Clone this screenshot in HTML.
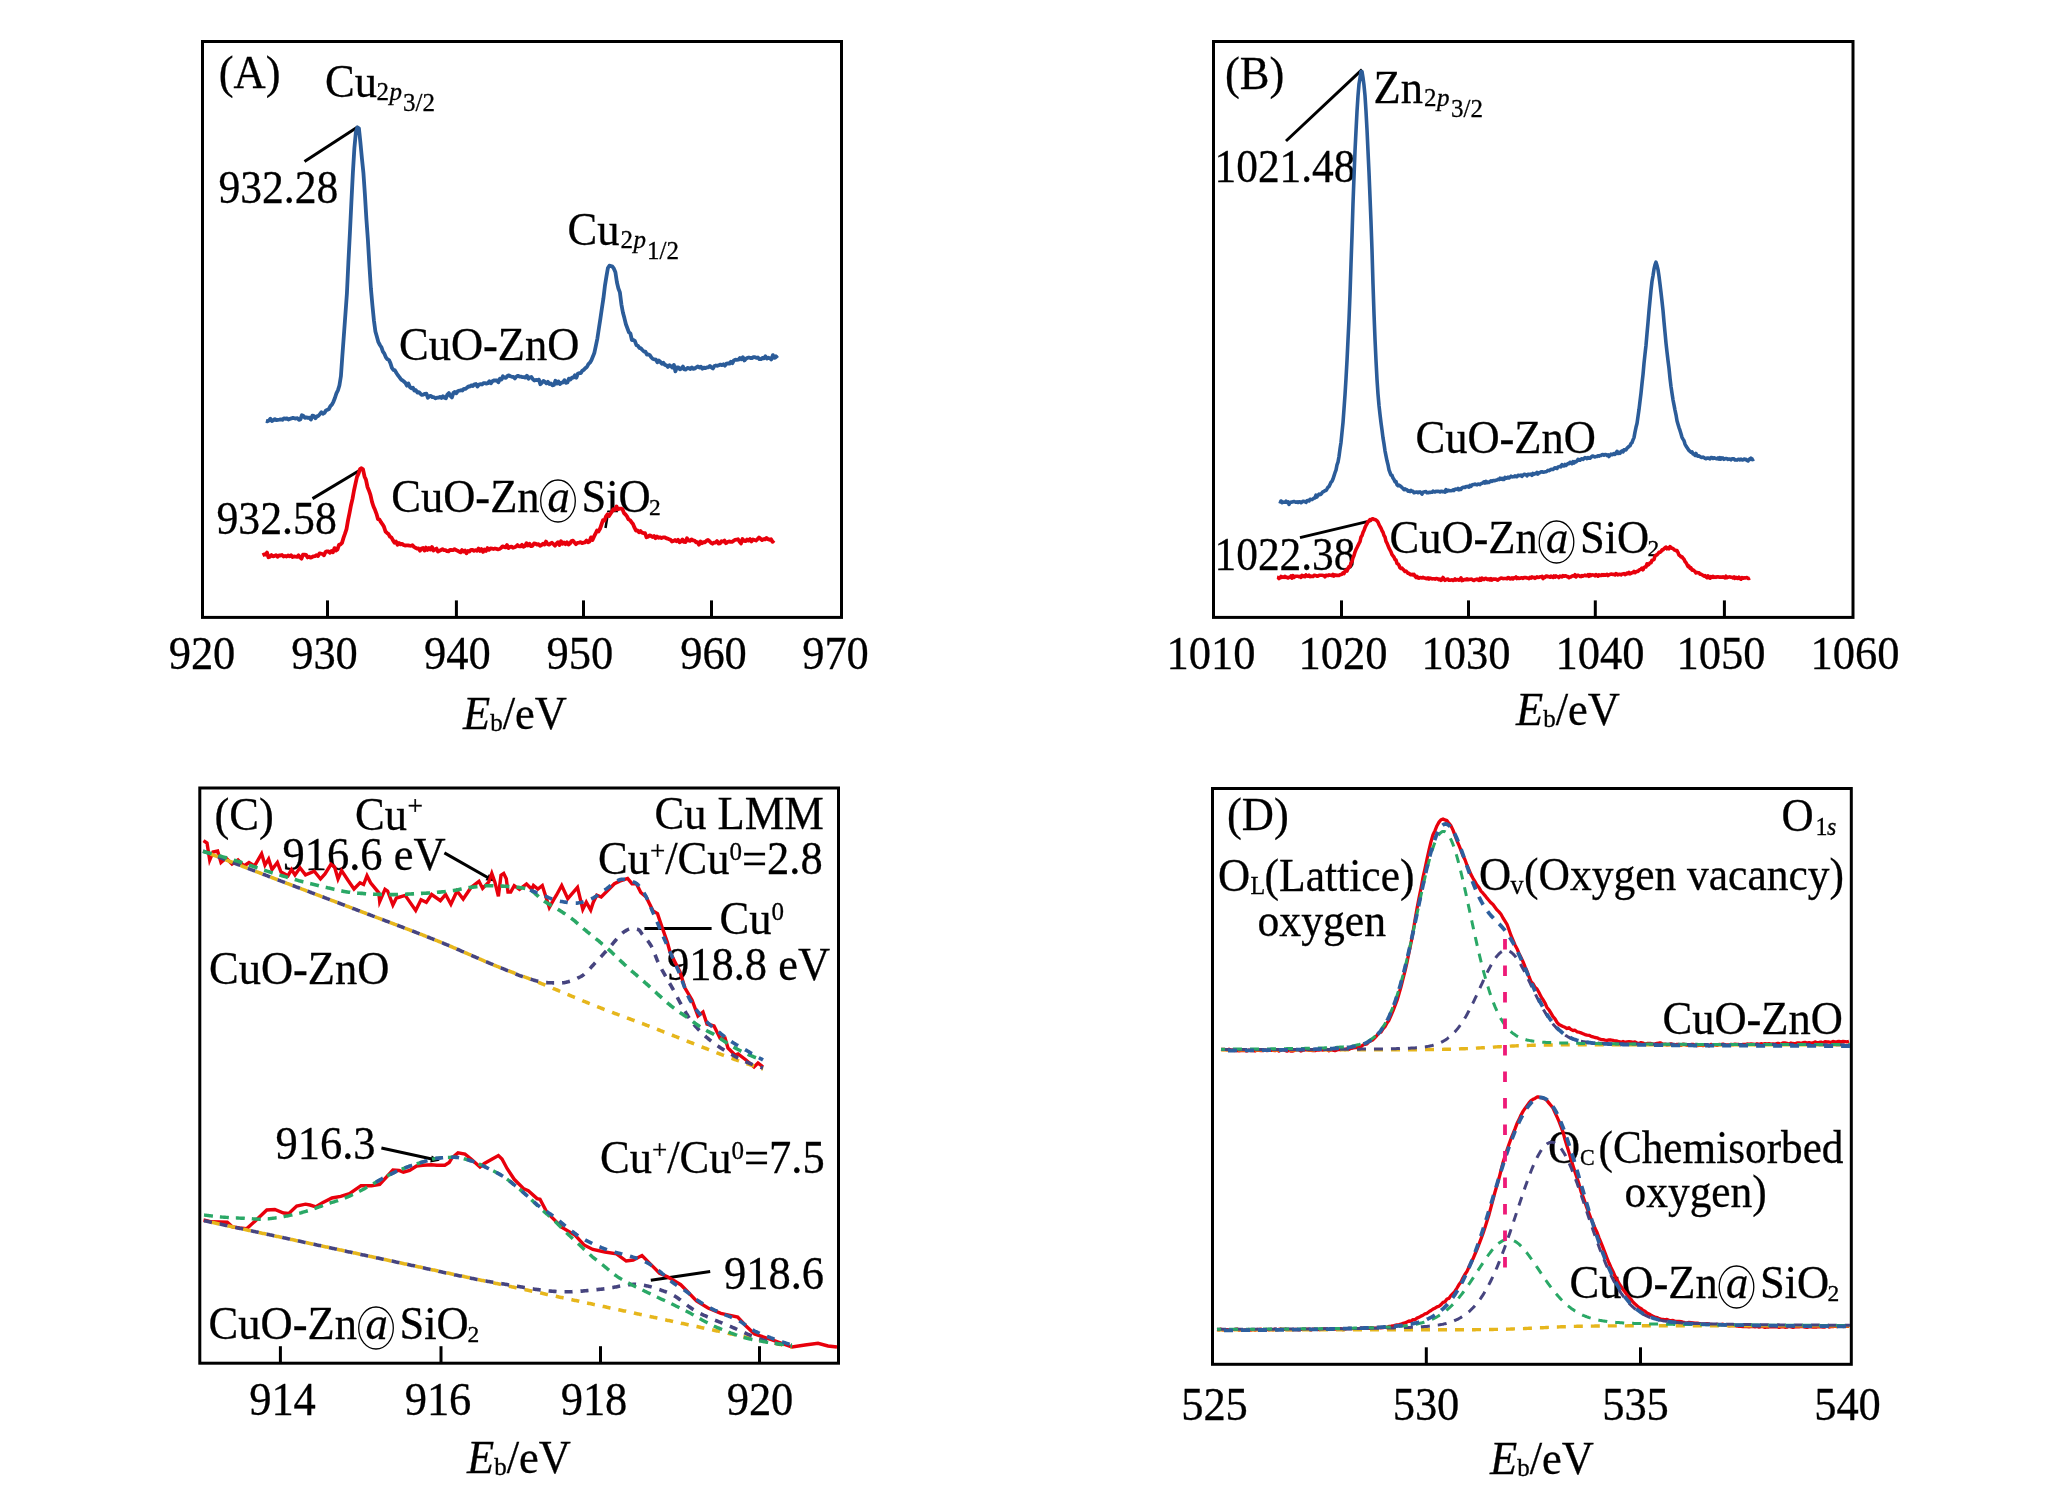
<!DOCTYPE html>
<html><head><meta charset="utf-8"><style>
html,body{margin:0;padding:0;background:#fff;}
svg{display:block;font-family:"Liberation Serif",serif;will-change:transform;}
text{stroke:#000;stroke-width:0.3px;}
</style></head><body>
<svg width="2047" height="1496" viewBox="0 0 2047 1496">
<rect width="2047" height="1496" fill="#fff"/>
<rect x="202.5" y="41.5" width="639.0" height="575.9" fill="none" stroke="#000" stroke-width="3"/>
<line x1="327.5" y1="617.4" x2="327.5" y2="600.4" stroke="#000" stroke-width="3"/>
<line x1="456.4" y1="617.4" x2="456.4" y2="600.4" stroke="#000" stroke-width="3"/>
<line x1="583.5" y1="617.4" x2="583.5" y2="600.4" stroke="#000" stroke-width="3"/>
<line x1="711.5" y1="617.4" x2="711.5" y2="600.4" stroke="#000" stroke-width="3"/>
<text transform="translate(202 668.5) scale(1 1.02)" font-size="44.5" text-anchor="middle">920</text>
<text transform="translate(324.5 668.5) scale(1 1.02)" font-size="44.5" text-anchor="middle">930</text>
<text transform="translate(457.4 668.5) scale(1 1.02)" font-size="44.5" text-anchor="middle">940</text>
<text transform="translate(579.9 668.5) scale(1 1.02)" font-size="44.5" text-anchor="middle">950</text>
<text transform="translate(713.5 668.5) scale(1 1.02)" font-size="44.5" text-anchor="middle">960</text>
<text transform="translate(835.5 668.5) scale(1 1.02)" font-size="44.5" text-anchor="middle">970</text>
<text transform="translate(515 729) scale(1 1.02)" font-size="44.5" text-anchor="middle"><tspan font-style="italic">E</tspan><tspan font-size="25" dy="2">b</tspan><tspan dy="-2">/eV</tspan></text>
<text transform="translate(218.7 88) scale(1 1.02)" font-size="44.5" text-anchor="start">(A)</text>
<text transform="translate(325 97) scale(1 1.02)" font-size="44.5" text-anchor="start">Cu</text>
<text transform="translate(376.5 100) scale(1 1.02)" font-size="25" text-anchor="start">2</text>
<text transform="translate(389.5 100) scale(1 1.02)" font-size="25" text-anchor="start" font-style="italic">p</text>
<text transform="translate(403 111) scale(1 1.02)" font-size="25" text-anchor="start">3/2</text>
<text transform="translate(218.5 202.8) scale(1 1.02)" font-size="44.5" text-anchor="start" textLength="119.8" lengthAdjust="spacingAndGlyphs">932.28</text>
<line x1="304.5" y1="161.4" x2="358" y2="126.8" stroke="#000" stroke-width="3"/>
<text transform="translate(567.5 245) scale(1 1.02)" font-size="44.5" text-anchor="start">Cu</text>
<text transform="translate(620.5 248) scale(1 1.02)" font-size="25" text-anchor="start">2</text>
<text transform="translate(633.5 248) scale(1 1.02)" font-size="25" text-anchor="start" font-style="italic">p</text>
<text transform="translate(647 259) scale(1 1.02)" font-size="25" text-anchor="start">1/2</text>
<text transform="translate(399 360.3) scale(1 1.02)" font-size="44.5" text-anchor="start">CuO-ZnO</text>
<text transform="translate(216.5 534) scale(1 1.02)" font-size="44.5" text-anchor="start" textLength="120.3" lengthAdjust="spacingAndGlyphs">932.58</text>
<line x1="312.5" y1="498.6" x2="359.4" y2="470.5" stroke="#000" stroke-width="3"/>
<text transform="translate(391.3 511.5) scale(1 1.02)" font-size="44.5" text-anchor="start">CuO-Zn</text>
<ellipse cx="558" cy="501" rx="17.3" ry="21" fill="none" stroke="#000" stroke-width="1.3"/>
<text transform="translate(547.5 511.5) scale(1 1.02)" font-size="44.5" text-anchor="start" font-style="italic">a</text>
<text transform="translate(581.5 511.5) scale(1 1.02)" font-size="44.5" text-anchor="start">SiO</text>
<text transform="translate(649 514.6) scale(1 1.02)" font-size="23.5" text-anchor="start">2</text>
<line x1="605.5" y1="528" x2="607.5" y2="516" stroke="#000" stroke-width="2.5"/>
<polyline points="265.9,420.9 267.4,421.3 268.9,420.6 270.4,418.7 271.9,421.0 273.4,420.3 274.9,419.1 276.4,420.2 277.9,419.9 279.4,419.7 280.9,419.3 282.4,419.8 283.9,418.3 285.4,418.8 286.9,418.4 288.4,419.5 289.9,418.8 291.4,418.4 292.9,417.8 294.4,418.3 295.9,418.5 297.4,418.2 298.9,419.8 300.4,419.4 301.9,415.2 303.4,416.0 304.9,417.8 306.4,417.4 307.9,417.9 309.4,417.7 310.9,419.5 312.4,415.6 313.9,416.1 315.4,418.3 316.9,416.4 318.4,415.9 319.9,414.1 321.4,412.3 322.9,413.7 324.4,412.9 325.9,410.4 327.4,409.8 328.9,409.0 330.4,406.2 331.9,404.7 333.4,401.8 334.9,398.0 336.4,393.3 337.9,390.4 339.4,385.5 340.9,376.3 342.4,355.2 343.9,334.8 345.4,314.3 346.9,293.6 348.4,262.0 349.9,233.0 351.4,201.8 352.9,172.3 354.4,147.9 355.9,132.0 357.4,127.4 358.9,128.3 360.4,142.5 361.9,158.3 363.4,172.7 364.9,194.4 366.4,219.1 367.9,239.8 369.4,265.4 370.9,288.5 372.4,305.1 373.9,320.3 375.4,331.4 376.9,336.7 378.4,342.2 379.9,345.0 381.4,347.2 382.9,351.6 384.4,353.7 385.9,357.4 387.4,359.3 388.9,359.9 390.4,363.1 391.9,367.9 393.4,369.9 394.9,370.4 396.4,373.0 397.9,375.3 399.4,377.1 400.9,379.3 402.4,380.3 403.9,381.5 405.4,382.9 406.9,385.7 408.4,383.4 409.9,387.0 411.4,388.3 412.9,387.7 414.4,390.6 415.9,390.2 417.4,392.6 418.9,392.2 420.4,393.7 421.9,394.9 423.4,394.6 424.9,393.8 426.4,393.7 427.9,397.8 429.4,396.2 430.9,395.9 432.4,397.2 433.9,397.1 435.4,398.4 436.9,397.7 438.4,397.7 439.9,396.9 441.4,398.0 442.9,396.2 444.4,397.7 445.9,398.3 447.4,394.5 448.9,393.0 450.4,395.9 451.9,397.4 453.4,392.9 454.9,391.9 456.4,393.3 457.9,391.0 459.4,390.7 460.9,390.2 462.4,390.5 463.9,388.8 465.4,388.9 466.9,387.8 468.4,386.5 469.9,386.5 471.4,385.3 472.9,386.0 474.4,384.3 475.9,384.0 477.4,386.5 478.9,384.5 480.4,384.2 481.9,384.5 483.4,383.2 484.9,383.2 486.4,383.6 487.9,383.2 489.4,381.3 490.9,383.2 492.4,381.3 493.9,380.5 495.4,380.3 496.9,380.5 498.4,382.3 499.9,378.7 501.4,379.6 502.9,376.3 504.4,377.7 505.9,377.9 507.4,376.0 508.9,375.3 510.4,376.3 511.9,376.8 513.4,376.9 514.9,378.4 516.4,376.6 517.9,375.8 519.4,376.5 520.9,376.7 522.4,377.1 523.9,377.1 525.4,377.6 526.9,375.7 528.4,378.7 529.9,377.4 531.4,377.0 532.9,379.3 534.4,380.5 535.9,380.0 537.4,380.2 538.9,379.6 540.4,384.3 541.9,382.7 543.4,381.0 544.9,381.9 546.4,383.3 547.9,381.8 549.4,384.0 550.9,383.5 552.4,385.3 553.9,385.0 555.4,380.8 556.9,383.6 558.4,381.4 559.9,384.0 561.4,382.6 562.9,382.5 564.4,380.2 565.9,382.9 567.4,382.5 568.9,378.6 570.4,379.5 571.9,377.7 573.4,377.6 574.9,375.3 576.4,377.7 577.9,373.5 579.4,373.2 580.9,373.0 582.4,370.6 583.9,369.8 585.4,368.1 586.9,367.0 588.4,364.1 589.9,362.7 591.4,360.2 592.9,356.6 594.4,352.7 595.9,345.7 597.4,338.3 598.9,328.2 600.4,318.6 601.9,308.3 603.4,298.4 604.9,285.9 606.4,276.6 607.9,268.0 609.4,265.7 610.9,266.0 612.4,266.6 613.9,268.7 615.4,272.3 616.9,282.3 618.4,288.5 619.9,292.4 621.4,304.3 622.9,312.5 624.4,318.1 625.9,324.3 627.4,328.2 628.9,332.3 630.4,333.5 631.9,340.0 633.4,339.9 634.9,341.1 636.4,345.2 637.9,345.7 639.4,347.9 640.9,348.4 642.4,350.0 643.9,351.5 645.4,351.7 646.9,354.5 648.4,354.5 649.9,355.2 651.4,357.5 652.9,359.0 654.4,359.3 655.9,359.6 657.4,362.3 658.9,360.6 660.4,362.0 661.9,363.8 663.4,362.8 664.9,364.9 666.4,365.3 667.9,366.9 669.4,365.3 670.9,366.1 672.4,367.6 673.9,364.9 675.4,371.3 676.9,367.4 678.4,367.5 679.9,369.4 681.4,368.5 682.9,366.6 684.4,369.3 685.9,369.5 687.4,368.0 688.9,368.2 690.4,369.0 691.9,367.4 693.4,368.8 694.9,368.4 696.4,367.3 697.9,366.4 699.4,367.6 700.9,366.8 702.4,368.7 703.9,367.6 705.4,368.2 706.9,367.3 708.4,367.3 709.9,366.0 711.4,367.4 712.9,368.4 714.4,366.0 715.9,365.5 717.4,365.8 718.9,365.2 720.4,364.6 721.9,365.2 723.4,364.3 724.9,365.7 726.4,363.7 727.9,363.5 729.4,363.7 730.9,361.8 732.4,363.2 733.9,360.4 735.4,359.7 736.9,359.8 738.4,359.7 739.9,357.9 741.4,359.2 742.9,357.2 744.4,360.4 745.9,358.7 747.4,357.9 748.9,357.5 750.4,358.0 751.9,358.1 753.4,357.1 754.9,357.2 756.4,357.9 757.9,357.5 759.4,359.1 760.9,359.2 762.4,357.9 763.9,358.4 765.4,356.3 766.9,358.5 768.4,357.7 769.9,358.2 771.4,359.4 772.9,355.1 774.4,357.8 775.9,356.3 777.4,358.2" fill="none" stroke="#2b5c99" stroke-width="3.8" stroke-linejoin="round" opacity="1"/>
<polyline points="262.5,555.2 264.0,554.5 265.5,554.7 267.0,552.6 268.5,557.3 270.0,556.7 271.5,555.1 273.0,556.4 274.5,555.9 276.0,555.1 277.5,556.8 279.0,555.5 280.5,555.5 282.0,555.0 283.5,556.5 285.0,555.9 286.5,556.6 288.0,555.4 289.5,556.3 291.0,555.2 292.5,557.1 294.0,556.5 295.5,556.7 297.0,556.8 298.5,555.3 300.0,557.3 301.5,558.7 303.0,554.7 304.5,554.6 306.0,554.8 307.5,557.4 309.0,556.6 310.5,557.6 312.0,557.1 313.5,556.3 315.0,556.1 316.5,555.2 318.0,556.0 319.5,553.3 321.0,553.7 322.5,554.0 324.0,555.3 325.5,552.0 327.0,551.3 328.5,551.5 330.0,552.8 331.5,551.0 333.0,552.2 334.5,548.1 336.0,550.6 337.5,549.4 339.0,544.9 340.5,544.4 342.0,542.9 343.5,537.9 345.0,533.7 346.5,529.1 348.0,520.4 349.5,513.2 351.0,505.2 352.5,498.9 354.0,490.5 355.5,483.6 357.0,476.9 358.5,473.7 360.0,469.2 361.5,468.2 363.0,469.3 364.5,476.4 366.0,479.8 367.5,487.0 369.0,490.7 370.5,495.1 372.0,501.9 373.5,506.5 375.0,509.8 376.5,513.8 378.0,519.2 379.5,519.6 381.0,522.2 382.5,524.3 384.0,526.8 385.5,531.5 387.0,532.9 388.5,534.1 390.0,536.7 391.5,537.6 393.0,540.4 394.5,542.7 396.0,541.6 397.5,544.8 399.0,543.0 400.5,544.4 402.0,543.8 403.5,544.9 405.0,545.5 406.5,545.4 408.0,545.4 409.5,545.7 411.0,545.8 412.5,545.2 414.0,546.9 415.5,547.8 417.0,548.6 418.5,548.5 420.0,550.7 421.5,548.5 423.0,547.9 424.5,550.6 426.0,547.6 427.5,549.9 429.0,548.0 430.5,549.6 432.0,547.1 433.5,550.4 435.0,549.4 436.5,548.6 438.0,551.6 439.5,550.7 441.0,550.0 442.5,549.2 444.0,550.1 445.5,550.1 447.0,551.1 448.5,551.3 450.0,549.8 451.5,550.0 453.0,550.1 454.5,549.2 456.0,550.1 457.5,550.7 459.0,551.6 460.5,552.4 462.0,550.1 463.5,551.6 465.0,550.5 466.5,553.3 468.0,550.9 469.5,551.5 471.0,549.8 472.5,549.9 474.0,550.9 475.5,550.1 477.0,550.8 478.5,548.6 480.0,550.9 481.5,549.1 483.0,551.9 484.5,549.5 486.0,550.9 487.5,548.1 489.0,549.9 490.5,548.3 492.0,548.6 493.5,549.0 495.0,548.5 496.5,548.9 498.0,549.3 499.5,549.0 501.0,548.0 502.5,546.4 504.0,546.9 505.5,547.4 507.0,545.1 508.5,548.1 510.0,546.8 511.5,546.6 513.0,547.8 514.5,547.3 516.0,546.6 517.5,545.1 519.0,546.4 520.5,546.3 522.0,544.8 523.5,546.8 525.0,546.1 526.5,543.2 528.0,545.4 529.5,543.7 531.0,546.2 532.5,545.8 534.0,543.5 535.5,543.6 537.0,544.6 538.5,544.1 540.0,545.9 541.5,545.0 543.0,543.8 544.5,544.6 546.0,541.6 547.5,544.1 549.0,544.7 550.5,543.5 552.0,542.8 553.5,544.2 555.0,545.7 556.5,543.7 558.0,542.2 559.5,545.0 561.0,541.3 562.5,543.8 564.0,542.6 565.5,544.2 567.0,542.2 568.5,544.6 570.0,543.4 571.5,541.1 573.0,540.7 574.5,542.5 576.0,544.2 577.5,542.8 579.0,542.6 580.5,542.2 582.0,543.1 583.5,542.6 585.0,542.3 586.5,540.6 588.0,542.3 589.5,541.5 591.0,537.4 592.5,540.0 594.0,536.7 595.5,533.7 597.0,530.5 598.5,531.4 600.0,528.8 601.5,524.5 603.0,520.2 604.5,520.6 606.0,516.3 607.5,514.3 609.0,516.0 610.5,513.7 612.0,511.5 613.5,509.1 615.0,509.8 616.5,506.5 618.0,509.3 619.5,508.7 621.0,508.6 622.5,509.2 624.0,513.1 625.5,514.5 627.0,516.4 628.5,519.4 630.0,520.1 631.5,522.2 633.0,524.0 634.5,527.7 636.0,530.5 637.5,530.5 639.0,532.3 640.5,531.1 642.0,532.7 643.5,533.1 645.0,533.2 646.5,537.3 648.0,536.7 649.5,535.4 651.0,535.9 652.5,537.1 654.0,535.9 655.5,538.2 657.0,536.6 658.5,537.8 660.0,537.3 661.5,538.1 663.0,537.4 664.5,537.3 666.0,538.1 667.5,538.6 669.0,539.2 670.5,539.8 672.0,541.6 673.5,541.0 675.0,540.0 676.5,541.2 678.0,539.8 679.5,542.3 681.0,541.4 682.5,539.4 684.0,541.9 685.5,542.0 687.0,538.3 688.5,540.5 690.0,540.9 691.5,539.4 693.0,540.4 694.5,540.6 696.0,542.3 697.5,542.1 699.0,544.7 700.5,541.5 702.0,543.2 703.5,542.1 705.0,542.3 706.5,540.7 708.0,539.9 709.5,541.2 711.0,542.8 712.5,543.7 714.0,542.6 715.5,542.5 717.0,541.0 718.5,543.5 720.0,543.3 721.5,541.2 723.0,541.7 724.5,540.6 726.0,543.2 727.5,542.0 729.0,541.4 730.5,541.9 732.0,541.8 733.5,540.8 735.0,539.9 736.5,539.7 738.0,539.2 739.5,541.5 741.0,543.4 742.5,539.0 744.0,540.9 745.5,541.1 747.0,539.5 748.5,540.6 750.0,539.1 751.5,541.5 753.0,539.4 754.5,540.0 756.0,540.5 757.5,539.1 759.0,537.5 760.5,538.8 762.0,540.1 763.5,539.1 765.0,539.4 766.5,537.9 768.0,539.2 769.5,539.8 771.0,539.2 772.5,541.8 774.0,540.3" fill="none" stroke="#e8000c" stroke-width="3.8" stroke-linejoin="round" opacity="1"/>
<rect x="1213.5" y="41.5" width="639.5" height="575.9" fill="none" stroke="#000" stroke-width="3"/>
<line x1="1341.5" y1="617.4" x2="1341.5" y2="600.4" stroke="#000" stroke-width="3"/>
<line x1="1468.5" y1="617.4" x2="1468.5" y2="600.4" stroke="#000" stroke-width="3"/>
<line x1="1595.3" y1="617.4" x2="1595.3" y2="600.4" stroke="#000" stroke-width="3"/>
<line x1="1724.4" y1="617.4" x2="1724.4" y2="600.4" stroke="#000" stroke-width="3"/>
<text transform="translate(1211 668.5) scale(1 1.02)" font-size="44.5" text-anchor="middle">1010</text>
<text transform="translate(1343 668.5) scale(1 1.02)" font-size="44.5" text-anchor="middle">1020</text>
<text transform="translate(1466 668.5) scale(1 1.02)" font-size="44.5" text-anchor="middle">1030</text>
<text transform="translate(1600 668.5) scale(1 1.02)" font-size="44.5" text-anchor="middle">1040</text>
<text transform="translate(1721 668.5) scale(1 1.02)" font-size="44.5" text-anchor="middle">1050</text>
<text transform="translate(1855 668.5) scale(1 1.02)" font-size="44.5" text-anchor="middle">1060</text>
<text transform="translate(1568 725) scale(1 1.02)" font-size="44.5" text-anchor="middle"><tspan font-style="italic">E</tspan><tspan font-size="25" dy="2">b</tspan><tspan dy="-2">/eV</tspan></text>
<text transform="translate(1225 88.5) scale(1 1.02)" font-size="44.5" text-anchor="start">(B)</text>
<text transform="translate(1373.5 103) scale(1 1.02)" font-size="44.5" text-anchor="start">Zn</text>
<text transform="translate(1424 106) scale(1 1.02)" font-size="25" text-anchor="start">2</text>
<text transform="translate(1437 106) scale(1 1.02)" font-size="25" text-anchor="start" font-style="italic">p</text>
<text transform="translate(1451 117) scale(1 1.02)" font-size="25" text-anchor="start">3/2</text>
<text transform="translate(1214.5 181.5) scale(1 1.02)" font-size="44.5" text-anchor="start" textLength="141" lengthAdjust="spacingAndGlyphs">1021.48</text>
<line x1="1286" y1="141" x2="1362" y2="69.7" stroke="#000" stroke-width="3"/>
<text transform="translate(1415.5 453.4) scale(1 1.02)" font-size="44.5" text-anchor="start">CuO-ZnO</text>
<text transform="translate(1214.5 569.5) scale(1 1.02)" font-size="44.5" text-anchor="start" textLength="141" lengthAdjust="spacingAndGlyphs">1022.38</text>
<line x1="1300" y1="537.6" x2="1371.3" y2="520.6" stroke="#000" stroke-width="3"/>
<text transform="translate(1389.5 552.7) scale(1 1.02)" font-size="44.5" text-anchor="start">CuO-Zn</text>
<ellipse cx="1556.5" cy="542" rx="17.3" ry="21" fill="none" stroke="#000" stroke-width="1.3"/>
<text transform="translate(1546.0 552.7) scale(1 1.02)" font-size="44.5" text-anchor="start" font-style="italic">a</text>
<text transform="translate(1580 552.7) scale(1 1.02)" font-size="44.5" text-anchor="start">SiO</text>
<text transform="translate(1647.5 556) scale(1 1.02)" font-size="23.5" text-anchor="start">2</text>
<polyline points="1280.0,503.7 1281.0,501.0 1282.0,502.7 1283.0,502.1 1284.0,502.2 1285.0,502.3 1286.0,501.2 1287.0,502.3 1288.0,501.9 1289.0,504.3 1290.0,502.5 1291.0,502.1 1292.0,502.1 1293.0,501.8 1294.0,501.5 1295.0,501.9 1296.0,502.3 1297.0,501.8 1298.0,502.5 1299.0,501.7 1300.0,501.8 1301.0,502.7 1302.0,502.0 1303.0,501.3 1304.0,501.4 1305.0,501.7 1306.0,502.4 1307.0,500.8 1308.0,500.5 1309.0,501.0 1310.0,499.4 1311.0,499.4 1312.0,499.6 1313.0,498.9 1314.0,498.1 1315.0,497.9 1316.0,495.2 1317.0,497.0 1318.0,495.2 1319.0,494.1 1320.0,494.7 1321.0,494.3 1322.0,492.9 1323.0,491.7 1324.0,491.5 1325.0,490.5 1326.0,490.4 1327.0,488.9 1328.0,487.3 1329.0,486.6 1330.0,484.4 1331.0,482.3 1332.0,481.3 1333.0,479.0 1334.0,475.9 1335.0,472.7 1336.0,470.1 1337.0,464.8 1338.0,462.1 1339.0,456.5 1340.0,449.0 1341.0,442.4 1342.0,432.4 1343.0,422.6 1344.0,408.8 1345.0,394.9 1346.0,378.7 1347.0,360.7 1348.0,339.9 1349.0,319.7 1350.0,294.2 1351.0,264.3 1352.0,235.9 1353.0,203.5 1354.0,176.9 1355.0,151.0 1356.0,130.8 1357.0,111.5 1358.0,95.8 1359.0,84.0 1360.0,78.1 1361.0,71.5 1362.0,71.5 1363.0,77.8 1364.0,85.3 1365.0,95.7 1366.0,111.3 1367.0,129.5 1368.0,151.2 1369.0,172.4 1370.0,196.9 1371.0,222.1 1372.0,250.1 1373.0,284.1 1374.0,313.8 1375.0,339.0 1376.0,360.5 1377.0,379.4 1378.0,394.2 1379.0,405.5 1380.0,414.5 1381.0,422.8 1382.0,429.9 1383.0,437.9 1384.0,443.9 1385.0,450.8 1386.0,455.9 1387.0,460.8 1388.0,464.7 1389.0,469.8 1390.0,472.5 1391.0,475.2 1392.0,475.3 1393.0,478.1 1394.0,479.6 1395.0,481.8 1396.0,481.5 1397.0,484.7 1398.0,485.7 1399.0,485.1 1400.0,485.9 1401.0,486.5 1402.0,487.6 1403.0,488.4 1404.0,489.7 1405.0,488.8 1406.0,489.8 1407.0,489.9 1408.0,491.2 1409.0,490.9 1410.0,491.6 1411.0,490.5 1412.0,491.3 1413.0,491.2 1414.0,492.8 1415.0,492.5 1416.0,492.0 1417.0,492.1 1418.0,492.7 1419.0,492.1 1420.0,491.9 1421.0,492.8 1422.0,494.0 1423.0,492.3 1424.0,492.1 1425.0,491.7 1426.0,491.6 1427.0,492.7 1428.0,492.8 1429.0,492.3 1430.0,492.4 1431.0,492.2 1432.0,492.2 1433.0,491.1 1434.0,491.7 1435.0,492.0 1436.0,491.4 1437.0,491.5 1438.0,491.2 1439.0,491.4 1440.0,492.0 1441.0,491.2 1442.0,491.3 1443.0,491.8 1444.0,491.6 1445.0,492.1 1446.0,489.7 1447.0,491.3 1448.0,490.3 1449.0,490.5 1450.0,490.8 1451.0,490.8 1452.0,490.6 1453.0,489.8 1454.0,490.5 1455.0,489.2 1456.0,489.1 1457.0,489.4 1458.0,488.4 1459.0,489.8 1460.0,488.9 1461.0,489.3 1462.0,487.8 1463.0,487.3 1464.0,487.4 1465.0,487.5 1466.0,486.5 1467.0,486.8 1468.0,486.3 1469.0,487.1 1470.0,485.5 1471.0,486.3 1472.0,485.0 1473.0,484.6 1474.0,484.5 1475.0,484.0 1476.0,484.6 1477.0,484.9 1478.0,484.1 1479.0,484.2 1480.0,484.6 1481.0,483.6 1482.0,483.3 1483.0,482.9 1484.0,481.8 1485.0,483.1 1486.0,481.3 1487.0,482.6 1488.0,482.0 1489.0,482.5 1490.0,481.5 1491.0,480.9 1492.0,481.4 1493.0,480.6 1494.0,480.6 1495.0,480.6 1496.0,480.2 1497.0,480.0 1498.0,479.4 1499.0,479.6 1500.0,478.2 1501.0,479.2 1502.0,478.3 1503.0,479.5 1504.0,479.4 1505.0,477.3 1506.0,478.3 1507.0,478.0 1508.0,477.2 1509.0,478.0 1510.0,477.2 1511.0,476.2 1512.0,476.9 1513.0,476.8 1514.0,476.8 1515.0,475.8 1516.0,476.7 1517.0,476.6 1518.0,475.3 1519.0,475.4 1520.0,475.6 1521.0,475.1 1522.0,476.3 1523.0,475.3 1524.0,474.4 1525.0,474.4 1526.0,474.7 1527.0,475.9 1528.0,474.3 1529.0,474.4 1530.0,474.5 1531.0,474.0 1532.0,475.3 1533.0,473.5 1534.0,474.1 1535.0,473.6 1536.0,473.7 1537.0,472.4 1538.0,474.0 1539.0,472.7 1540.0,472.6 1541.0,471.8 1542.0,471.7 1543.0,472.2 1544.0,472.2 1545.0,471.8 1546.0,471.8 1547.0,471.2 1548.0,470.4 1549.0,470.6 1550.0,470.1 1551.0,469.3 1552.0,469.5 1553.0,469.5 1554.0,468.5 1555.0,467.8 1556.0,468.1 1557.0,468.5 1558.0,466.9 1559.0,466.7 1560.0,466.3 1561.0,466.8 1562.0,464.7 1563.0,465.7 1564.0,465.9 1565.0,464.4 1566.0,465.4 1567.0,464.5 1568.0,463.5 1569.0,463.7 1570.0,462.3 1571.0,462.6 1572.0,463.7 1573.0,461.7 1574.0,463.0 1575.0,461.6 1576.0,461.9 1577.0,461.0 1578.0,459.3 1579.0,460.0 1580.0,460.2 1581.0,459.1 1582.0,458.7 1583.0,459.4 1584.0,458.5 1585.0,457.6 1586.0,458.0 1587.0,458.6 1588.0,457.6 1589.0,458.2 1590.0,458.3 1591.0,457.2 1592.0,456.3 1593.0,456.0 1594.0,456.6 1595.0,457.0 1596.0,456.5 1597.0,456.5 1598.0,455.8 1599.0,456.1 1600.0,455.5 1601.0,455.5 1602.0,454.8 1603.0,454.5 1604.0,455.1 1605.0,454.6 1606.0,454.5 1607.0,455.4 1608.0,454.8 1609.0,456.5 1610.0,455.2 1611.0,454.1 1612.0,454.8 1613.0,454.3 1614.0,453.5 1615.0,454.4 1616.0,453.0 1617.0,451.4 1618.0,453.5 1619.0,452.3 1620.0,453.3 1621.0,451.6 1622.0,450.8 1623.0,451.9 1624.0,449.8 1625.0,449.9 1626.0,449.9 1627.0,448.3 1628.0,447.3 1629.0,446.4 1630.0,445.7 1631.0,443.5 1632.0,442.6 1633.0,439.9 1634.0,437.6 1635.0,432.1 1636.0,427.3 1637.0,423.5 1638.0,416.6 1639.0,409.6 1640.0,401.2 1641.0,393.2 1642.0,383.5 1643.0,374.6 1644.0,363.3 1645.0,354.1 1646.0,345.2 1647.0,333.6 1648.0,322.7 1649.0,310.8 1650.0,300.5 1651.0,290.1 1652.0,281.3 1653.0,275.7 1654.0,269.2 1655.0,264.9 1656.0,262.2 1657.0,265.5 1658.0,269.6 1659.0,276.3 1660.0,284.2 1661.0,292.5 1662.0,301.3 1663.0,310.4 1664.0,321.8 1665.0,332.4 1666.0,343.1 1667.0,352.0 1668.0,360.5 1669.0,368.3 1670.0,378.2 1671.0,386.5 1672.0,393.3 1673.0,399.8 1674.0,404.8 1675.0,410.1 1676.0,414.8 1677.0,420.7 1678.0,424.2 1679.0,427.6 1680.0,430.4 1681.0,433.8 1682.0,437.3 1683.0,439.1 1684.0,440.7 1685.0,444.1 1686.0,446.0 1687.0,447.5 1688.0,449.0 1689.0,450.5 1690.0,451.2 1691.0,452.2 1692.0,451.9 1693.0,453.9 1694.0,453.7 1695.0,455.4 1696.0,453.5 1697.0,455.6 1698.0,456.2 1699.0,455.9 1700.0,456.7 1701.0,457.2 1702.0,457.5 1703.0,457.0 1704.0,457.5 1705.0,458.4 1706.0,458.7 1707.0,458.1 1708.0,458.1 1709.0,458.3 1710.0,458.8 1711.0,457.6 1712.0,457.5 1713.0,458.5 1714.0,457.8 1715.0,458.1 1716.0,458.6 1717.0,458.9 1718.0,458.0 1719.0,459.2 1720.0,457.7 1721.0,459.1 1722.0,457.9 1723.0,458.1 1724.0,459.3 1725.0,458.7 1726.0,458.5 1727.0,458.8 1728.0,459.4 1729.0,459.1 1730.0,459.1 1731.0,459.8 1732.0,458.8 1733.0,458.9 1734.0,458.9 1735.0,460.0 1736.0,459.9 1737.0,460.1 1738.0,459.3 1739.0,459.3 1740.0,459.9 1741.0,459.2 1742.0,459.9 1743.0,459.9 1744.0,459.0 1745.0,459.4 1746.0,459.4 1747.0,460.5 1748.0,461.0 1749.0,459.4 1750.0,459.5 1751.0,458.1 1752.0,459.6 1753.0,459.5 1754.0,458.9" fill="none" stroke="#2b5c99" stroke-width="3.6" stroke-linejoin="round" opacity="1"/>
<polyline points="1277.0,577.3 1278.0,577.5 1279.0,578.6 1280.0,577.9 1281.0,576.5 1282.0,577.4 1283.0,577.0 1284.0,577.4 1285.0,576.3 1286.0,577.4 1287.0,577.3 1288.0,578.0 1289.0,577.2 1290.0,577.3 1291.0,576.0 1292.0,578.2 1293.0,575.7 1294.0,577.4 1295.0,576.5 1296.0,576.2 1297.0,576.2 1298.0,576.2 1299.0,576.8 1300.0,576.4 1301.0,577.3 1302.0,575.3 1303.0,576.3 1304.0,575.8 1305.0,576.7 1306.0,574.9 1307.0,575.9 1308.0,576.2 1309.0,575.2 1310.0,576.6 1311.0,576.1 1312.0,576.5 1313.0,576.5 1314.0,575.3 1315.0,575.3 1316.0,575.7 1317.0,576.2 1318.0,576.2 1319.0,575.3 1320.0,575.3 1321.0,575.2 1322.0,575.3 1323.0,575.5 1324.0,575.5 1325.0,576.8 1326.0,575.2 1327.0,575.3 1328.0,575.7 1329.0,574.8 1330.0,575.2 1331.0,575.3 1332.0,575.7 1333.0,574.4 1334.0,576.0 1335.0,574.9 1336.0,575.1 1337.0,575.5 1338.0,575.3 1339.0,575.4 1340.0,574.8 1341.0,574.5 1342.0,574.3 1343.0,572.9 1344.0,573.5 1345.0,571.4 1346.0,570.1 1347.0,571.0 1348.0,568.6 1349.0,566.6 1350.0,566.6 1351.0,563.1 1352.0,561.5 1353.0,557.8 1354.0,555.5 1355.0,552.1 1356.0,549.5 1357.0,547.6 1358.0,545.5 1359.0,543.4 1360.0,541.7 1361.0,537.0 1362.0,535.7 1363.0,532.4 1364.0,530.5 1365.0,527.6 1366.0,525.4 1367.0,523.8 1368.0,521.7 1369.0,520.9 1370.0,519.6 1371.0,520.1 1372.0,519.0 1373.0,518.7 1374.0,519.4 1375.0,519.6 1376.0,520.0 1377.0,520.9 1378.0,522.2 1379.0,524.7 1380.0,526.5 1381.0,528.2 1382.0,530.7 1383.0,532.3 1384.0,535.5 1385.0,537.0 1386.0,541.3 1387.0,543.1 1388.0,545.7 1389.0,548.2 1390.0,550.0 1391.0,551.8 1392.0,554.6 1393.0,555.8 1394.0,557.1 1395.0,559.6 1396.0,560.0 1397.0,563.6 1398.0,563.9 1399.0,565.3 1400.0,567.7 1401.0,568.5 1402.0,568.1 1403.0,569.3 1404.0,570.3 1405.0,571.5 1406.0,571.1 1407.0,572.0 1408.0,573.3 1409.0,573.4 1410.0,574.3 1411.0,574.8 1412.0,574.3 1413.0,575.0 1414.0,574.4 1415.0,576.2 1416.0,577.5 1417.0,576.4 1418.0,578.0 1419.0,578.1 1420.0,577.6 1421.0,577.8 1422.0,577.9 1423.0,577.4 1424.0,577.9 1425.0,578.1 1426.0,578.6 1427.0,578.8 1428.0,577.9 1429.0,579.0 1430.0,578.1 1431.0,578.5 1432.0,578.9 1433.0,578.8 1434.0,578.8 1435.0,579.1 1436.0,578.6 1437.0,578.6 1438.0,579.0 1439.0,579.7 1440.0,579.1 1441.0,580.4 1442.0,579.4 1443.0,577.5 1444.0,579.1 1445.0,580.4 1446.0,579.4 1447.0,579.2 1448.0,579.0 1449.0,580.3 1450.0,580.2 1451.0,580.0 1452.0,579.9 1453.0,580.5 1454.0,580.1 1455.0,578.9 1456.0,580.1 1457.0,579.8 1458.0,579.6 1459.0,580.2 1460.0,579.7 1461.0,577.9 1462.0,580.6 1463.0,580.3 1464.0,579.6 1465.0,579.5 1466.0,579.8 1467.0,578.9 1468.0,579.8 1469.0,579.5 1470.0,579.4 1471.0,579.1 1472.0,579.2 1473.0,580.2 1474.0,580.4 1475.0,579.8 1476.0,579.5 1477.0,579.0 1478.0,579.9 1479.0,580.4 1480.0,578.5 1481.0,580.1 1482.0,578.1 1483.0,579.1 1484.0,579.5 1485.0,578.5 1486.0,578.3 1487.0,579.3 1488.0,579.7 1489.0,578.9 1490.0,579.9 1491.0,578.6 1492.0,580.1 1493.0,579.1 1494.0,579.1 1495.0,579.3 1496.0,579.1 1497.0,580.0 1498.0,580.1 1499.0,579.1 1500.0,578.6 1501.0,578.0 1502.0,578.2 1503.0,578.6 1504.0,578.5 1505.0,578.5 1506.0,578.5 1507.0,578.7 1508.0,577.6 1509.0,577.7 1510.0,579.0 1511.0,578.8 1512.0,577.9 1513.0,578.9 1514.0,577.7 1515.0,577.9 1516.0,576.9 1517.0,578.5 1518.0,577.9 1519.0,578.5 1520.0,578.3 1521.0,577.9 1522.0,577.9 1523.0,578.4 1524.0,577.6 1525.0,577.5 1526.0,577.6 1527.0,578.0 1528.0,578.1 1529.0,578.6 1530.0,577.4 1531.0,578.1 1532.0,576.9 1533.0,577.7 1534.0,577.3 1535.0,578.3 1536.0,577.5 1537.0,576.9 1538.0,577.4 1539.0,577.3 1540.0,576.8 1541.0,576.8 1542.0,576.4 1543.0,578.6 1544.0,577.0 1545.0,577.4 1546.0,576.1 1547.0,576.1 1548.0,576.7 1549.0,576.6 1550.0,577.2 1551.0,576.1 1552.0,577.0 1553.0,577.5 1554.0,576.0 1555.0,577.1 1556.0,575.9 1557.0,576.7 1558.0,576.7 1559.0,577.5 1560.0,576.0 1561.0,576.5 1562.0,577.0 1563.0,575.6 1564.0,576.3 1565.0,575.8 1566.0,575.8 1567.0,576.6 1568.0,576.6 1569.0,577.7 1570.0,577.0 1571.0,576.9 1572.0,576.0 1573.0,575.9 1574.0,576.1 1575.0,574.7 1576.0,577.0 1577.0,575.6 1578.0,575.3 1579.0,575.6 1580.0,576.4 1581.0,576.6 1582.0,575.6 1583.0,576.1 1584.0,575.7 1585.0,575.1 1586.0,575.8 1587.0,575.7 1588.0,574.7 1589.0,576.3 1590.0,574.6 1591.0,575.7 1592.0,574.9 1593.0,575.0 1594.0,575.0 1595.0,575.8 1596.0,574.6 1597.0,575.2 1598.0,576.2 1599.0,574.8 1600.0,575.2 1601.0,575.5 1602.0,574.7 1603.0,575.3 1604.0,574.6 1605.0,575.3 1606.0,574.9 1607.0,574.3 1608.0,575.6 1609.0,574.7 1610.0,574.5 1611.0,574.0 1612.0,574.3 1613.0,574.4 1614.0,574.5 1615.0,575.0 1616.0,573.5 1617.0,574.0 1618.0,574.9 1619.0,574.2 1620.0,574.2 1621.0,574.9 1622.0,574.0 1623.0,574.0 1624.0,573.6 1625.0,574.6 1626.0,574.1 1627.0,573.0 1628.0,573.7 1629.0,572.5 1630.0,573.8 1631.0,573.4 1632.0,572.8 1633.0,572.5 1634.0,571.4 1635.0,572.7 1636.0,571.8 1637.0,571.3 1638.0,571.5 1639.0,570.2 1640.0,569.7 1641.0,569.1 1642.0,568.1 1643.0,569.8 1644.0,567.6 1645.0,566.8 1646.0,566.9 1647.0,563.8 1648.0,565.0 1649.0,564.3 1650.0,562.9 1651.0,562.8 1652.0,560.2 1653.0,560.2 1654.0,559.4 1655.0,556.1 1656.0,555.2 1657.0,554.7 1658.0,553.7 1659.0,552.3 1660.0,552.2 1661.0,551.5 1662.0,549.9 1663.0,550.0 1664.0,548.7 1665.0,547.7 1666.0,547.1 1667.0,548.8 1668.0,547.8 1669.0,548.8 1670.0,546.7 1671.0,547.5 1672.0,548.3 1673.0,548.5 1674.0,549.6 1675.0,550.2 1676.0,550.7 1677.0,550.6 1678.0,552.5 1679.0,555.1 1680.0,555.6 1681.0,556.9 1682.0,556.8 1683.0,558.3 1684.0,559.3 1685.0,561.5 1686.0,562.7 1687.0,564.4 1688.0,566.6 1689.0,566.2 1690.0,568.3 1691.0,567.9 1692.0,570.1 1693.0,569.8 1694.0,570.7 1695.0,571.4 1696.0,572.9 1697.0,572.5 1698.0,572.8 1699.0,572.9 1700.0,574.3 1701.0,574.1 1702.0,574.8 1703.0,575.4 1704.0,576.2 1705.0,575.7 1706.0,576.8 1707.0,577.7 1708.0,575.9 1709.0,577.7 1710.0,578.2 1711.0,576.7 1712.0,577.4 1713.0,576.3 1714.0,577.4 1715.0,577.0 1716.0,577.4 1717.0,576.7 1718.0,576.8 1719.0,577.1 1720.0,577.0 1721.0,577.1 1722.0,577.3 1723.0,576.8 1724.0,577.4 1725.0,577.8 1726.0,576.2 1727.0,577.7 1728.0,577.2 1729.0,577.0 1730.0,576.9 1731.0,577.2 1732.0,577.3 1733.0,577.9 1734.0,577.0 1735.0,578.4 1736.0,577.3 1737.0,578.2 1738.0,578.5 1739.0,577.1 1740.0,578.5 1741.0,579.2 1742.0,577.6 1743.0,578.3 1744.0,577.8 1745.0,578.0 1746.0,577.8 1747.0,577.6 1748.0,578.4 1749.0,578.5 1750.0,578.0" fill="none" stroke="#e8000c" stroke-width="3.6" stroke-linejoin="round" opacity="1"/>
<rect x="199.8" y="788" width="638.7" height="575.2" fill="none" stroke="#000" stroke-width="3"/>
<line x1="280.4" y1="1363.2" x2="280.4" y2="1346.2" stroke="#000" stroke-width="3"/>
<line x1="441" y1="1363.2" x2="441" y2="1346.2" stroke="#000" stroke-width="3"/>
<line x1="600.5" y1="1363.2" x2="600.5" y2="1346.2" stroke="#000" stroke-width="3"/>
<line x1="759.5" y1="1363.2" x2="759.5" y2="1346.2" stroke="#000" stroke-width="3"/>
<text transform="translate(282.5 1414.5) scale(1 1.02)" font-size="44.5" text-anchor="middle">914</text>
<text transform="translate(438 1414.5) scale(1 1.02)" font-size="44.5" text-anchor="middle">916</text>
<text transform="translate(594 1414.5) scale(1 1.02)" font-size="44.5" text-anchor="middle">918</text>
<text transform="translate(760 1414.5) scale(1 1.02)" font-size="44.5" text-anchor="middle">920</text>
<text transform="translate(519 1472.8) scale(1 1.02)" font-size="44.5" text-anchor="middle"><tspan font-style="italic">E</tspan><tspan font-size="25" dy="2">b</tspan><tspan dy="-2">/eV</tspan></text>
<text transform="translate(214.5 830) scale(1 1.02)" font-size="44.5" text-anchor="start">(C)</text>
<text transform="translate(355 829.8) scale(1 1.02)" font-size="44.5" text-anchor="start">Cu</text>
<text transform="translate(407.5 814.5) scale(1 1.02)" font-size="27.5" text-anchor="start">+</text>
<text transform="translate(282.5 869.7) scale(1 1.02)" font-size="44.5" text-anchor="start">916.6 eV</text>
<line x1="444.4" y1="852.9" x2="489.0" y2="878.2" stroke="#000" stroke-width="3"/>
<polygon points="495.1,881.6 485.5,880.3 489.0,874.0" fill="#000"/>
<text transform="translate(654.5 829) scale(1 1.02)" font-size="44.5" text-anchor="start">Cu LMM</text>
<text transform="translate(598 874) scale(1 1.02)" font-size="44.5" text-anchor="start">Cu<tspan font-size="27" dy="-14">+</tspan><tspan dy="14">/Cu</tspan><tspan font-size="25" dy="-14">0</tspan><tspan dy="14">=2.8</tspan></text>
<text transform="translate(719.5 934.4) scale(1 1.02)" font-size="44.5" text-anchor="start">Cu<tspan font-size="25" dy="-14">0</tspan></text>
<line x1="644.4" y1="928.4" x2="711.6" y2="928.4" stroke="#000" stroke-width="3"/>
<text transform="translate(667 979.6) scale(1 1.02)" font-size="44.5" text-anchor="start">918.8 eV</text>
<text transform="translate(209 983.5) scale(1 1.02)" font-size="44.5" text-anchor="start">CuO-ZnO</text>
<text transform="translate(275.5 1159) scale(1 1.02)" font-size="44.5" text-anchor="start">916.3</text>
<line x1="381.4" y1="1148" x2="433.0" y2="1159.3" stroke="#000" stroke-width="3"/>
<polygon points="439.8,1160.8 430.2,1162.4 431.8,1155.4" fill="#000"/>
<text transform="translate(600 1173) scale(1 1.02)" font-size="44.5" text-anchor="start">Cu<tspan font-size="27" dy="-14">+</tspan><tspan dy="14">/Cu</tspan><tspan font-size="25" dy="-14">0</tspan><tspan dy="14">=7.5</tspan></text>
<text transform="translate(724 1289) scale(1 1.02)" font-size="44.5" text-anchor="start">918.6</text>
<line x1="650.8" y1="1280.3" x2="710.2" y2="1271.5" stroke="#000" stroke-width="3"/>
<text transform="translate(208.6 1338.6) scale(1 1.02)" font-size="44.5" text-anchor="start">CuO-Zn</text>
<ellipse cx="376" cy="1328" rx="17.3" ry="21" fill="none" stroke="#000" stroke-width="1.3"/>
<text transform="translate(365.5 1338.6) scale(1 1.02)" font-size="44.5" text-anchor="start" font-style="italic">a</text>
<text transform="translate(399.5 1338.6) scale(1 1.02)" font-size="44.5" text-anchor="start">SiO</text>
<text transform="translate(467.5 1341.8) scale(1 1.02)" font-size="23.5" text-anchor="start">2</text>
<polyline points="203.5,840.6 207.0,843.0 209.7,860.0 213.0,852.0 217.6,851.0 221.0,862.5 226.0,858.0 232.0,864.0 238.0,860.0 244.0,866.0 249.0,862.5 254.5,866.0 261.6,853.7 265.0,865.0 268.6,859.0 272.0,869.6 277.4,862.5 281.0,872.0 288.0,875.7 291.5,869.6 295.0,875.0 300.0,867.8 305.5,874.9 314.3,871.3 320.5,879.0 325.0,874.0 331.0,864.3 334.6,867.0 338.0,879.0 341.6,870.5 347.8,880.0 354.0,889.0 360.0,882.8 363.6,884.5 367.0,875.7 370.6,882.8 378.8,892.8 379.7,901.6 385.0,889.3 387.6,891.0 392.9,905.0 396.4,898.0 405.2,895.4 415.7,910.4 421.0,899.8 426.3,902.4 431.6,894.5 440.4,900.7 445.6,894.5 450.9,904.2 457.0,891.0 463.2,899.0 471.0,887.5 479.0,881.3 482.6,888.4 488.7,882.2 491.8,873.4 494.9,882.2 498.4,896.3 501.0,875.2 503.7,873.4 506.3,878.7 508.0,892.0 510.7,892.0 514.2,885.7 519.5,889.3 526.5,884.0 531.8,889.3 533.5,885.5 537.9,889.0 542.3,885.5 549.3,907.5 553.7,899.6 556.4,895.2 561.7,885.5 567.8,898.7 577.5,887.3 582.8,909.3 586.3,902.2 590.7,910.1 593.3,902.2 596.8,895.2 601.2,897.0 609.2,889.0 614.4,883.7 619.7,881.1 627.6,878.5 632.0,883.7 636.4,883.7 640.8,892.5 646.1,896.9 653.1,911.0 657.5,913.6 661.9,926.8 667.2,941.8 670.0,952.0 675.0,962.0 680.0,972.0 685.0,988.0 692.0,1000.0 698.0,1016.0 703.0,1012.0 707.0,1024.0 714.0,1026.0 720.0,1038.0 725.0,1038.0 728.0,1048.0 735.0,1055.0 738.0,1054.0 746.0,1060.0 754.0,1067.0 758.0,1063.0 763.0,1067.0" fill="none" stroke="#e8000c" stroke-width="3.4" stroke-linejoin="miter"/>
<polyline points="203.0,851.0 204.0,851.4 205.0,851.8 206.0,852.2 207.0,852.6 208.0,852.9 209.0,853.3 210.0,853.7 211.0,854.1 212.0,854.5 213.0,854.9 214.0,855.3 215.0,855.7 216.0,856.0 217.0,856.4 218.0,856.8 219.0,857.2 220.0,857.6 221.0,858.0 222.0,858.4 223.0,858.7 224.0,859.1 225.0,859.5 226.0,859.9 227.0,860.3 228.0,860.7 229.0,861.1 230.0,861.5 231.0,861.8 232.0,862.2 233.0,862.6 234.0,863.0 235.0,863.4 236.0,863.8 237.0,864.2 238.0,864.5 239.0,864.9 240.0,865.3 241.0,865.7 242.0,866.1 243.0,866.5 244.0,866.9 245.0,867.2 246.0,867.6 247.0,868.0 248.0,868.4 249.0,868.8 250.0,869.2 251.0,869.6 252.0,869.9 253.0,870.3 254.0,870.7 255.0,871.1 256.0,871.5 257.0,871.9 258.0,872.2 259.0,872.6 260.0,873.0 261.0,873.4 262.0,873.8 263.0,874.2 264.0,874.5 265.0,874.9 266.0,875.3 267.0,875.7 268.0,876.1 269.0,876.5 270.0,876.8 271.0,877.2 272.0,877.6 273.0,878.0 274.0,878.4 275.0,878.8 276.0,879.1 277.0,879.5 278.0,879.9 279.0,880.3 280.0,880.7 281.0,881.1 282.0,881.4 283.0,881.8 284.0,882.2 285.0,882.6 286.0,883.0 287.0,883.4 288.0,883.7 289.0,884.1 290.0,884.5 291.0,884.9 292.0,885.3 293.0,885.6 294.0,886.0 295.0,886.4 296.0,886.8 297.0,887.2 298.0,887.5 299.0,887.9 300.0,888.3 301.0,888.7 302.0,889.1 303.0,889.4 304.0,889.8 305.0,890.2 306.0,890.6 307.0,891.0 308.0,891.3 309.0,891.7 310.0,892.1 311.0,892.5 312.0,892.9 313.0,893.2 314.0,893.6 315.0,894.0 316.0,894.4 317.0,894.8 318.0,895.1 319.0,895.5 320.0,895.9 321.0,896.3 322.0,896.7 323.0,897.0 324.0,897.4 325.0,897.8 326.0,898.2 327.0,898.6 328.0,898.9 329.0,899.3 330.0,899.7 331.0,900.1 332.0,900.5 333.0,900.8 334.0,901.2 335.0,901.6 336.0,902.0 337.0,902.4 338.0,902.7 339.0,903.1 340.0,903.5 341.0,903.9 342.0,904.3 343.0,904.6 344.0,905.0 345.0,905.4 346.0,905.8 347.0,906.2 348.0,906.5 349.0,906.9 350.0,907.3 351.0,907.7 352.0,908.1 353.0,908.5 354.0,908.8 355.0,909.2 356.0,909.6 357.0,910.0 358.0,910.4 359.0,910.7 360.0,911.1 361.0,911.5 362.0,911.9 363.0,912.3 364.0,912.6 365.0,913.0 366.0,913.4 367.0,913.8 368.0,914.2 369.0,914.5 370.0,914.9 371.0,915.3 372.0,915.7 373.0,916.1 374.0,916.4 375.0,916.8 376.0,917.2 377.0,917.6 378.0,917.9 379.0,918.3 380.0,918.7 381.0,919.1 382.0,919.5 383.0,919.8 384.0,920.2 385.0,920.6 386.0,921.0 387.0,921.3 388.0,921.7 389.0,922.1 390.0,922.5 391.0,922.9 392.0,923.2 393.0,923.6 394.0,924.0 395.0,924.4 396.0,924.7 397.0,925.1 398.0,925.5 399.0,925.9 400.0,926.3 401.0,926.6 402.0,927.0 403.0,927.4 404.0,927.8 405.0,928.2 406.0,928.6 407.0,928.9 408.0,929.3 409.0,929.7 410.0,930.1 411.0,930.5 412.0,930.9 413.0,931.2 414.0,931.6 415.0,932.0 416.0,932.4 417.0,932.8 418.0,933.2 419.0,933.6 420.0,934.0 421.0,934.3 422.0,934.7 423.0,935.1 424.0,935.5 425.0,935.9 426.0,936.3 427.0,936.7 428.0,937.1 429.0,937.5 430.0,937.9 431.0,938.3 432.0,938.7 433.0,939.1 434.0,939.5 435.0,939.9 436.0,940.3 437.0,940.7 438.0,941.1 439.0,941.5 440.0,941.9 441.0,942.3 442.0,942.7 443.0,943.1 444.0,943.6 445.0,944.0 446.0,944.4 447.0,944.8 448.0,945.2 449.0,945.7 450.0,946.1 451.0,946.5 452.0,946.9 453.0,947.4 454.0,947.8 455.0,948.2 456.0,948.6 457.0,949.1 458.0,949.5 459.0,949.9 460.0,950.4 461.0,950.8 462.0,951.3 463.0,951.7 464.0,952.1 465.0,952.6 466.0,953.0 467.0,953.4 468.0,953.9 469.0,954.3 470.0,954.7 471.0,955.2 472.0,955.6 473.0,956.1 474.0,956.5 475.0,956.9 476.0,957.4 477.0,957.8 478.0,958.2 479.0,958.7 480.0,959.1 481.0,959.5 482.0,960.0 483.0,960.4 484.0,960.8 485.0,961.3 486.0,961.7 487.0,962.1 488.0,962.5 489.0,963.0 490.0,963.4 491.0,963.8 492.0,964.2 493.0,964.6 494.0,965.1 495.0,965.5 496.0,965.9 497.0,966.3 498.0,966.7 499.0,967.1 500.0,967.5 501.0,967.9 502.0,968.3 503.0,968.7 504.0,969.1 505.0,969.5 506.0,969.9 507.0,970.2 508.0,970.6 509.0,971.0 510.0,971.4 511.0,971.8 512.0,972.1 513.0,972.5 514.0,972.9 515.0,973.3 516.0,973.7 517.0,974.0 518.0,974.4 519.0,974.8 520.0,975.2 521.0,975.5 522.0,975.9 523.0,976.3 524.0,976.7 525.0,977.1 526.0,977.4 527.0,977.8 528.0,978.2 529.0,978.6 530.0,979.0 531.0,979.4 532.0,979.8 533.0,980.2 534.0,980.6 535.0,981.0 536.0,981.4 537.0,981.8 538.0,982.2 539.0,982.6 540.0,983.0 541.0,983.4 542.0,983.8 543.0,984.2 544.0,984.6 545.0,985.0 546.0,985.5 547.0,985.9 548.0,986.3 549.0,986.7 550.0,987.1 551.0,987.5 552.0,987.9 553.0,988.4 554.0,988.8 555.0,989.2 556.0,989.6 557.0,990.0 558.0,990.4 559.0,990.9 560.0,991.3 561.0,991.7 562.0,992.1 563.0,992.5 564.0,992.9 565.0,993.4 566.0,993.8 567.0,994.2 568.0,994.6 569.0,995.0 570.0,995.5 571.0,995.9 572.0,996.3 573.0,996.7 574.0,997.1 575.0,997.5 576.0,998.0 577.0,998.4 578.0,998.8 579.0,999.2 580.0,999.6 581.0,1000.0 582.0,1000.4 583.0,1000.9 584.0,1001.3 585.0,1001.7 586.0,1002.1 587.0,1002.5 588.0,1002.9 589.0,1003.3 590.0,1003.7 591.0,1004.1 592.0,1004.5 593.0,1004.9 594.0,1005.3 595.0,1005.7 596.0,1006.1 597.0,1006.5 598.0,1006.9 599.0,1007.3 600.0,1007.7 601.0,1008.1 602.0,1008.5 603.0,1008.9 604.0,1009.3 605.0,1009.7 606.0,1010.0 607.0,1010.4 608.0,1010.8 609.0,1011.2 610.0,1011.6 611.0,1012.0 612.0,1012.3 613.0,1012.7 614.0,1013.1 615.0,1013.5 616.0,1013.8 617.0,1014.2 618.0,1014.6 619.0,1014.9 620.0,1015.3 621.0,1015.7 622.0,1016.1 623.0,1016.4 624.0,1016.8 625.0,1017.2 626.0,1017.5 627.0,1017.9 628.0,1018.3 629.0,1018.6 630.0,1019.0 631.0,1019.4 632.0,1019.8 633.0,1020.1 634.0,1020.5 635.0,1020.9 636.0,1021.2 637.0,1021.6 638.0,1022.0 639.0,1022.3 640.0,1022.7 641.0,1023.1 642.0,1023.5 643.0,1023.8 644.0,1024.2 645.0,1024.6 646.0,1025.0 647.0,1025.4 648.0,1025.7 649.0,1026.1 650.0,1026.5 651.0,1026.9 652.0,1027.3 653.0,1027.7 654.0,1028.0 655.0,1028.4 656.0,1028.8 657.0,1029.2 658.0,1029.6 659.0,1030.0 660.0,1030.4 661.0,1030.8 662.0,1031.2 663.0,1031.6 664.0,1032.0 665.0,1032.3 666.0,1032.7 667.0,1033.1 668.0,1033.5 669.0,1033.9 670.0,1034.3 671.0,1034.7 672.0,1035.1 673.0,1035.5 674.0,1035.9 675.0,1036.3 676.0,1036.7 677.0,1037.1 678.0,1037.5 679.0,1037.9 680.0,1038.3 681.0,1038.7 682.0,1039.1 683.0,1039.5 684.0,1039.9 685.0,1040.3 686.0,1040.7 687.0,1041.1 688.0,1041.5 689.0,1041.9 690.0,1042.3 691.0,1042.6 692.0,1043.0 693.0,1043.4 694.0,1043.8 695.0,1044.2 696.0,1044.6 697.0,1045.0 698.0,1045.4 699.0,1045.8 700.0,1046.2 701.0,1046.6 702.0,1047.0 703.0,1047.4 704.0,1047.8 705.0,1048.1 706.0,1048.5 707.0,1048.9 708.0,1049.3 709.0,1049.7 710.0,1050.1 711.0,1050.5 712.0,1050.9 713.0,1051.3 714.0,1051.7 715.0,1052.1 716.0,1052.5 717.0,1052.9 718.0,1053.2 719.0,1053.6 720.0,1054.0 721.0,1054.4 722.0,1054.8 723.0,1055.1 724.0,1055.5 725.0,1055.9 726.0,1056.3 727.0,1056.6 728.0,1057.0 729.0,1057.4 730.0,1057.7 731.0,1058.1 732.0,1058.4 733.0,1058.8 734.0,1059.2 735.0,1059.5 736.0,1059.9 737.0,1060.2 738.0,1060.6 739.0,1060.9 740.0,1061.3 741.0,1061.6 742.0,1062.0 743.0,1062.3 744.0,1062.7 745.0,1063.0 746.0,1063.4 747.0,1063.7 748.0,1064.1 749.0,1064.4 750.0,1064.7 751.0,1065.1 752.0,1065.4 753.0,1065.7 754.0,1066.1 755.0,1066.4 756.0,1066.7 757.0,1067.1 758.0,1067.4 759.0,1067.7 760.0,1068.0 761.0,1068.4 762.0,1068.7 763.0,1069.0" fill="none" stroke="#e6b61c" stroke-width="3.6" stroke-linejoin="round" stroke-dasharray="8 8" stroke-dashoffset="8" opacity="1"/>
<polyline points="203.0,851.0 204.0,851.4 205.0,851.8 206.0,852.2 207.0,852.6 208.0,852.9 209.0,853.3 210.0,853.7 211.0,854.1 212.0,854.5 213.0,854.9 214.0,855.3 215.0,855.7 216.0,856.0 217.0,856.4 218.0,856.8 219.0,857.2 220.0,857.6 221.0,858.0 222.0,858.4 223.0,858.7 224.0,859.1 225.0,859.5 226.0,859.9 227.0,860.3 228.0,860.7 229.0,861.1 230.0,861.5 231.0,861.8 232.0,862.2 233.0,862.6 234.0,863.0 235.0,863.4 236.0,863.8 237.0,864.2 238.0,864.5 239.0,864.9 240.0,865.3 241.0,865.7 242.0,866.1 243.0,866.5 244.0,866.9 245.0,867.2 246.0,867.6 247.0,868.0 248.0,868.4 249.0,868.8 250.0,869.2 251.0,869.6 252.0,869.9 253.0,870.3 254.0,870.7 255.0,871.1 256.0,871.5 257.0,871.9 258.0,872.2 259.0,872.6 260.0,873.0 261.0,873.4 262.0,873.8 263.0,874.2 264.0,874.5 265.0,874.9 266.0,875.3 267.0,875.7 268.0,876.1 269.0,876.5 270.0,876.8 271.0,877.2 272.0,877.6 273.0,878.0 274.0,878.4 275.0,878.8 276.0,879.1 277.0,879.5 278.0,879.9 279.0,880.3 280.0,880.7 281.0,881.1 282.0,881.4 283.0,881.8 284.0,882.2 285.0,882.6 286.0,883.0 287.0,883.4 288.0,883.7 289.0,884.1 290.0,884.5 291.0,884.9 292.0,885.3 293.0,885.6 294.0,886.0 295.0,886.4 296.0,886.8 297.0,887.2 298.0,887.5 299.0,887.9 300.0,888.3 301.0,888.7 302.0,889.1 303.0,889.4 304.0,889.8 305.0,890.2 306.0,890.6 307.0,891.0 308.0,891.3 309.0,891.7 310.0,892.1 311.0,892.5 312.0,892.9 313.0,893.2 314.0,893.6 315.0,894.0 316.0,894.4 317.0,894.8 318.0,895.1 319.0,895.5 320.0,895.9 321.0,896.3 322.0,896.7 323.0,897.0 324.0,897.4 325.0,897.8 326.0,898.2 327.0,898.6 328.0,898.9 329.0,899.3 330.0,899.7 331.0,900.1 332.0,900.5 333.0,900.8 334.0,901.2 335.0,901.6 336.0,902.0 337.0,902.4 338.0,902.7 339.0,903.1 340.0,903.5 341.0,903.9 342.0,904.3 343.0,904.6 344.0,905.0 345.0,905.4 346.0,905.8 347.0,906.2 348.0,906.5 349.0,906.9 350.0,907.3 351.0,907.7 352.0,908.1 353.0,908.5 354.0,908.8 355.0,909.2 356.0,909.6 357.0,910.0 358.0,910.4 359.0,910.7 360.0,911.1 361.0,911.5 362.0,911.9 363.0,912.3 364.0,912.6 365.0,913.0 366.0,913.4 367.0,913.8 368.0,914.2 369.0,914.5 370.0,914.9 371.0,915.3 372.0,915.7 373.0,916.1 374.0,916.4 375.0,916.8 376.0,917.2 377.0,917.6 378.0,917.9 379.0,918.3 380.0,918.7 381.0,919.1 382.0,919.5 383.0,919.8 384.0,920.2 385.0,920.6 386.0,921.0 387.0,921.3 388.0,921.7 389.0,922.1 390.0,922.5 391.0,922.9 392.0,923.2 393.0,923.6 394.0,924.0 395.0,924.4 396.0,924.7 397.0,925.1 398.0,925.5 399.0,925.9 400.0,926.3 401.0,926.6 402.0,927.0 403.0,927.4 404.0,927.8 405.0,928.2 406.0,928.6 407.0,928.9 408.0,929.3 409.0,929.7 410.0,930.1 411.0,930.5 412.0,930.9 413.0,931.2 414.0,931.6 415.0,932.0 416.0,932.4 417.0,932.8 418.0,933.2 419.0,933.6 420.0,934.0 421.0,934.3 422.0,934.7 423.0,935.1 424.0,935.5 425.0,935.9 426.0,936.3 427.0,936.7 428.0,937.1 429.0,937.5 430.0,937.9 431.0,938.3 432.0,938.7 433.0,939.1 434.0,939.5 435.0,939.9 436.0,940.3 437.0,940.7 438.0,941.1 439.0,941.5 440.0,941.9 441.0,942.3 442.0,942.7 443.0,943.1 444.0,943.6 445.0,944.0 446.0,944.4 447.0,944.8 448.0,945.2 449.0,945.7 450.0,946.1 451.0,946.5 452.0,946.9 453.0,947.4 454.0,947.8 455.0,948.2 456.0,948.6 457.0,949.1 458.0,949.5 459.0,949.9 460.0,950.4 461.0,950.8 462.0,951.3 463.0,951.7 464.0,952.1 465.0,952.6 466.0,953.0 467.0,953.4 468.0,953.9 469.0,954.3 470.0,954.7 471.0,955.2 472.0,955.6 473.0,956.1 474.0,956.5 475.0,956.9 476.0,957.4 477.0,957.8 478.0,958.2 479.0,958.7 480.0,959.1 481.0,959.5 482.0,960.0 483.0,960.4 484.0,960.8 485.0,961.3 486.0,961.7 487.0,962.1 488.0,962.5 489.0,963.0 490.0,963.4 491.0,963.8 492.0,964.2 493.0,964.6 494.0,965.1 495.0,965.5 496.0,965.9 497.0,966.3 498.0,966.7 499.0,967.1 500.0,967.5 501.0,967.9 502.0,968.3 503.0,968.7 504.0,969.1 505.0,969.5 506.0,970.0 507.0,970.4 508.0,970.8 509.0,971.2 510.0,971.6 511.0,972.1 512.0,972.5 513.0,972.9 514.0,973.3 515.0,973.7 516.0,974.1 517.0,974.5 518.0,974.9 519.0,975.3 520.0,975.7 521.0,976.0 522.0,976.4 523.0,976.8 524.0,977.1 525.0,977.4 526.0,977.8 527.0,978.1 528.0,978.4 529.0,978.7 530.0,979.0 531.0,979.3 532.0,979.6 533.0,979.9 534.0,980.2 535.0,980.5 536.0,980.8 537.0,981.0 538.0,981.3 539.0,981.5 540.0,981.8 541.0,982.0 542.0,982.2 543.0,982.3 544.0,982.4 545.0,982.5 546.0,982.6 547.0,982.6 548.0,982.7 549.0,982.7 550.0,982.8 551.0,982.8 552.0,982.8 553.0,982.9 554.0,982.9 555.0,982.9 556.0,983.0 557.0,983.0 558.0,983.0 559.0,983.0 560.0,983.0 561.0,983.0 562.0,982.9 563.0,982.8 564.0,982.7 565.0,982.5 566.0,982.3 567.0,982.0 568.0,981.8 569.0,981.5 570.0,981.2 571.0,980.8 572.0,980.4 573.0,980.1 574.0,979.7 575.0,979.2 576.0,978.8 577.0,978.4 578.0,977.9 579.0,977.5 580.0,977.0 581.0,976.5 582.0,975.9 583.0,975.2 584.0,974.4 585.0,973.5 586.0,972.6 587.0,971.6 588.0,970.6 589.0,969.5 590.0,968.4 591.0,967.4 592.0,966.3 593.0,965.2 594.0,964.1 595.0,963.0 596.0,962.0 597.0,961.0 598.0,959.9 599.0,958.9 600.0,957.8 601.0,956.7 602.0,955.6 603.0,954.5 604.0,953.4 605.0,952.3 606.0,951.2 607.0,950.2 608.0,949.1 609.0,948.0 610.0,946.9 611.0,945.8 612.0,944.6 613.0,943.4 614.0,942.2 615.0,941.0 616.0,939.8 617.0,938.6 618.0,937.5 619.0,936.4 620.0,935.3 621.0,934.3 622.0,933.4 623.0,932.6 624.0,931.8 625.0,931.2 626.0,930.6 627.0,930.0 628.0,929.5 629.0,929.0 630.0,928.7 631.0,928.6 632.0,928.6 633.0,928.7 634.0,928.8 635.0,928.9 636.0,929.0 637.0,929.2 638.0,929.5 639.0,929.9 640.0,931.0 641.0,932.5 642.0,934.0 643.0,935.3 644.0,936.5 645.0,937.6 646.0,938.8 647.0,940.0 648.0,941.2 649.0,942.5 650.0,944.0 651.0,945.5 652.0,947.3 653.0,949.5 654.0,951.9 655.0,954.6 656.0,957.2 657.0,959.7 658.0,962.0 659.0,964.1 660.0,966.0 661.0,967.9 662.0,969.8 663.0,971.6 664.0,973.4 665.0,975.2 666.0,977.0 667.0,978.8 668.0,980.5 669.0,982.3 670.0,984.0 671.0,985.7 672.0,987.5 673.0,989.2 674.0,991.0 675.0,992.8 676.0,994.7 677.0,996.6 678.0,998.6 679.0,1000.5 680.0,1002.4 681.0,1004.2 682.0,1006.0 683.0,1007.7 684.0,1009.5 685.0,1011.2 686.0,1012.9 687.0,1014.5 688.0,1016.2 689.0,1017.7 690.0,1019.2 691.0,1020.7 692.0,1022.0 693.0,1023.3 694.0,1024.5 695.0,1025.7 696.0,1026.8 697.0,1027.9 698.0,1029.0 699.0,1030.1 700.0,1031.1 701.0,1032.1 702.0,1033.0 703.0,1034.0 704.0,1034.9 705.0,1035.9 706.0,1036.8 707.0,1037.6 708.0,1038.5 709.0,1039.3 710.0,1040.1 711.0,1041.0 712.0,1041.7 713.0,1042.5 714.0,1043.3 715.0,1044.0 716.0,1044.7 717.0,1045.4 718.0,1046.1 719.0,1046.8 720.0,1047.5 721.0,1048.1 722.0,1048.8 723.0,1049.4 724.0,1050.0 725.0,1050.6 726.0,1051.2 727.0,1051.8 728.0,1052.4 729.0,1053.0 730.0,1053.6 731.0,1054.2 732.0,1054.7 733.0,1055.3 734.0,1055.9 735.0,1056.4 736.0,1057.0 737.0,1057.5 738.0,1058.1 739.0,1058.6 740.0,1059.1 741.0,1059.6 742.0,1060.1 743.0,1060.6 744.0,1061.0 745.0,1061.4 746.0,1061.9 747.0,1062.3 748.0,1062.7 749.0,1063.1 750.0,1063.5 751.0,1063.9 752.0,1064.3 753.0,1064.7 754.0,1065.1 755.0,1065.4 756.0,1065.8 757.0,1066.1 758.0,1066.5 759.0,1066.8 760.0,1067.1 761.0,1067.4 762.0,1067.7 763.0,1068.0" fill="none" stroke="#46447f" stroke-width="3.6" stroke-linejoin="round" stroke-dasharray="8 8" stroke-dashoffset="0" opacity="1"/>
<polyline points="203.0,851.4 204.0,851.7 205.0,851.9 206.0,852.2 207.0,852.5 208.0,852.7 209.0,853.0 210.0,853.3 211.0,853.5 212.0,853.8 213.0,854.1 214.0,854.4 215.0,854.6 216.0,854.9 217.0,855.2 218.0,855.5 219.0,855.8 220.0,856.1 221.0,856.3 222.0,856.6 223.0,856.9 224.0,857.2 225.0,857.5 226.0,857.8 227.0,858.1 228.0,858.4 229.0,858.7 230.0,859.0 231.0,859.3 232.0,859.6 233.0,859.9 234.0,860.2 235.0,860.5 236.0,860.8 237.0,861.1 238.0,861.4 239.0,861.7 240.0,862.0 241.0,862.3 242.0,862.6 243.0,862.9 244.0,863.3 245.0,863.6 246.0,863.9 247.0,864.3 248.0,864.6 249.0,864.9 250.0,865.3 251.0,865.6 252.0,866.0 253.0,866.3 254.0,866.7 255.0,867.0 256.0,867.3 257.0,867.7 258.0,868.0 259.0,868.4 260.0,868.7 261.0,869.1 262.0,869.4 263.0,869.8 264.0,870.1 265.0,870.4 266.0,870.8 267.0,871.1 268.0,871.4 269.0,871.7 270.0,872.1 271.0,872.4 272.0,872.7 273.0,873.0 274.0,873.3 275.0,873.6 276.0,873.9 277.0,874.2 278.0,874.5 279.0,874.8 280.0,875.1 281.0,875.4 282.0,875.7 283.0,876.0 284.0,876.3 285.0,876.6 286.0,876.9 287.0,877.2 288.0,877.5 289.0,877.8 290.0,878.1 291.0,878.4 292.0,878.7 293.0,879.0 294.0,879.2 295.0,879.5 296.0,879.8 297.0,880.1 298.0,880.4 299.0,880.7 300.0,880.9 301.0,881.2 302.0,881.5 303.0,881.8 304.0,882.0 305.0,882.3 306.0,882.6 307.0,882.8 308.0,883.1 309.0,883.3 310.0,883.6 311.0,883.8 312.0,884.1 313.0,884.3 314.0,884.6 315.0,884.8 316.0,885.1 317.0,885.3 318.0,885.5 319.0,885.8 320.0,886.0 321.0,886.2 322.0,886.5 323.0,886.7 324.0,886.9 325.0,887.2 326.0,887.4 327.0,887.6 328.0,887.9 329.0,888.1 330.0,888.3 331.0,888.6 332.0,888.8 333.0,889.1 334.0,889.3 335.0,889.5 336.0,889.7 337.0,890.0 338.0,890.2 339.0,890.4 340.0,890.6 341.0,890.8 342.0,891.0 343.0,891.2 344.0,891.4 345.0,891.6 346.0,891.7 347.0,891.9 348.0,892.1 349.0,892.2 350.0,892.3 351.0,892.5 352.0,892.6 353.0,892.7 354.0,892.8 355.0,892.9 356.0,893.0 357.0,893.1 358.0,893.2 359.0,893.2 360.0,893.3 361.0,893.4 362.0,893.4 363.0,893.5 364.0,893.6 365.0,893.7 366.0,893.7 367.0,893.8 368.0,893.9 369.0,893.9 370.0,894.0 371.0,894.0 372.0,894.1 373.0,894.1 374.0,894.2 375.0,894.2 376.0,894.3 377.0,894.3 378.0,894.4 379.0,894.4 380.0,894.4 381.0,894.5 382.0,894.5 383.0,894.5 384.0,894.6 385.0,894.6 386.0,894.6 387.0,894.6 388.0,894.6 389.0,894.6 390.0,894.6 391.0,894.6 392.0,894.6 393.0,894.6 394.0,894.6 395.0,894.5 396.0,894.5 397.0,894.5 398.0,894.5 399.0,894.4 400.0,894.4 401.0,894.4 402.0,894.3 403.0,894.3 404.0,894.3 405.0,894.2 406.0,894.2 407.0,894.1 408.0,894.1 409.0,894.0 410.0,894.0 411.0,894.0 412.0,893.9 413.0,893.9 414.0,893.8 415.0,893.8 416.0,893.7 417.0,893.7 418.0,893.6 419.0,893.6 420.0,893.5 421.0,893.4 422.0,893.4 423.0,893.3 424.0,893.3 425.0,893.2 426.0,893.2 427.0,893.1 428.0,893.0 429.0,893.0 430.0,892.9 431.0,892.8 432.0,892.7 433.0,892.7 434.0,892.6 435.0,892.5 436.0,892.4 437.0,892.3 438.0,892.2 439.0,892.1 440.0,892.1 441.0,892.0 442.0,891.9 443.0,891.8 444.0,891.7 445.0,891.6 446.0,891.4 447.0,891.3 448.0,891.2 449.0,891.1 450.0,891.0 451.0,890.9 452.0,890.7 453.0,890.6 454.0,890.4 455.0,890.2 456.0,890.1 457.0,889.9 458.0,889.7 459.0,889.5 460.0,889.3 461.0,889.1 462.0,888.9 463.0,888.7 464.0,888.5 465.0,888.3 466.0,888.1 467.0,887.9 468.0,887.8 469.0,887.6 470.0,887.5 471.0,887.4 472.0,887.3 473.0,887.1 474.0,887.0 475.0,886.9 476.0,886.8 477.0,886.6 478.0,886.5 479.0,886.4 480.0,886.3 481.0,886.2 482.0,886.1 483.0,886.0 484.0,885.9 485.0,885.9 486.0,885.8 487.0,885.8 488.0,885.7 489.0,885.7 490.0,885.7 491.0,885.7 492.0,885.7 493.0,885.7 494.0,885.8 495.0,885.8 496.0,885.8 497.0,885.8 498.0,885.9 499.0,885.9 500.0,886.0 501.0,886.0 502.0,886.1 503.0,886.1 504.0,886.2 505.0,886.3 506.0,886.3 507.0,886.4 508.0,886.5 509.0,886.5 510.0,886.6 511.0,886.7 512.0,886.7 513.0,886.8 514.0,886.9 515.0,887.0 516.0,887.1 517.0,887.2 518.0,887.3 519.0,887.4 520.0,887.6 521.0,887.7 522.0,887.9 523.0,888.0 524.0,888.2 525.0,888.4 526.0,888.6 527.0,888.8 528.0,889.0 529.0,889.3 530.0,889.7 531.0,890.3 532.0,891.0 533.0,891.7 534.0,892.5 535.0,893.4 536.0,894.3 537.0,895.2 538.0,896.1 539.0,897.1 540.0,898.0 541.0,898.8 542.0,899.6 543.0,900.4 544.0,901.0 545.0,901.7 546.0,902.3 547.0,902.9 548.0,903.5 549.0,904.1 550.0,904.7 551.0,905.3 552.0,905.8 553.0,906.4 554.0,907.0 555.0,907.6 556.0,908.2 557.0,908.8 558.0,909.4 559.0,910.0 560.0,910.6 561.0,911.3 562.0,911.9 563.0,912.6 564.0,913.2 565.0,913.9 566.0,914.6 567.0,915.3 568.0,915.9 569.0,916.7 570.0,917.4 571.0,918.1 572.0,918.8 573.0,919.6 574.0,920.4 575.0,921.2 576.0,922.1 577.0,923.0 578.0,923.8 579.0,924.7 580.0,925.6 581.0,926.5 582.0,927.4 583.0,928.2 584.0,929.1 585.0,929.9 586.0,930.7 587.0,931.6 588.0,932.4 589.0,933.2 590.0,934.0 591.0,934.8 592.0,935.6 593.0,936.4 594.0,937.2 595.0,938.0 596.0,938.8 597.0,939.6 598.0,940.4 599.0,941.2 600.0,942.1 601.0,942.9 602.0,943.8 603.0,944.6 604.0,945.4 605.0,946.3 606.0,947.2 607.0,948.0 608.0,948.9 609.0,949.8 610.0,950.7 611.0,951.6 612.0,952.6 613.0,953.5 614.0,954.5 615.0,955.4 616.0,956.4 617.0,957.4 618.0,958.3 619.0,959.3 620.0,960.3 621.0,961.2 622.0,962.2 623.0,963.1 624.0,964.1 625.0,965.0 626.0,965.9 627.0,966.8 628.0,967.7 629.0,968.6 630.0,969.5 631.0,970.4 632.0,971.3 633.0,972.1 634.0,973.0 635.0,973.9 636.0,974.7 637.0,975.6 638.0,976.5 639.0,977.3 640.0,978.2 641.0,979.1 642.0,979.9 643.0,980.8 644.0,981.7 645.0,982.6 646.0,983.4 647.0,984.3 648.0,985.2 649.0,986.1 650.0,987.0 651.0,987.9 652.0,988.8 653.0,989.7 654.0,990.7 655.0,991.6 656.0,992.5 657.0,993.5 658.0,994.4 659.0,995.3 660.0,996.2 661.0,997.1 662.0,998.0 663.0,998.9 664.0,999.8 665.0,1000.6 666.0,1001.5 667.0,1002.4 668.0,1003.3 669.0,1004.1 670.0,1005.0 671.0,1005.8 672.0,1006.6 673.0,1007.4 674.0,1008.2 675.0,1009.0 676.0,1009.8 677.0,1010.5 678.0,1011.2 679.0,1011.9 680.0,1012.6 681.0,1013.3 682.0,1013.9 683.0,1014.6 684.0,1015.3 685.0,1015.9 686.0,1016.6 687.0,1017.3 688.0,1018.0 689.0,1018.7 690.0,1019.4 691.0,1020.2 692.0,1020.9 693.0,1021.7 694.0,1022.4 695.0,1023.2 696.0,1023.9 697.0,1024.6 698.0,1025.3 699.0,1026.0 700.0,1026.7 701.0,1027.4 702.0,1028.0 703.0,1028.6 704.0,1029.2 705.0,1029.7 706.0,1030.2 707.0,1030.8 708.0,1031.3 709.0,1031.8 710.0,1032.3 711.0,1032.8 712.0,1033.3 713.0,1033.9 714.0,1034.4 715.0,1035.0 716.0,1035.6 717.0,1036.2 718.0,1036.9 719.0,1037.6 720.0,1038.3 721.0,1039.0 722.0,1039.7 723.0,1040.4 724.0,1041.1 725.0,1041.8 726.0,1042.4 727.0,1043.1 728.0,1043.8 729.0,1044.4 730.0,1045.0 731.0,1045.6 732.0,1046.2 733.0,1046.7 734.0,1047.3 735.0,1047.9 736.0,1048.4 737.0,1049.0 738.0,1049.5 739.0,1050.0 740.0,1050.5 741.0,1051.1 742.0,1051.6 743.0,1052.0 744.0,1052.5 745.0,1053.0 746.0,1053.5 747.0,1053.9 748.0,1054.4 749.0,1054.8 750.0,1055.3 751.0,1055.7 752.0,1056.1 753.0,1056.5 754.0,1057.0 755.0,1057.4 756.0,1057.8 757.0,1058.2 758.0,1058.5 759.0,1058.9 760.0,1059.3 761.0,1059.6 762.0,1060.0" fill="none" stroke="#2aa866" stroke-width="3.6" stroke-linejoin="round" stroke-dasharray="9 7" stroke-dashoffset="0" opacity="1"/>
<polyline points="530.0,890.0 531.0,890.4 532.0,890.8 533.0,891.2 534.0,891.6 535.0,892.0 536.0,892.4 537.0,892.8 538.0,893.2 539.0,893.6 540.0,894.0 541.0,894.4 542.0,894.8 543.0,895.2 544.0,895.6 545.0,896.0 546.0,896.4 547.0,896.8 548.0,897.3 549.0,897.8 550.0,898.2 551.0,898.6 552.0,899.1 553.0,899.5 554.0,899.8 555.0,900.1 556.0,900.4 557.0,900.6 558.0,900.8 559.0,901.0 560.0,901.2 561.0,901.4 562.0,901.6 563.0,901.8 564.0,902.0 565.0,902.1 566.0,902.3 567.0,902.4 568.0,902.6 569.0,902.7 570.0,902.8 571.0,902.9 572.0,903.0 573.0,903.0 574.0,903.1 575.0,903.1 576.0,903.1 577.0,903.1 578.0,903.0 579.0,902.8 580.0,902.6 581.0,902.4 582.0,902.2 583.0,901.9 584.0,901.6 585.0,901.2 586.0,900.9 587.0,900.5 588.0,900.1 589.0,899.7 590.0,899.3 591.0,898.9 592.0,898.5 593.0,898.1 594.0,897.5 595.0,896.9 596.0,896.3 597.0,895.6 598.0,894.8 599.0,894.1 600.0,893.3 601.0,892.6 602.0,891.8 603.0,891.1 604.0,890.4 605.0,889.8 606.0,889.1 607.0,888.4 608.0,887.6 609.0,886.8 610.0,886.0 611.0,885.2 612.0,884.4 613.0,883.6 614.0,882.9 615.0,882.2 616.0,881.5 617.0,880.9 618.0,880.4 619.0,880.0 620.0,879.6 621.0,879.4 622.0,879.3 623.0,879.3 624.0,879.4 625.0,879.5 626.0,879.6 627.0,879.8 628.0,880.1 629.0,880.4 630.0,880.7 631.0,881.0 632.0,881.4 633.0,881.8 634.0,882.2 635.0,882.7 636.0,883.2 637.0,883.9 638.0,884.8 639.0,885.9 640.0,887.1 641.0,888.4 642.0,889.9 643.0,891.4 644.0,892.9 645.0,894.6 646.0,896.4 647.0,898.5 648.0,900.7 649.0,903.0 650.0,905.4 651.0,907.8 652.0,910.2 653.0,912.6 654.0,914.8 655.0,917.1 656.0,919.5 657.0,921.8 658.0,924.1 659.0,926.5 660.0,928.9 661.0,931.2 662.0,933.6 663.0,935.9 664.0,938.3 665.0,940.6 666.0,942.9 667.0,945.2 668.0,947.5 669.0,949.7 670.0,951.9 671.0,954.1 672.0,956.4 673.0,958.6 674.0,960.8 675.0,963.1 676.0,965.3 677.0,967.7 678.0,970.0 679.0,972.4 680.0,975.0 681.0,977.7 682.0,980.4 683.0,983.2 684.0,985.9 685.0,988.6 686.0,991.2 687.0,993.7 688.0,996.0 689.0,998.1 690.0,1000.0 691.0,1001.7 692.0,1003.4 693.0,1005.0 694.0,1006.5 695.0,1007.9 696.0,1009.3 697.0,1010.7 698.0,1012.0 699.0,1013.2 700.0,1014.4 701.0,1015.6 702.0,1016.7 703.0,1017.9 704.0,1018.9 705.0,1020.0 706.0,1021.0 707.0,1022.0 708.0,1023.0 709.0,1023.9 710.0,1024.8 711.0,1025.7 712.0,1026.5 713.0,1027.4 714.0,1028.2 715.0,1029.0 716.0,1029.8 717.0,1030.6 718.0,1031.4 719.0,1032.2 720.0,1033.0 721.0,1033.8 722.0,1034.6 723.0,1035.4 724.0,1036.2 725.0,1037.0 726.0,1037.7 727.0,1038.5 728.0,1039.2 729.0,1039.9 730.0,1040.6 731.0,1041.3 732.0,1042.0 733.0,1042.6 734.0,1043.3 735.0,1043.9 736.0,1044.5 737.0,1045.0 738.0,1045.6 739.0,1046.2 740.0,1046.7 741.0,1047.3 742.0,1047.9 743.0,1048.4 744.0,1049.0 745.0,1049.6 746.0,1050.2 747.0,1050.7 748.0,1051.3 749.0,1051.9 750.0,1052.5 751.0,1053.1 752.0,1053.6 753.0,1054.2 754.0,1054.8 755.0,1055.4 756.0,1056.0 757.0,1056.5 758.0,1057.1 759.0,1057.7 760.0,1058.3 761.0,1058.8 762.0,1059.4 763.0,1060.0" fill="none" stroke="#2d5f9e" stroke-width="3.6" stroke-linejoin="round" stroke-dasharray="8 8" stroke-dashoffset="0" opacity="1"/>
<polyline points="203.5,1220.0 211.4,1221.8 227.3,1222.2 232.5,1227.0 239.6,1228.0 246.6,1228.8 256.3,1220.0 266.8,1210.0 274.8,1209.5 283.6,1213.0 288.8,1213.4 296.7,1206.0 305.5,1204.2 310.0,1205.0 316.0,1206.8 323.0,1202.4 332.0,1198.0 340.7,1196.3 349.5,1193.6 361.0,1185.7 371.5,1185.7 379.7,1184.5 392.9,1170.0 399.0,1170.5 403.4,1172.2 409.6,1170.5 416.6,1166.0 422.8,1165.2 431.6,1164.7 436.8,1165.2 444.8,1165.2 449.2,1162.5 451.8,1158.1 458.0,1152.9 465.0,1154.2 471.1,1159.0 480.0,1167.0 484.3,1163.4 498.4,1155.5 502.0,1159.0 507.2,1168.7 514.2,1179.3 523.9,1188.9 528.3,1190.7 537.1,1198.6 540.0,1199.3 547.0,1212.5 562.0,1227.5 575.2,1235.4 584.0,1245.0 592.8,1249.5 605.0,1252.0 616.5,1253.9 626.2,1261.0 633.2,1260.0 642.0,1255.6 650.0,1263.6 659.6,1273.2 667.5,1276.7 680.7,1284.7 686.0,1290.0 696.5,1301.0 708.0,1308.0 720.8,1313.4 737.7,1317.0 746.0,1326.0 754.5,1334.0 771.4,1339.6 792.0,1347.0 805.0,1345.0 818.0,1343.3 828.0,1346.0 837.0,1347.0" fill="none" stroke="#e8000c" stroke-width="3.4" stroke-linejoin="miter"/>
<polyline points="204.0,1220.7 205.0,1220.9 206.0,1221.1 207.0,1221.3 208.0,1221.6 209.0,1221.8 210.0,1222.0 211.0,1222.2 212.0,1222.4 213.0,1222.6 214.0,1222.8 215.0,1223.1 216.0,1223.3 217.0,1223.5 218.0,1223.7 219.0,1223.9 220.0,1224.1 221.0,1224.4 222.0,1224.6 223.0,1224.8 224.0,1225.0 225.0,1225.2 226.0,1225.4 227.0,1225.6 228.0,1225.9 229.0,1226.1 230.0,1226.3 231.0,1226.5 232.0,1226.7 233.0,1226.9 234.0,1227.1 235.0,1227.4 236.0,1227.6 237.0,1227.8 238.0,1228.0 239.0,1228.2 240.0,1228.4 241.0,1228.6 242.0,1228.9 243.0,1229.1 244.0,1229.3 245.0,1229.5 246.0,1229.7 247.0,1229.9 248.0,1230.2 249.0,1230.4 250.0,1230.6 251.0,1230.8 252.0,1231.0 253.0,1231.2 254.0,1231.4 255.0,1231.7 256.0,1231.9 257.0,1232.1 258.0,1232.3 259.0,1232.5 260.0,1232.7 261.0,1232.9 262.0,1233.2 263.0,1233.4 264.0,1233.6 265.0,1233.8 266.0,1234.0 267.0,1234.2 268.0,1234.4 269.0,1234.7 270.0,1234.9 271.0,1235.1 272.0,1235.3 273.0,1235.5 274.0,1235.7 275.0,1236.0 276.0,1236.2 277.0,1236.4 278.0,1236.6 279.0,1236.8 280.0,1237.0 281.0,1237.2 282.0,1237.5 283.0,1237.7 284.0,1237.9 285.0,1238.1 286.0,1238.3 287.0,1238.5 288.0,1238.7 289.0,1239.0 290.0,1239.2 291.0,1239.4 292.0,1239.6 293.0,1239.8 294.0,1240.0 295.0,1240.2 296.0,1240.5 297.0,1240.7 298.0,1240.9 299.0,1241.1 300.0,1241.3 301.0,1241.5 302.0,1241.8 303.0,1242.0 304.0,1242.2 305.0,1242.4 306.0,1242.6 307.0,1242.8 308.0,1243.0 309.0,1243.3 310.0,1243.5 311.0,1243.7 312.0,1243.9 313.0,1244.1 314.0,1244.3 315.0,1244.5 316.0,1244.8 317.0,1245.0 318.0,1245.2 319.0,1245.4 320.0,1245.6 321.0,1245.8 322.0,1246.0 323.0,1246.3 324.0,1246.5 325.0,1246.7 326.0,1246.9 327.0,1247.1 328.0,1247.3 329.0,1247.5 330.0,1247.8 331.0,1248.0 332.0,1248.2 333.0,1248.4 334.0,1248.6 335.0,1248.8 336.0,1249.1 337.0,1249.3 338.0,1249.5 339.0,1249.7 340.0,1249.9 341.0,1250.1 342.0,1250.3 343.0,1250.6 344.0,1250.8 345.0,1251.0 346.0,1251.2 347.0,1251.4 348.0,1251.6 349.0,1251.8 350.0,1252.1 351.0,1252.3 352.0,1252.5 353.0,1252.7 354.0,1252.9 355.0,1253.1 356.0,1253.3 357.0,1253.6 358.0,1253.8 359.0,1254.0 360.0,1254.2 361.0,1254.4 362.0,1254.6 363.0,1254.9 364.0,1255.1 365.0,1255.3 366.0,1255.5 367.0,1255.7 368.0,1255.9 369.0,1256.1 370.0,1256.4 371.0,1256.6 372.0,1256.8 373.0,1257.0 374.0,1257.2 375.0,1257.4 376.0,1257.6 377.0,1257.9 378.0,1258.1 379.0,1258.3 380.0,1258.5 381.0,1258.7 382.0,1258.9 383.0,1259.1 384.0,1259.4 385.0,1259.6 386.0,1259.8 387.0,1260.0 388.0,1260.2 389.0,1260.4 390.0,1260.7 391.0,1260.9 392.0,1261.1 393.0,1261.3 394.0,1261.5 395.0,1261.7 396.0,1261.9 397.0,1262.2 398.0,1262.4 399.0,1262.6 400.0,1262.8 401.0,1263.0 402.0,1263.2 403.0,1263.4 404.0,1263.7 405.0,1263.9 406.0,1264.1 407.0,1264.3 408.0,1264.5 409.0,1264.7 410.0,1264.9 411.0,1265.2 412.0,1265.4 413.0,1265.6 414.0,1265.8 415.0,1266.0 416.0,1266.2 417.0,1266.5 418.0,1266.7 419.0,1266.9 420.0,1267.1 421.0,1267.3 422.0,1267.5 423.0,1267.7 424.0,1268.0 425.0,1268.2 426.0,1268.4 427.0,1268.6 428.0,1268.8 429.0,1269.0 430.0,1269.2 431.0,1269.5 432.0,1269.7 433.0,1269.9 434.0,1270.1 435.0,1270.3 436.0,1270.5 437.0,1270.7 438.0,1271.0 439.0,1271.2 440.0,1271.4 441.0,1271.6 442.0,1271.8 443.0,1272.0 444.0,1272.3 445.0,1272.5 446.0,1272.7 447.0,1272.9 448.0,1273.1 449.0,1273.3 450.0,1273.5 451.0,1273.8 452.0,1274.0 453.0,1274.2 454.0,1274.4 455.0,1274.6 456.0,1274.8 457.0,1275.0 458.0,1275.3 459.0,1275.5 460.0,1275.7 461.0,1275.9 462.0,1276.1 463.0,1276.3 464.0,1276.5 465.0,1276.8 466.0,1277.0 467.0,1277.2 468.0,1277.4 469.0,1277.6 470.0,1277.8 471.0,1278.1 472.0,1278.3 473.0,1278.5 474.0,1278.7 475.0,1278.9 476.0,1279.1 477.0,1279.3 478.0,1279.6 479.0,1279.8 480.0,1280.0 481.0,1280.2 482.0,1280.4 483.0,1280.6 484.0,1280.8 485.0,1281.1 486.0,1281.3 487.0,1281.5 488.0,1281.7 489.0,1281.9 490.0,1282.1 491.0,1282.3 492.0,1282.6 493.0,1282.8 494.0,1283.0 495.0,1283.2 496.0,1283.4 497.0,1283.6 498.0,1283.8 499.0,1284.1 500.0,1284.3 501.0,1284.5 502.0,1284.7 503.0,1284.9 504.0,1285.1 505.0,1285.4 506.0,1285.6 507.0,1285.8 508.0,1286.0 509.0,1286.2 510.0,1286.4 511.0,1286.6 512.0,1286.9 513.0,1287.1 514.0,1287.3 515.0,1287.5 516.0,1287.7 517.0,1287.9 518.0,1288.1 519.0,1288.4 520.0,1288.6 521.0,1288.8 522.0,1289.0 523.0,1289.2 524.0,1289.4 525.0,1289.6 526.0,1289.9 527.0,1290.1 528.0,1290.3 529.0,1290.5 530.0,1290.7 531.0,1290.9 532.0,1291.2 533.0,1291.4 534.0,1291.6 535.0,1291.8 536.0,1292.0 537.0,1292.2 538.0,1292.4 539.0,1292.7 540.0,1292.9 541.0,1293.1 542.0,1293.3 543.0,1293.5 544.0,1293.7 545.0,1293.9 546.0,1294.2 547.0,1294.4 548.0,1294.6 549.0,1294.8 550.0,1295.0 551.0,1295.2 552.0,1295.4 553.0,1295.7 554.0,1295.9 555.0,1296.1 556.0,1296.3 557.0,1296.5 558.0,1296.7 559.0,1297.0 560.0,1297.2 561.0,1297.4 562.0,1297.6 563.0,1297.8 564.0,1298.0 565.0,1298.2 566.0,1298.5 567.0,1298.7 568.0,1298.9 569.0,1299.1 570.0,1299.3 571.0,1299.5 572.0,1299.7 573.0,1300.0 574.0,1300.2 575.0,1300.4 576.0,1300.6 577.0,1300.8 578.0,1301.0 579.0,1301.2 580.0,1301.5 581.0,1301.7 582.0,1301.9 583.0,1302.1 584.0,1302.3 585.0,1302.5 586.0,1302.8 587.0,1303.0 588.0,1303.2 589.0,1303.4 590.0,1303.6 591.0,1303.8 592.0,1304.0 593.0,1304.3 594.0,1304.5 595.0,1304.7 596.0,1304.9 597.0,1305.1 598.0,1305.3 599.0,1305.5 600.0,1305.8 601.0,1306.0 602.0,1306.2 603.0,1306.4 604.0,1306.6 605.0,1306.8 606.0,1307.0 607.0,1307.3 608.0,1307.5 609.0,1307.7 610.0,1307.9 611.0,1308.1 612.0,1308.3 613.0,1308.6 614.0,1308.8 615.0,1309.0 616.0,1309.2 617.0,1309.4 618.0,1309.6 619.0,1309.8 620.0,1310.1 621.0,1310.3 622.0,1310.5 623.0,1310.7 624.0,1310.9 625.0,1311.1 626.0,1311.3 627.0,1311.6 628.0,1311.8 629.0,1312.0 630.0,1312.2 631.0,1312.4 632.0,1312.6 633.0,1312.8 634.0,1313.1 635.0,1313.3 636.0,1313.5 637.0,1313.7 638.0,1313.9 639.0,1314.1 640.0,1314.4 641.0,1314.6 642.0,1314.8 643.0,1315.0 644.0,1315.2 645.0,1315.4 646.0,1315.6 647.0,1315.9 648.0,1316.1 649.0,1316.3 650.0,1316.5 651.0,1316.7 652.0,1316.9 653.0,1317.1 654.0,1317.4 655.0,1317.6 656.0,1317.8 657.0,1318.0 658.0,1318.2 659.0,1318.4 660.0,1318.6 661.0,1318.9 662.0,1319.1 663.0,1319.3 664.0,1319.5 665.0,1319.7 666.0,1319.9 667.0,1320.2 668.0,1320.4 669.0,1320.6 670.0,1320.8 671.0,1321.0 672.0,1321.2 673.0,1321.4 674.0,1321.7 675.0,1321.9 676.0,1322.1 677.0,1322.3 678.0,1322.5 679.0,1322.7 680.0,1322.9 681.0,1323.2 682.0,1323.4 683.0,1323.6 684.0,1323.8 685.0,1324.0 686.0,1324.2 687.0,1324.4 688.0,1324.7 689.0,1324.9 690.0,1325.1 691.0,1325.3 692.0,1325.5 693.0,1325.7 694.0,1326.0 695.0,1326.2 696.0,1326.4 697.0,1326.6 698.0,1326.8 699.0,1327.0 700.0,1327.2 701.0,1327.5 702.0,1327.7 703.0,1327.9 704.0,1328.1 705.0,1328.3 706.0,1328.5 707.0,1328.7 708.0,1329.0 709.0,1329.2 710.0,1329.4 711.0,1329.6 712.0,1329.8 713.0,1330.0 714.0,1330.2 715.0,1330.5 716.0,1330.7 717.0,1330.9 718.0,1331.1 719.0,1331.3 720.0,1331.5 721.0,1331.7 722.0,1332.0 723.0,1332.2 724.0,1332.4 725.0,1332.6 726.0,1332.8 727.0,1333.0 728.0,1333.3 729.0,1333.5 730.0,1333.7 731.0,1333.9 732.0,1334.1 733.0,1334.3 734.0,1334.5 735.0,1334.8 736.0,1335.0 737.0,1335.2 738.0,1335.4 739.0,1335.6 740.0,1335.8 741.0,1336.0 742.0,1336.3 743.0,1336.5 744.0,1336.7 745.0,1336.9 746.0,1337.1 747.0,1337.3 748.0,1337.5 749.0,1337.8 750.0,1338.0 751.0,1338.2 752.0,1338.4 753.0,1338.6 754.0,1338.8 755.0,1339.1 756.0,1339.3 757.0,1339.5 758.0,1339.7 759.0,1339.9 760.0,1340.1 761.0,1340.3 762.0,1340.6 763.0,1340.8 764.0,1341.0 765.0,1341.2 766.0,1341.4 767.0,1341.6 768.0,1341.8 769.0,1342.1 770.0,1342.3 771.0,1342.5 772.0,1342.7 773.0,1342.9 774.0,1343.1 775.0,1343.3 776.0,1343.6 777.0,1343.8 778.0,1344.0 779.0,1344.2 780.0,1344.4 781.0,1344.6 782.0,1344.9 783.0,1345.1 784.0,1345.3 785.0,1345.5 786.0,1345.7 787.0,1345.9 788.0,1346.1 789.0,1346.4 790.0,1346.6 791.0,1346.8 792.0,1347.0" fill="none" stroke="#e6b61c" stroke-width="3.6" stroke-linejoin="round" stroke-dasharray="8 8" stroke-dashoffset="8" opacity="1"/>
<polyline points="204.0,1220.7 205.0,1220.9 206.0,1221.1 207.0,1221.3 208.0,1221.6 209.0,1221.8 210.0,1222.0 211.0,1222.2 212.0,1222.4 213.0,1222.6 214.0,1222.8 215.0,1223.1 216.0,1223.3 217.0,1223.5 218.0,1223.7 219.0,1223.9 220.0,1224.1 221.0,1224.3 222.0,1224.6 223.0,1224.8 224.0,1225.0 225.0,1225.2 226.0,1225.4 227.0,1225.6 228.0,1225.8 229.0,1226.1 230.0,1226.3 231.0,1226.5 232.0,1226.7 233.0,1226.9 234.0,1227.1 235.0,1227.3 236.0,1227.6 237.0,1227.8 238.0,1228.0 239.0,1228.2 240.0,1228.4 241.0,1228.6 242.0,1228.8 243.0,1229.1 244.0,1229.3 245.0,1229.5 246.0,1229.7 247.0,1229.9 248.0,1230.1 249.0,1230.4 250.0,1230.6 251.0,1230.8 252.0,1231.0 253.0,1231.2 254.0,1231.4 255.0,1231.6 256.0,1231.9 257.0,1232.1 258.0,1232.3 259.0,1232.5 260.0,1232.7 261.0,1232.9 262.0,1233.1 263.0,1233.4 264.0,1233.6 265.0,1233.8 266.0,1234.0 267.0,1234.2 268.0,1234.4 269.0,1234.6 270.0,1234.9 271.0,1235.1 272.0,1235.3 273.0,1235.5 274.0,1235.7 275.0,1235.9 276.0,1236.1 277.0,1236.4 278.0,1236.6 279.0,1236.8 280.0,1237.0 281.0,1237.2 282.0,1237.4 283.0,1237.6 284.0,1237.9 285.0,1238.1 286.0,1238.3 287.0,1238.5 288.0,1238.7 289.0,1238.9 290.0,1239.2 291.0,1239.4 292.0,1239.6 293.0,1239.8 294.0,1240.0 295.0,1240.2 296.0,1240.4 297.0,1240.7 298.0,1240.9 299.0,1241.1 300.0,1241.3 301.0,1241.5 302.0,1241.7 303.0,1241.9 304.0,1242.2 305.0,1242.4 306.0,1242.6 307.0,1242.8 308.0,1243.0 309.0,1243.2 310.0,1243.5 311.0,1243.7 312.0,1243.9 313.0,1244.1 314.0,1244.3 315.0,1244.5 316.0,1244.7 317.0,1245.0 318.0,1245.2 319.0,1245.4 320.0,1245.6 321.0,1245.8 322.0,1246.0 323.0,1246.3 324.0,1246.5 325.0,1246.7 326.0,1246.9 327.0,1247.1 328.0,1247.3 329.0,1247.6 330.0,1247.8 331.0,1248.0 332.0,1248.2 333.0,1248.4 334.0,1248.6 335.0,1248.9 336.0,1249.1 337.0,1249.3 338.0,1249.5 339.0,1249.7 340.0,1249.9 341.0,1250.2 342.0,1250.4 343.0,1250.6 344.0,1250.8 345.0,1251.0 346.0,1251.2 347.0,1251.5 348.0,1251.7 349.0,1251.9 350.0,1252.1 351.0,1252.3 352.0,1252.5 353.0,1252.8 354.0,1253.0 355.0,1253.2 356.0,1253.4 357.0,1253.6 358.0,1253.8 359.0,1254.0 360.0,1254.3 361.0,1254.5 362.0,1254.7 363.0,1254.9 364.0,1255.1 365.0,1255.3 366.0,1255.6 367.0,1255.8 368.0,1256.0 369.0,1256.2 370.0,1256.4 371.0,1256.6 372.0,1256.8 373.0,1257.1 374.0,1257.3 375.0,1257.5 376.0,1257.7 377.0,1257.9 378.0,1258.1 379.0,1258.3 380.0,1258.6 381.0,1258.8 382.0,1259.0 383.0,1259.2 384.0,1259.4 385.0,1259.6 386.0,1259.8 387.0,1260.0 388.0,1260.3 389.0,1260.5 390.0,1260.7 391.0,1260.9 392.0,1261.1 393.0,1261.3 394.0,1261.5 395.0,1261.7 396.0,1262.0 397.0,1262.2 398.0,1262.4 399.0,1262.6 400.0,1262.8 401.0,1263.0 402.0,1263.2 403.0,1263.4 404.0,1263.6 405.0,1263.9 406.0,1264.1 407.0,1264.3 408.0,1264.5 409.0,1264.7 410.0,1264.9 411.0,1265.2 412.0,1265.4 413.0,1265.6 414.0,1265.8 415.0,1266.0 416.0,1266.3 417.0,1266.5 418.0,1266.7 419.0,1266.9 420.0,1267.1 421.0,1267.4 422.0,1267.6 423.0,1267.8 424.0,1268.0 425.0,1268.2 426.0,1268.5 427.0,1268.7 428.0,1268.9 429.0,1269.1 430.0,1269.4 431.0,1269.6 432.0,1269.8 433.0,1270.0 434.0,1270.3 435.0,1270.5 436.0,1270.7 437.0,1270.9 438.0,1271.1 439.0,1271.4 440.0,1271.6 441.0,1271.8 442.0,1272.0 443.0,1272.3 444.0,1272.5 445.0,1272.7 446.0,1272.9 447.0,1273.1 448.0,1273.3 449.0,1273.6 450.0,1273.8 451.0,1274.0 452.0,1274.2 453.0,1274.4 454.0,1274.7 455.0,1274.9 456.0,1275.1 457.0,1275.3 458.0,1275.5 459.0,1275.7 460.0,1275.9 461.0,1276.1 462.0,1276.3 463.0,1276.6 464.0,1276.8 465.0,1277.0 466.0,1277.2 467.0,1277.4 468.0,1277.6 469.0,1277.8 470.0,1278.0 471.0,1278.2 472.0,1278.4 473.0,1278.6 474.0,1278.8 475.0,1279.0 476.0,1279.2 477.0,1279.4 478.0,1279.6 479.0,1279.8 480.0,1279.9 481.0,1280.1 482.0,1280.3 483.0,1280.5 484.0,1280.7 485.0,1280.9 486.0,1281.0 487.0,1281.2 488.0,1281.4 489.0,1281.6 490.0,1281.8 491.0,1281.9 492.0,1282.1 493.0,1282.3 494.0,1282.4 495.0,1282.6 496.0,1282.8 497.0,1282.9 498.0,1283.1 499.0,1283.2 500.0,1283.4 501.0,1283.6 502.0,1283.7 503.0,1283.9 504.0,1284.0 505.0,1284.2 506.0,1284.4 507.0,1284.5 508.0,1284.7 509.0,1284.9 510.0,1285.0 511.0,1285.2 512.0,1285.4 513.0,1285.6 514.0,1285.7 515.0,1285.9 516.0,1286.1 517.0,1286.3 518.0,1286.4 519.0,1286.6 520.0,1286.8 521.0,1286.9 522.0,1287.1 523.0,1287.3 524.0,1287.5 525.0,1287.6 526.0,1287.8 527.0,1288.0 528.0,1288.1 529.0,1288.3 530.0,1288.4 531.0,1288.6 532.0,1288.8 533.0,1288.9 534.0,1289.1 535.0,1289.2 536.0,1289.4 537.0,1289.5 538.0,1289.6 539.0,1289.8 540.0,1289.9 541.0,1290.0 542.0,1290.2 543.0,1290.3 544.0,1290.4 545.0,1290.5 546.0,1290.6 547.0,1290.8 548.0,1290.9 549.0,1291.0 550.0,1291.0 551.0,1291.1 552.0,1291.2 553.0,1291.3 554.0,1291.4 555.0,1291.4 556.0,1291.5 557.0,1291.6 558.0,1291.6 559.0,1291.7 560.0,1291.7 561.0,1291.7 562.0,1291.8 563.0,1291.8 564.0,1291.8 565.0,1291.8 566.0,1291.8 567.0,1291.8 568.0,1291.8 569.0,1291.8 570.0,1291.7 571.0,1291.7 572.0,1291.7 573.0,1291.6 574.0,1291.6 575.0,1291.5 576.0,1291.5 577.0,1291.4 578.0,1291.4 579.0,1291.3 580.0,1291.2 581.0,1291.1 582.0,1291.1 583.0,1291.0 584.0,1290.9 585.0,1290.8 586.0,1290.7 587.0,1290.6 588.0,1290.5 589.0,1290.4 590.0,1290.3 591.0,1290.2 592.0,1290.1 593.0,1290.0 594.0,1289.9 595.0,1289.8 596.0,1289.7 597.0,1289.6 598.0,1289.5 599.0,1289.4 600.0,1289.3 601.0,1289.2 602.0,1289.1 603.0,1289.0 604.0,1288.9 605.0,1288.8 606.0,1288.6 607.0,1288.5 608.0,1288.3 609.0,1288.2 610.0,1288.0 611.0,1287.8 612.0,1287.6 613.0,1287.5 614.0,1287.3 615.0,1287.1 616.0,1286.9 617.0,1286.7 618.0,1286.5 619.0,1286.3 620.0,1286.1 621.0,1285.9 622.0,1285.7 623.0,1285.6 624.0,1285.4 625.0,1285.2 626.0,1285.1 627.0,1285.0 628.0,1284.8 629.0,1284.7 630.0,1284.6 631.0,1284.5 632.0,1284.5 633.0,1284.4 634.0,1284.4 635.0,1284.4 636.0,1284.4 637.0,1284.5 638.0,1284.5 639.0,1284.6 640.0,1284.7 641.0,1284.8 642.0,1284.9 643.0,1285.1 644.0,1285.3 645.0,1285.5 646.0,1285.7 647.0,1285.9 648.0,1286.1 649.0,1286.4 650.0,1286.6 651.0,1286.9 652.0,1287.2 653.0,1287.5 654.0,1287.8 655.0,1288.1 656.0,1288.4 657.0,1288.7 658.0,1289.1 659.0,1289.4 660.0,1289.7 661.0,1290.1 662.0,1290.5 663.0,1290.8 664.0,1291.2 665.0,1291.5 666.0,1291.9 667.0,1292.3 668.0,1292.7 669.0,1293.0 670.0,1293.5 671.0,1293.9 672.0,1294.4 673.0,1295.0 674.0,1295.6 675.0,1296.2 676.0,1296.9 677.0,1297.5 678.0,1298.2 679.0,1299.0 680.0,1299.7 681.0,1300.5 682.0,1301.2 683.0,1302.0 684.0,1302.8 685.0,1303.5 686.0,1304.3 687.0,1305.1 688.0,1305.9 689.0,1306.6 690.0,1307.3 691.0,1308.0 692.0,1308.7 693.0,1309.4 694.0,1310.0 695.0,1310.7 696.0,1311.2 697.0,1311.8 698.0,1312.3 699.0,1312.8 700.0,1313.3 701.0,1313.8 702.0,1314.3 703.0,1314.8 704.0,1315.3 705.0,1315.7 706.0,1316.2 707.0,1316.7 708.0,1317.1 709.0,1317.6 710.0,1318.0 711.0,1318.4 712.0,1318.9 713.0,1319.3 714.0,1319.7 715.0,1320.2 716.0,1320.6 717.0,1321.0 718.0,1321.4 719.0,1321.8 720.0,1322.2 721.0,1322.6 722.0,1323.0 723.0,1323.5 724.0,1323.9 725.0,1324.3 726.0,1324.7 727.0,1325.1 728.0,1325.5 729.0,1325.9 730.0,1326.3 731.0,1326.7 732.0,1327.2 733.0,1327.6 734.0,1328.0 735.0,1328.4 736.0,1328.9 737.0,1329.3 738.0,1329.8 739.0,1330.2 740.0,1330.7 741.0,1331.1 742.0,1331.6 743.0,1332.0 744.0,1332.5 745.0,1333.0 746.0,1333.4 747.0,1333.9 748.0,1334.3 749.0,1334.7 750.0,1335.2 751.0,1335.6 752.0,1336.0 753.0,1336.4 754.0,1336.8 755.0,1337.2 756.0,1337.6 757.0,1338.0 758.0,1338.3 759.0,1338.7 760.0,1339.0 761.0,1339.3 762.0,1339.6 763.0,1339.9 764.0,1340.2 765.0,1340.4 766.0,1340.7 767.0,1341.0 768.0,1341.2 769.0,1341.5 770.0,1341.8 771.0,1342.0 772.0,1342.3 773.0,1342.5 774.0,1342.8 775.0,1343.0 776.0,1343.2 777.0,1343.4 778.0,1343.7 779.0,1343.9 780.0,1344.1 781.0,1344.3 782.0,1344.5 783.0,1344.7 784.0,1344.8 785.0,1345.0 786.0,1345.2 787.0,1345.3 788.0,1345.5 789.0,1345.6 790.0,1345.8 791.0,1345.9 792.0,1346.0" fill="none" stroke="#46447f" stroke-width="3.6" stroke-linejoin="round" stroke-dasharray="8 8" stroke-dashoffset="0" opacity="1"/>
<polyline points="204.0,1215.0 205.0,1215.1 206.0,1215.3 207.0,1215.4 208.0,1215.5 209.0,1215.7 210.0,1215.8 211.0,1215.9 212.0,1216.0 213.0,1216.1 214.0,1216.3 215.0,1216.4 216.0,1216.5 217.0,1216.6 218.0,1216.7 219.0,1216.8 220.0,1216.9 221.0,1217.0 222.0,1217.1 223.0,1217.1 224.0,1217.2 225.0,1217.3 226.0,1217.4 227.0,1217.4 228.0,1217.5 229.0,1217.6 230.0,1217.6 231.0,1217.7 232.0,1217.7 233.0,1217.8 234.0,1217.8 235.0,1217.9 236.0,1217.9 237.0,1218.0 238.0,1218.0 239.0,1218.1 240.0,1218.1 241.0,1218.2 242.0,1218.2 243.0,1218.2 244.0,1218.3 245.0,1218.4 246.0,1218.4 247.0,1218.5 248.0,1218.5 249.0,1218.6 250.0,1218.7 251.0,1218.7 252.0,1218.8 253.0,1218.9 254.0,1218.9 255.0,1219.0 256.0,1219.0 257.0,1219.1 258.0,1219.1 259.0,1219.2 260.0,1219.2 261.0,1219.2 262.0,1219.2 263.0,1219.2 264.0,1219.1 265.0,1219.1 266.0,1219.0 267.0,1218.9 268.0,1218.9 269.0,1218.7 270.0,1218.6 271.0,1218.5 272.0,1218.4 273.0,1218.2 274.0,1218.1 275.0,1218.0 276.0,1217.8 277.0,1217.7 278.0,1217.5 279.0,1217.4 280.0,1217.3 281.0,1217.1 282.0,1217.0 283.0,1216.8 284.0,1216.6 285.0,1216.4 286.0,1216.2 287.0,1216.0 288.0,1215.8 289.0,1215.6 290.0,1215.4 291.0,1215.2 292.0,1215.0 293.0,1214.8 294.0,1214.5 295.0,1214.3 296.0,1214.1 297.0,1213.8 298.0,1213.6 299.0,1213.3 300.0,1213.1 301.0,1212.8 302.0,1212.5 303.0,1212.2 304.0,1211.9 305.0,1211.6 306.0,1211.3 307.0,1211.0 308.0,1210.7 309.0,1210.4 310.0,1210.0 311.0,1209.7 312.0,1209.4 313.0,1209.1 314.0,1208.7 315.0,1208.4 316.0,1208.1 317.0,1207.7 318.0,1207.4 319.0,1207.0 320.0,1206.6 321.0,1206.3 322.0,1205.9 323.0,1205.5 324.0,1205.2 325.0,1204.8 326.0,1204.5 327.0,1204.1 328.0,1203.8 329.0,1203.4 330.0,1203.1 331.0,1202.7 332.0,1202.4 333.0,1202.1 334.0,1201.8 335.0,1201.4 336.0,1201.1 337.0,1200.8 338.0,1200.5 339.0,1200.1 340.0,1199.8 341.0,1199.5 342.0,1199.1 343.0,1198.8 344.0,1198.4 345.0,1198.0 346.0,1197.6 347.0,1197.2 348.0,1196.8 349.0,1196.3 350.0,1195.9 351.0,1195.4 352.0,1194.9 353.0,1194.5 354.0,1194.0 355.0,1193.5 356.0,1193.0 357.0,1192.5 358.0,1192.0 359.0,1191.5 360.0,1191.0 361.0,1190.5 362.0,1190.0 363.0,1189.4 364.0,1188.9 365.0,1188.4 366.0,1187.8 367.0,1187.2 368.0,1186.7 369.0,1186.1 370.0,1185.6 371.0,1185.0 372.0,1184.4 373.0,1183.9 374.0,1183.3 375.0,1182.8 376.0,1182.2 377.0,1181.6 378.0,1181.1 379.0,1180.5 380.0,1180.0 381.0,1179.4 382.0,1178.8 383.0,1178.3 384.0,1177.7 385.0,1177.2 386.0,1176.6 387.0,1176.1 388.0,1175.6 389.0,1175.0 390.0,1174.6 391.0,1174.1 392.0,1173.6 393.0,1173.1 394.0,1172.6 395.0,1172.2 396.0,1171.7 397.0,1171.2 398.0,1170.8 399.0,1170.4 400.0,1169.9 401.0,1169.5 402.0,1169.1 403.0,1168.7 404.0,1168.3 405.0,1167.9 406.0,1167.5 407.0,1167.1 408.0,1166.8 409.0,1166.4 410.0,1166.0 411.0,1165.7 412.0,1165.3 413.0,1165.0 414.0,1164.7 415.0,1164.3 416.0,1164.0 417.0,1163.7 418.0,1163.4 419.0,1163.1 420.0,1162.8 421.0,1162.5 422.0,1162.2 423.0,1161.9 424.0,1161.6 425.0,1161.3 426.0,1161.0 427.0,1160.7 428.0,1160.4 429.0,1160.1 430.0,1159.8 431.0,1159.5 432.0,1159.3 433.0,1159.0 434.0,1158.8 435.0,1158.6 436.0,1158.4 437.0,1158.3 438.0,1158.2 439.0,1158.1 440.0,1158.0 441.0,1157.9 442.0,1157.8 443.0,1157.8 444.0,1157.7 445.0,1157.6 446.0,1157.6 447.0,1157.5 448.0,1157.5 449.0,1157.4 450.0,1157.4 451.0,1157.3 452.0,1157.3 453.0,1157.3 454.0,1157.3 455.0,1157.3 456.0,1157.4 457.0,1157.4 458.0,1157.5 459.0,1157.7 460.0,1157.9 461.0,1158.1 462.0,1158.3 463.0,1158.5 464.0,1158.8 465.0,1159.0 466.0,1159.3 467.0,1159.6 468.0,1159.9 469.0,1160.2 470.0,1160.5 471.0,1160.8 472.0,1161.1 473.0,1161.4 474.0,1161.8 475.0,1162.1 476.0,1162.6 477.0,1163.0 478.0,1163.4 479.0,1163.9 480.0,1164.4 481.0,1164.8 482.0,1165.3 483.0,1165.8 484.0,1166.3 485.0,1166.8 486.0,1167.3 487.0,1167.8 488.0,1168.3 489.0,1168.8 490.0,1169.2 491.0,1169.7 492.0,1170.2 493.0,1170.7 494.0,1171.2 495.0,1171.7 496.0,1172.3 497.0,1172.8 498.0,1173.4 499.0,1173.9 500.0,1174.5 501.0,1175.1 502.0,1175.7 503.0,1176.3 504.0,1177.0 505.0,1177.7 506.0,1178.4 507.0,1179.1 508.0,1179.9 509.0,1180.6 510.0,1181.4 511.0,1182.2 512.0,1183.0 513.0,1183.8 514.0,1184.6 515.0,1185.4 516.0,1186.2 517.0,1187.0 518.0,1187.8 519.0,1188.7 520.0,1189.5 521.0,1190.4 522.0,1191.2 523.0,1192.1 524.0,1193.0 525.0,1193.8 526.0,1194.7 527.0,1195.6 528.0,1196.5 529.0,1197.4 530.0,1198.4 531.0,1199.3 532.0,1200.3 533.0,1201.3 534.0,1202.2 535.0,1203.2 536.0,1204.2 537.0,1205.2 538.0,1206.1 539.0,1207.1 540.0,1208.0 541.0,1208.9 542.0,1209.8 543.0,1210.7 544.0,1211.5 545.0,1212.4 546.0,1213.3 547.0,1214.1 548.0,1215.0 549.0,1215.8 550.0,1216.7 551.0,1217.6 552.0,1218.5 553.0,1219.4 554.0,1220.4 555.0,1221.3 556.0,1222.3 557.0,1223.3 558.0,1224.3 559.0,1225.4 560.0,1226.4 561.0,1227.4 562.0,1228.4 563.0,1229.4 564.0,1230.4 565.0,1231.4 566.0,1232.4 567.0,1233.3 568.0,1234.3 569.0,1235.2 570.0,1236.1 571.0,1237.1 572.0,1238.0 573.0,1238.9 574.0,1239.8 575.0,1240.7 576.0,1241.6 577.0,1242.6 578.0,1243.5 579.0,1244.4 580.0,1245.4 581.0,1246.3 582.0,1247.3 583.0,1248.2 584.0,1249.2 585.0,1250.1 586.0,1251.1 587.0,1252.0 588.0,1252.9 589.0,1253.8 590.0,1254.7 591.0,1255.6 592.0,1256.5 593.0,1257.3 594.0,1258.1 595.0,1258.9 596.0,1259.7 597.0,1260.5 598.0,1261.3 599.0,1262.1 600.0,1262.9 601.0,1263.7 602.0,1264.5 603.0,1265.2 604.0,1266.0 605.0,1266.8 606.0,1267.7 607.0,1268.5 608.0,1269.3 609.0,1270.2 610.0,1271.0 611.0,1271.8 612.0,1272.7 613.0,1273.5 614.0,1274.3 615.0,1275.0 616.0,1275.7 617.0,1276.4 618.0,1277.1 619.0,1277.7 620.0,1278.3 621.0,1278.9 622.0,1279.5 623.0,1280.1 624.0,1280.7 625.0,1281.2 626.0,1281.8 627.0,1282.3 628.0,1282.8 629.0,1283.3 630.0,1283.8 631.0,1284.4 632.0,1284.9 633.0,1285.4 634.0,1285.9 635.0,1286.4 636.0,1286.9 637.0,1287.4 638.0,1287.9 639.0,1288.4 640.0,1288.9 641.0,1289.4 642.0,1289.8 643.0,1290.3 644.0,1290.8 645.0,1291.3 646.0,1291.7 647.0,1292.2 648.0,1292.7 649.0,1293.2 650.0,1293.6 651.0,1294.1 652.0,1294.6 653.0,1295.1 654.0,1295.6 655.0,1296.0 656.0,1296.5 657.0,1297.0 658.0,1297.5 659.0,1297.9 660.0,1298.4 661.0,1298.9 662.0,1299.4 663.0,1299.8 664.0,1300.3 665.0,1300.8 666.0,1301.3 667.0,1301.7 668.0,1302.2 669.0,1302.7 670.0,1303.2 671.0,1303.6 672.0,1304.1 673.0,1304.6 674.0,1305.1 675.0,1305.6 676.0,1306.1 677.0,1306.5 678.0,1307.0 679.0,1307.5 680.0,1308.0 681.0,1308.5 682.0,1309.0 683.0,1309.5 684.0,1310.0 685.0,1310.5 686.0,1311.0 687.0,1311.5 688.0,1312.0 689.0,1312.5 690.0,1313.1 691.0,1313.6 692.0,1314.2 693.0,1314.7 694.0,1315.3 695.0,1315.9 696.0,1316.4 697.0,1317.0 698.0,1317.6 699.0,1318.1 700.0,1318.7 701.0,1319.3 702.0,1319.9 703.0,1320.4 704.0,1321.0 705.0,1321.5 706.0,1322.1 707.0,1322.6 708.0,1323.1 709.0,1323.7 710.0,1324.2 711.0,1324.7 712.0,1325.1 713.0,1325.6 714.0,1326.1 715.0,1326.5 716.0,1326.9 717.0,1327.4 718.0,1327.8 719.0,1328.2 720.0,1328.6 721.0,1329.0 722.0,1329.5 723.0,1329.9 724.0,1330.3 725.0,1330.7 726.0,1331.1 727.0,1331.5 728.0,1331.9 729.0,1332.3 730.0,1332.7 731.0,1333.1 732.0,1333.4 733.0,1333.8 734.0,1334.2 735.0,1334.5 736.0,1334.9 737.0,1335.2 738.0,1335.6 739.0,1335.9 740.0,1336.2 741.0,1336.6 742.0,1336.9 743.0,1337.2 744.0,1337.5 745.0,1337.8 746.0,1338.0 747.0,1338.3 748.0,1338.5 749.0,1338.8 750.0,1339.0 751.0,1339.2 752.0,1339.5 753.0,1339.7 754.0,1339.9 755.0,1340.1 756.0,1340.2 757.0,1340.4 758.0,1340.6 759.0,1340.8 760.0,1341.0 761.0,1341.2 762.0,1341.4 763.0,1341.6 764.0,1341.7 765.0,1341.9 766.0,1342.1 767.0,1342.3 768.0,1342.4 769.0,1342.6 770.0,1342.8 771.0,1342.9 772.0,1343.1 773.0,1343.2 774.0,1343.4 775.0,1343.5 776.0,1343.6 777.0,1343.8 778.0,1343.9 779.0,1344.0 780.0,1344.1 781.0,1344.2 782.0,1344.3 783.0,1344.4 784.0,1344.5 785.0,1344.6 786.0,1344.7 787.0,1344.8 788.0,1344.8 789.0,1344.9 790.0,1344.9 791.0,1345.0 792.0,1345.0" fill="none" stroke="#2aa866" stroke-width="3.4" stroke-linejoin="round" stroke-dasharray="9 7" stroke-dashoffset="0" opacity="1"/>
<polyline points="376.0,1182.2 377.0,1181.6 378.0,1181.0 379.0,1180.4 380.0,1179.9 381.0,1179.3 382.0,1178.7 383.0,1178.2 384.0,1177.6 385.0,1177.1 386.0,1176.6 387.0,1176.1 388.0,1175.6 389.0,1175.0 390.0,1174.6 391.0,1174.1 392.0,1173.6 393.0,1173.1 394.0,1172.6 395.0,1172.2 396.0,1171.7 397.0,1171.2 398.0,1170.8 399.0,1170.4 400.0,1169.9 401.0,1169.5 402.0,1169.1 403.0,1168.7 404.0,1168.3 405.0,1167.9 406.0,1167.5 407.0,1167.1 408.0,1166.8 409.0,1166.4 410.0,1166.0 411.0,1165.7 412.0,1165.3 413.0,1165.0 414.0,1164.7 415.0,1164.3 416.0,1164.0 417.0,1163.7 418.0,1163.4 419.0,1163.1 420.0,1162.8 421.0,1162.5 422.0,1162.2 423.0,1161.9 424.0,1161.6 425.0,1161.3 426.0,1161.0 427.0,1160.7 428.0,1160.4 429.0,1160.1 430.0,1159.8 431.0,1159.5 432.0,1159.3 433.0,1159.0 434.0,1158.8 435.0,1158.6 436.0,1158.4 437.0,1158.3 438.0,1158.2 439.0,1158.1 440.0,1158.0 441.0,1157.9 442.0,1157.8 443.0,1157.8 444.0,1157.7 445.0,1157.6 446.0,1157.6 447.0,1157.5 448.0,1157.5 449.0,1157.4 450.0,1157.4 451.0,1157.3 452.0,1157.3 453.0,1157.3 454.0,1157.3 455.0,1157.3 456.0,1157.4 457.0,1157.4 458.0,1157.5 459.0,1157.7 460.0,1157.9 461.0,1158.1 462.0,1158.3 463.0,1158.5 464.0,1158.8 465.0,1159.0 466.0,1159.3 467.0,1159.6 468.0,1159.9 469.0,1160.2 470.0,1160.5 471.0,1160.8 472.0,1161.1 473.0,1161.4 474.0,1161.8 475.0,1162.1 476.0,1162.6 477.0,1163.0 478.0,1163.4 479.0,1163.9 480.0,1164.4 481.0,1164.8 482.0,1165.3 483.0,1165.8 484.0,1166.3 485.0,1166.8 486.0,1167.3 487.0,1167.8 488.0,1168.3 489.0,1168.8 490.0,1169.2 491.0,1169.7 492.0,1170.2 493.0,1170.7 494.0,1171.2 495.0,1171.7 496.0,1172.3 497.0,1172.8 498.0,1173.4 499.0,1173.9 500.0,1174.5 501.0,1175.1 502.0,1175.7 503.0,1176.3 504.0,1177.0 505.0,1177.7 506.0,1178.4 507.0,1179.1 508.0,1179.9 509.0,1180.6 510.0,1181.4 511.0,1182.2 512.0,1183.0 513.0,1183.8 514.0,1184.6 515.0,1185.4 516.0,1186.2 517.0,1187.0 518.0,1187.9 519.0,1188.7 520.0,1189.6 521.0,1190.4 522.0,1191.3 523.0,1192.2 524.0,1193.0 525.0,1193.9 526.0,1194.8 527.0,1195.7 528.0,1196.5 529.0,1197.4 530.0,1198.3 531.0,1199.2 532.0,1200.1 533.0,1201.0 534.0,1201.9 535.0,1202.8 536.0,1203.7 537.0,1204.6 538.0,1205.4 539.0,1206.2 540.0,1207.0 541.0,1207.8 542.0,1208.5 543.0,1209.2 544.0,1209.8 545.0,1210.5 546.0,1211.2 547.0,1211.8 548.0,1212.4 549.0,1213.1 550.0,1213.8 551.0,1214.4 552.0,1215.1 553.0,1215.9 554.0,1216.6 555.0,1217.4 556.0,1218.2 557.0,1219.0 558.0,1219.8 559.0,1220.6 560.0,1221.5 561.0,1222.3 562.0,1223.2 563.0,1224.0 564.0,1224.8 565.0,1225.7 566.0,1226.5 567.0,1227.3 568.0,1228.0 569.0,1228.8 570.0,1229.6 571.0,1230.4 572.0,1231.2 573.0,1231.9 574.0,1232.7 575.0,1233.4 576.0,1234.2 577.0,1234.9 578.0,1235.6 579.0,1236.2 580.0,1236.9 581.0,1237.5 582.0,1238.1 583.0,1238.7 584.0,1239.3 585.0,1239.8 586.0,1240.4 587.0,1240.9 588.0,1241.4 589.0,1241.9 590.0,1242.4 591.0,1242.9 592.0,1243.4 593.0,1243.9 594.0,1244.4 595.0,1244.8 596.0,1245.3 597.0,1245.7 598.0,1246.2 599.0,1246.6 600.0,1247.0 601.0,1247.4 602.0,1247.8 603.0,1248.2 604.0,1248.6 605.0,1249.0 606.0,1249.4 607.0,1249.8 608.0,1250.1 609.0,1250.5 610.0,1250.8 611.0,1251.1 612.0,1251.4 613.0,1251.7 614.0,1252.0 615.0,1252.3 616.0,1252.6 617.0,1252.8 618.0,1253.1 619.0,1253.3 620.0,1253.5 621.0,1253.8 622.0,1254.0 623.0,1254.3 624.0,1254.5 625.0,1254.8 626.0,1255.0 627.0,1255.3 628.0,1255.6 629.0,1255.9 630.0,1256.2 631.0,1256.5 632.0,1256.8 633.0,1257.1 634.0,1257.4 635.0,1257.7 636.0,1258.0 637.0,1258.4 638.0,1258.7 639.0,1259.1 640.0,1259.4 641.0,1259.8 642.0,1260.2 643.0,1260.6 644.0,1261.1 645.0,1261.6 646.0,1262.1 647.0,1262.6 648.0,1263.2 649.0,1263.8 650.0,1264.4 651.0,1265.1 652.0,1265.8 653.0,1266.5 654.0,1267.2 655.0,1267.9 656.0,1268.6 657.0,1269.3 658.0,1270.1 659.0,1270.8 660.0,1271.6 661.0,1272.4 662.0,1273.3 663.0,1274.1 664.0,1275.0 665.0,1276.0 666.0,1276.9 667.0,1277.8 668.0,1278.7 669.0,1279.6 670.0,1280.4 671.0,1281.2 672.0,1282.0 673.0,1282.7 674.0,1283.5 675.0,1284.1 676.0,1284.8 677.0,1285.5 678.0,1286.1 679.0,1286.8 680.0,1287.4 681.0,1288.0 682.0,1288.7 683.0,1289.3 684.0,1289.9 685.0,1290.6 686.0,1291.3 687.0,1292.0 688.0,1292.7 689.0,1293.5 690.0,1294.3 691.0,1295.1 692.0,1295.9 693.0,1296.7 694.0,1297.5 695.0,1298.3 696.0,1299.1 697.0,1299.9 698.0,1300.6 699.0,1301.3 700.0,1302.0 701.0,1302.6 702.0,1303.2 703.0,1303.8 704.0,1304.4 705.0,1305.0 706.0,1305.6 707.0,1306.1 708.0,1306.7 709.0,1307.2 710.0,1307.7 711.0,1308.3 712.0,1308.8 713.0,1309.3 714.0,1309.8 715.0,1310.3 716.0,1310.7 717.0,1311.2 718.0,1311.7 719.0,1312.2 720.0,1312.6 721.0,1313.1 722.0,1313.5 723.0,1314.0 724.0,1314.4 725.0,1314.8 726.0,1315.2 727.0,1315.6 728.0,1315.9 729.0,1316.3 730.0,1316.7 731.0,1317.1 732.0,1317.5 733.0,1317.9 734.0,1318.3 735.0,1318.7 736.0,1319.2 737.0,1319.7 738.0,1320.2 739.0,1320.7 740.0,1321.3 741.0,1321.9 742.0,1322.6 743.0,1323.3 744.0,1324.0 745.0,1324.7 746.0,1325.4 747.0,1326.2 748.0,1326.9 749.0,1327.6 750.0,1328.3 751.0,1328.9 752.0,1329.6 753.0,1330.2 754.0,1330.7 755.0,1331.3 756.0,1331.7 757.0,1332.2 758.0,1332.7 759.0,1333.1 760.0,1333.6 761.0,1334.0 762.0,1334.4 763.0,1334.8 764.0,1335.2 765.0,1335.6 766.0,1336.0 767.0,1336.4 768.0,1336.7 769.0,1337.1 770.0,1337.5 771.0,1337.9 772.0,1338.2 773.0,1338.6 774.0,1339.0 775.0,1339.3 776.0,1339.7 777.0,1340.1 778.0,1340.4 779.0,1340.8 780.0,1341.1 781.0,1341.5 782.0,1341.8 783.0,1342.1 784.0,1342.5 785.0,1342.8 786.0,1343.1 787.0,1343.5 788.0,1343.8 789.0,1344.1 790.0,1344.4 791.0,1344.7 792.0,1345.0" fill="none" stroke="#2d5f9e" stroke-width="3.6" stroke-linejoin="round" stroke-dasharray="8 8" stroke-dashoffset="0" opacity="1"/>
<rect x="1212.5" y="788.5" width="638.8" height="575.8" fill="none" stroke="#000" stroke-width="3"/>
<line x1="1426.3" y1="1364.3" x2="1426.3" y2="1347.3" stroke="#000" stroke-width="3"/>
<line x1="1640.5" y1="1364.3" x2="1640.5" y2="1347.3" stroke="#000" stroke-width="3"/>
<text transform="translate(1214.5 1419.5) scale(1 1.02)" font-size="44.5" text-anchor="middle">525</text>
<text transform="translate(1426 1419.5) scale(1 1.02)" font-size="44.5" text-anchor="middle">530</text>
<text transform="translate(1635.5 1419.5) scale(1 1.02)" font-size="44.5" text-anchor="middle">535</text>
<text transform="translate(1847.5 1419.5) scale(1 1.02)" font-size="44.5" text-anchor="middle">540</text>
<text transform="translate(1542 1474) scale(1 1.02)" font-size="44.5" text-anchor="middle"><tspan font-style="italic">E</tspan><tspan font-size="25" dy="2">b</tspan><tspan dy="-2">/eV</tspan></text>
<text transform="translate(1227 830) scale(1 1.02)" font-size="44.5" text-anchor="start">(D)</text>
<text transform="translate(1781.5 831) scale(1 1.02)" font-size="44.5" text-anchor="start">O</text>
<text transform="translate(1815.5 835) scale(1 1.02)" font-size="24" text-anchor="start">1</text>
<text transform="translate(1827 835) scale(1 1.02)" font-size="24" text-anchor="start" font-style="italic">s</text>
<text transform="translate(1218 891.3) scale(1 1.02)" font-size="44.5" text-anchor="start">O</text>
<text transform="translate(1250.5 893.5) scale(1 1.02)" font-size="24" text-anchor="start">L</text>
<text transform="translate(1264.5 891.3) scale(1 1.02)" font-size="44.5" text-anchor="start" textLength="150" lengthAdjust="spacingAndGlyphs">(Lattice)</text>
<text transform="translate(1257.5 935.5) scale(1 1.02)" font-size="44.5" text-anchor="start" textLength="128.5" lengthAdjust="spacingAndGlyphs">oxygen</text>
<text transform="translate(1479 890.3) scale(1 1.02)" font-size="44.5" text-anchor="start">O</text>
<text transform="translate(1510.5 893.5) scale(1 1.02)" font-size="26" text-anchor="start">v</text>
<text transform="translate(1524 890.3) scale(1 1.02)" font-size="44.5" text-anchor="start" textLength="320" lengthAdjust="spacingAndGlyphs">(Oxygen vacancy)</text>
<text transform="translate(1662.5 1033.6) scale(1 1.02)" font-size="44.5" text-anchor="start">CuO-ZnO</text>
<text transform="translate(1548 1163.2) scale(1 1.02)" font-size="44.5" text-anchor="start">O</text>
<text transform="translate(1580 1165) scale(1 1.02)" font-size="22" text-anchor="start">C</text>
<text transform="translate(1598.5 1163.2) scale(1 1.02)" font-size="44.5" text-anchor="start" textLength="245" lengthAdjust="spacingAndGlyphs">(Chemisorbed</text>
<text transform="translate(1624.5 1207.3) scale(1 1.02)" font-size="44.5" text-anchor="start" textLength="142.3" lengthAdjust="spacingAndGlyphs">oxygen)</text>
<text transform="translate(1569.5 1297.5) scale(1 1.02)" font-size="44.5" text-anchor="start">CuO-Zn</text>
<ellipse cx="1736.5" cy="1287" rx="17.3" ry="21" fill="none" stroke="#000" stroke-width="1.3"/>
<text transform="translate(1726.0 1297.5) scale(1 1.02)" font-size="44.5" text-anchor="start" font-style="italic">a</text>
<text transform="translate(1760 1297.5) scale(1 1.02)" font-size="44.5" text-anchor="start">SiO</text>
<text transform="translate(1827.5 1300.5) scale(1 1.02)" font-size="23.5" text-anchor="start">2</text>
<polyline points="1221.0,1049.3 1223.0,1049.5 1225.0,1049.5 1227.0,1050.0 1229.0,1049.2 1231.0,1050.1 1233.0,1049.8 1235.0,1050.6 1237.0,1050.6 1239.0,1050.8 1241.0,1050.6 1243.0,1050.3 1245.0,1050.7 1247.0,1051.0 1249.0,1050.1 1251.0,1050.6 1253.0,1050.4 1255.0,1051.0 1257.0,1050.1 1259.0,1050.3 1261.0,1050.6 1263.0,1050.6 1265.0,1049.8 1267.0,1050.6 1269.0,1050.4 1271.0,1050.4 1273.0,1050.4 1275.0,1050.6 1277.0,1049.8 1279.0,1051.1 1281.0,1050.1 1283.0,1049.6 1285.0,1050.5 1287.0,1051.1 1289.0,1050.3 1291.0,1051.1 1293.0,1051.1 1295.0,1050.2 1297.0,1049.5 1299.0,1050.0 1301.0,1051.0 1303.0,1050.2 1305.0,1049.9 1307.0,1049.9 1309.0,1050.4 1311.0,1050.4 1313.0,1050.7 1315.0,1050.7 1317.0,1049.9 1319.0,1050.2 1321.0,1049.7 1323.0,1050.2 1325.0,1049.6 1327.0,1049.5 1329.0,1050.8 1331.0,1049.9 1333.0,1050.1 1335.0,1050.7 1337.0,1049.9 1339.0,1049.5 1341.0,1049.5 1343.0,1049.0 1345.0,1049.6 1347.0,1048.8 1349.0,1049.4 1351.0,1048.3 1353.0,1048.0 1355.0,1047.6 1357.0,1047.6 1359.0,1046.9 1361.0,1046.6 1363.0,1045.0 1365.0,1044.3 1367.0,1043.8 1369.0,1041.7 1371.0,1040.7 1373.0,1039.7 1375.0,1037.6 1377.0,1035.3 1379.0,1032.7 1381.0,1032.2 1383.0,1029.0 1385.0,1026.7 1387.0,1022.9 1389.0,1020.2 1391.0,1015.6 1393.0,1010.9 1395.0,1005.6 1397.0,1000.5 1399.0,993.8 1401.0,986.8 1403.0,978.8 1405.0,971.1 1407.0,962.5 1409.0,952.4 1411.0,943.0 1413.0,932.0 1415.0,919.9 1417.0,908.6 1419.0,898.0 1421.0,888.3 1423.0,877.4 1425.0,868.5 1427.0,859.0 1429.0,850.0 1431.0,841.7 1433.0,834.7 1435.0,830.6 1437.0,825.7 1439.0,822.1 1441.0,819.7 1443.0,819.0 1445.0,819.9 1447.0,820.6 1449.0,823.4 1451.0,825.9 1453.0,830.1 1455.0,835.3 1457.0,840.8 1459.0,845.4 1461.0,850.4 1463.0,855.8 1465.0,859.8 1467.0,865.2 1469.0,869.9 1471.0,874.6 1473.0,878.3 1475.0,881.6 1477.0,885.2 1479.0,887.5 1481.0,891.1 1483.0,893.2 1485.0,895.6 1487.0,898.2 1489.0,900.5 1491.0,902.8 1493.0,904.6 1495.0,907.3 1497.0,909.9 1499.0,911.9 1501.0,914.3 1503.0,918.0 1505.0,921.1 1507.0,924.3 1509.0,929.8 1511.0,935.5 1513.0,940.1 1515.0,944.9 1517.0,948.7 1519.0,953.5 1521.0,957.5 1523.0,961.6 1525.0,966.6 1527.0,971.2 1529.0,976.7 1531.0,981.7 1533.0,983.6 1535.0,987.2 1537.0,989.0 1539.0,992.5 1541.0,996.6 1543.0,999.6 1545.0,1003.0 1547.0,1007.6 1549.0,1009.8 1551.0,1013.2 1553.0,1016.6 1555.0,1018.9 1557.0,1022.4 1559.0,1024.5 1561.0,1025.5 1563.0,1026.5 1565.0,1027.3 1567.0,1028.6 1569.0,1027.7 1571.0,1029.6 1573.0,1030.5 1575.0,1030.2 1577.0,1031.8 1579.0,1032.2 1581.0,1032.9 1583.0,1033.7 1585.0,1034.6 1587.0,1035.2 1589.0,1035.3 1591.0,1036.3 1593.0,1036.9 1595.0,1037.5 1597.0,1037.8 1599.0,1038.8 1601.0,1039.3 1603.0,1039.7 1605.0,1040.2 1607.0,1040.3 1609.0,1039.8 1611.0,1040.0 1613.0,1040.4 1615.0,1041.0 1617.0,1041.0 1619.0,1041.7 1621.0,1042.2 1623.0,1041.5 1625.0,1042.3 1627.0,1041.9 1629.0,1041.7 1631.0,1041.9 1633.0,1042.4 1635.0,1041.9 1637.0,1043.0 1639.0,1043.5 1641.0,1042.6 1643.0,1043.0 1645.0,1043.9 1647.0,1043.5 1649.0,1043.5 1651.0,1043.5 1653.0,1044.1 1655.0,1043.9 1657.0,1043.4 1659.0,1043.0 1661.0,1043.0 1663.0,1044.4 1665.0,1044.1 1667.0,1044.9 1669.0,1044.6 1671.0,1043.9 1673.0,1044.6 1675.0,1045.0 1677.0,1044.3 1679.0,1044.5 1681.0,1045.4 1683.0,1044.1 1685.0,1044.4 1687.0,1045.3 1689.0,1045.0 1691.0,1044.5 1693.0,1044.4 1695.0,1045.2 1697.0,1045.5 1699.0,1045.3 1701.0,1045.2 1703.0,1045.6 1705.0,1045.1 1707.0,1044.6 1709.0,1045.8 1711.0,1044.4 1713.0,1044.9 1715.0,1044.9 1717.0,1045.4 1719.0,1044.5 1721.0,1044.7 1723.0,1044.1 1725.0,1044.9 1727.0,1044.9 1729.0,1044.9 1731.0,1044.3 1733.0,1044.7 1735.0,1044.2 1737.0,1044.4 1739.0,1044.5 1741.0,1045.0 1743.0,1044.3 1745.0,1044.5 1747.0,1044.0 1749.0,1044.1 1751.0,1044.0 1753.0,1044.2 1755.0,1044.5 1757.0,1043.7 1759.0,1044.4 1761.0,1043.7 1763.0,1044.1 1765.0,1043.7 1767.0,1043.8 1769.0,1043.7 1771.0,1044.2 1773.0,1043.8 1775.0,1044.1 1777.0,1043.5 1779.0,1043.5 1781.0,1044.2 1783.0,1042.8 1785.0,1043.0 1787.0,1043.3 1789.0,1044.0 1791.0,1043.0 1793.0,1043.5 1795.0,1043.8 1797.0,1043.0 1799.0,1042.9 1801.0,1043.6 1803.0,1042.7 1805.0,1042.4 1807.0,1043.1 1809.0,1042.6 1811.0,1043.2 1813.0,1042.9 1815.0,1041.9 1817.0,1042.7 1819.0,1042.5 1821.0,1042.2 1823.0,1042.8 1825.0,1041.6 1827.0,1041.8 1829.0,1042.0 1831.0,1042.5 1833.0,1041.5 1835.0,1041.8 1837.0,1041.7 1839.0,1041.4 1841.0,1041.8 1843.0,1041.4 1845.0,1041.6 1847.0,1041.9 1849.0,1041.3" fill="none" stroke="#e8000c" stroke-width="3.3" stroke-linejoin="round" opacity="1"/>
<polyline points="1221.0,1049.8 1222.0,1049.8 1223.0,1049.8 1224.0,1049.8 1225.0,1049.8 1226.0,1049.8 1227.0,1049.8 1228.0,1049.8 1229.0,1049.8 1230.0,1049.8 1231.0,1049.8 1232.0,1049.8 1233.0,1049.8 1234.0,1049.8 1235.0,1049.8 1236.0,1049.8 1237.0,1049.8 1238.0,1049.8 1239.0,1049.8 1240.0,1049.8 1241.0,1049.8 1242.0,1049.8 1243.0,1049.8 1244.0,1049.8 1245.0,1049.8 1246.0,1049.8 1247.0,1049.8 1248.0,1049.8 1249.0,1049.8 1250.0,1049.8 1251.0,1049.8 1252.0,1049.8 1253.0,1049.8 1254.0,1049.8 1255.0,1049.8 1256.0,1049.8 1257.0,1049.8 1258.0,1049.8 1259.0,1049.8 1260.0,1049.8 1261.0,1049.8 1262.0,1049.8 1263.0,1049.8 1264.0,1049.8 1265.0,1049.8 1266.0,1049.8 1267.0,1049.8 1268.0,1049.8 1269.0,1049.8 1270.0,1049.8 1271.0,1049.8 1272.0,1049.8 1273.0,1049.8 1274.0,1049.8 1275.0,1049.8 1276.0,1049.8 1277.0,1049.8 1278.0,1049.8 1279.0,1049.8 1280.0,1049.8 1281.0,1049.8 1282.0,1049.8 1283.0,1049.8 1284.0,1049.8 1285.0,1049.8 1286.0,1049.8 1287.0,1049.8 1288.0,1049.8 1289.0,1049.8 1290.0,1049.8 1291.0,1049.8 1292.0,1049.8 1293.0,1049.8 1294.0,1049.8 1295.0,1049.8 1296.0,1049.8 1297.0,1049.8 1298.0,1049.8 1299.0,1049.8 1300.0,1049.8 1301.0,1049.8 1302.0,1049.8 1303.0,1049.8 1304.0,1049.8 1305.0,1049.8 1306.0,1049.8 1307.0,1049.8 1308.0,1049.8 1309.0,1049.8 1310.0,1049.8 1311.0,1049.8 1312.0,1049.8 1313.0,1049.8 1314.0,1049.8 1315.0,1049.8 1316.0,1049.8 1317.0,1049.8 1318.0,1049.8 1319.0,1049.8 1320.0,1049.8 1321.0,1049.8 1322.0,1049.8 1323.0,1049.8 1324.0,1049.8 1325.0,1049.8 1326.0,1049.8 1327.0,1049.8 1328.0,1049.8 1329.0,1049.8 1330.0,1049.8 1331.0,1049.8 1332.0,1049.8 1333.0,1049.8 1334.0,1049.8 1335.0,1049.8 1336.0,1049.8 1337.0,1049.8 1338.0,1049.8 1339.0,1049.8 1340.0,1049.8 1341.0,1049.8 1342.0,1049.8 1343.0,1049.8 1344.0,1049.8 1345.0,1049.8 1346.0,1049.8 1347.0,1049.8 1348.0,1049.8 1349.0,1049.8 1350.0,1049.8 1351.0,1049.8 1352.0,1049.8 1353.0,1049.8 1354.0,1049.8 1355.0,1049.8 1356.0,1049.8 1357.0,1049.8 1358.0,1049.8 1359.0,1049.8 1360.0,1049.8 1361.0,1049.8 1362.0,1049.8 1363.0,1049.8 1364.0,1049.8 1365.0,1049.8 1366.0,1049.8 1367.0,1049.8 1368.0,1049.8 1369.0,1049.8 1370.0,1049.8 1371.0,1049.8 1372.0,1049.8 1373.0,1049.8 1374.0,1049.8 1375.0,1049.8 1376.0,1049.8 1377.0,1049.8 1378.0,1049.8 1379.0,1049.8 1380.0,1049.8 1381.0,1049.8 1382.0,1049.8 1383.0,1049.8 1384.0,1049.8 1385.0,1049.8 1386.0,1049.8 1387.0,1049.8 1388.0,1049.8 1389.0,1049.8 1390.0,1049.8 1391.0,1049.8 1392.0,1049.8 1393.0,1049.8 1394.0,1049.8 1395.0,1049.8 1396.0,1049.8 1397.0,1049.8 1398.0,1049.8 1399.0,1049.7 1400.0,1049.7 1401.0,1049.7 1402.0,1049.7 1403.0,1049.7 1404.0,1049.7 1405.0,1049.7 1406.0,1049.7 1407.0,1049.7 1408.0,1049.7 1409.0,1049.7 1410.0,1049.7 1411.0,1049.7 1412.0,1049.7 1413.0,1049.7 1414.0,1049.7 1415.0,1049.7 1416.0,1049.7 1417.0,1049.7 1418.0,1049.7 1419.0,1049.7 1420.0,1049.7 1421.0,1049.6 1422.0,1049.6 1423.0,1049.6 1424.0,1049.6 1425.0,1049.6 1426.0,1049.6 1427.0,1049.6 1428.0,1049.6 1429.0,1049.6 1430.0,1049.6 1431.0,1049.6 1432.0,1049.5 1433.0,1049.5 1434.0,1049.5 1435.0,1049.5 1436.0,1049.5 1437.0,1049.5 1438.0,1049.5 1439.0,1049.4 1440.0,1049.4 1441.0,1049.4 1442.0,1049.4 1443.0,1049.4 1444.0,1049.3 1445.0,1049.3 1446.0,1049.3 1447.0,1049.3 1448.0,1049.3 1449.0,1049.2 1450.0,1049.2 1451.0,1049.2 1452.0,1049.1 1453.0,1049.1 1454.0,1049.1 1455.0,1049.1 1456.0,1049.0 1457.0,1049.0 1458.0,1049.0 1459.0,1048.9 1460.0,1048.9 1461.0,1048.8 1462.0,1048.8 1463.0,1048.8 1464.0,1048.7 1465.0,1048.7 1466.0,1048.6 1467.0,1048.6 1468.0,1048.6 1469.0,1048.5 1470.0,1048.5 1471.0,1048.4 1472.0,1048.4 1473.0,1048.3 1474.0,1048.2 1475.0,1048.2 1476.0,1048.1 1477.0,1048.1 1478.0,1048.0 1479.0,1048.0 1480.0,1047.9 1481.0,1047.9 1482.0,1047.8 1483.0,1047.7 1484.0,1047.7 1485.0,1047.6 1486.0,1047.5 1487.0,1047.5 1488.0,1047.4 1489.0,1047.4 1490.0,1047.3 1491.0,1047.2 1492.0,1047.2 1493.0,1047.1 1494.0,1047.1 1495.0,1047.0 1496.0,1046.9 1497.0,1046.9 1498.0,1046.8 1499.0,1046.7 1500.0,1046.7 1501.0,1046.6 1502.0,1046.6 1503.0,1046.5 1504.0,1046.5 1505.0,1046.4 1506.0,1046.4 1507.0,1046.3 1508.0,1046.2 1509.0,1046.2 1510.0,1046.1 1511.0,1046.1 1512.0,1046.0 1513.0,1046.0 1514.0,1046.0 1515.0,1045.9 1516.0,1045.9 1517.0,1045.8 1518.0,1045.8 1519.0,1045.8 1520.0,1045.7 1521.0,1045.7 1522.0,1045.6 1523.0,1045.6 1524.0,1045.6 1525.0,1045.5 1526.0,1045.5 1527.0,1045.5 1528.0,1045.5 1529.0,1045.4 1530.0,1045.4 1531.0,1045.4 1532.0,1045.3 1533.0,1045.3 1534.0,1045.3 1535.0,1045.3 1536.0,1045.3 1537.0,1045.2 1538.0,1045.2 1539.0,1045.2 1540.0,1045.2 1541.0,1045.2 1542.0,1045.1 1543.0,1045.1 1544.0,1045.1 1545.0,1045.1 1546.0,1045.1 1547.0,1045.1 1548.0,1045.1 1549.0,1045.0 1550.0,1045.0 1551.0,1045.0 1552.0,1045.0 1553.0,1045.0 1554.0,1045.0 1555.0,1045.0 1556.0,1045.0 1557.0,1045.0 1558.0,1045.0 1559.0,1045.0 1560.0,1044.9 1561.0,1044.9 1562.0,1044.9 1563.0,1044.9 1564.0,1044.9 1565.0,1044.9 1566.0,1044.9 1567.0,1044.9 1568.0,1044.9 1569.0,1044.9 1570.0,1044.9 1571.0,1044.9 1572.0,1044.9 1573.0,1044.9 1574.0,1044.9 1575.0,1044.9 1576.0,1044.9 1577.0,1044.9 1578.0,1044.9 1579.0,1044.9 1580.0,1044.9 1581.0,1044.9 1582.0,1044.8 1583.0,1044.8 1584.0,1044.8 1585.0,1044.8 1586.0,1044.8 1587.0,1044.8 1588.0,1044.8 1589.0,1044.8 1590.0,1044.8 1591.0,1044.8 1592.0,1044.8 1593.0,1044.8 1594.0,1044.8 1595.0,1044.8 1596.0,1044.8 1597.0,1044.8 1598.0,1044.8 1599.0,1044.8 1600.0,1044.8 1601.0,1044.8 1602.0,1044.8 1603.0,1044.8 1604.0,1044.8 1605.0,1044.8 1606.0,1044.8 1607.0,1044.8 1608.0,1044.8 1609.0,1044.8 1610.0,1044.8 1611.0,1044.8 1612.0,1044.8 1613.0,1044.8 1614.0,1044.8 1615.0,1044.8 1616.0,1044.8 1617.0,1044.8 1618.0,1044.8 1619.0,1044.8 1620.0,1044.8 1621.0,1044.8 1622.0,1044.8 1623.0,1044.8 1624.0,1044.8 1625.0,1044.8 1626.0,1044.8 1627.0,1044.8 1628.0,1044.8 1629.0,1044.8 1630.0,1044.8 1631.0,1044.8 1632.0,1044.8 1633.0,1044.8 1634.0,1044.8 1635.0,1044.8 1636.0,1044.8 1637.0,1044.8 1638.0,1044.8 1639.0,1044.8 1640.0,1044.8 1641.0,1044.8 1642.0,1044.8 1643.0,1044.8 1644.0,1044.8 1645.0,1044.8 1646.0,1044.8 1647.0,1044.8 1648.0,1044.8 1649.0,1044.8 1650.0,1044.8 1651.0,1044.8 1652.0,1044.8 1653.0,1044.8 1654.0,1044.8 1655.0,1044.8 1656.0,1044.8 1657.0,1044.8 1658.0,1044.8 1659.0,1044.8 1660.0,1044.8 1661.0,1044.8 1662.0,1044.8 1663.0,1044.8 1664.0,1044.8 1665.0,1044.8 1666.0,1044.8 1667.0,1044.8 1668.0,1044.8 1669.0,1044.8 1670.0,1044.8 1671.0,1044.8 1672.0,1044.8 1673.0,1044.8 1674.0,1044.8 1675.0,1044.8 1676.0,1044.8 1677.0,1044.8 1678.0,1044.8 1679.0,1044.8 1680.0,1044.8 1681.0,1044.8 1682.0,1044.8 1683.0,1044.8 1684.0,1044.8 1685.0,1044.8 1686.0,1044.8 1687.0,1044.8 1688.0,1044.8 1689.0,1044.8 1690.0,1044.8 1691.0,1044.8 1692.0,1044.8 1693.0,1044.8 1694.0,1044.8 1695.0,1044.8 1696.0,1044.8 1697.0,1044.8 1698.0,1044.8 1699.0,1044.8 1700.0,1044.8 1701.0,1044.8 1702.0,1044.8 1703.0,1044.8 1704.0,1044.8 1705.0,1044.8 1706.0,1044.8 1707.0,1044.8 1708.0,1044.8 1709.0,1044.8 1710.0,1044.8 1711.0,1044.8 1712.0,1044.8 1713.0,1044.8 1714.0,1044.8 1715.0,1044.8 1716.0,1044.8 1717.0,1044.8 1718.0,1044.8 1719.0,1044.8 1720.0,1044.8 1721.0,1044.8 1722.0,1044.8 1723.0,1044.8 1724.0,1044.8 1725.0,1044.8 1726.0,1044.8 1727.0,1044.8 1728.0,1044.8 1729.0,1044.8 1730.0,1044.8 1731.0,1044.8 1732.0,1044.8 1733.0,1044.8 1734.0,1044.8 1735.0,1044.8 1736.0,1044.8 1737.0,1044.8 1738.0,1044.8 1739.0,1044.8 1740.0,1044.8 1741.0,1044.8 1742.0,1044.8 1743.0,1044.8 1744.0,1044.8 1745.0,1044.8 1746.0,1044.8 1747.0,1044.8 1748.0,1044.8 1749.0,1044.8 1750.0,1044.8 1751.0,1044.8 1752.0,1044.8 1753.0,1044.8 1754.0,1044.8 1755.0,1044.8 1756.0,1044.8 1757.0,1044.8 1758.0,1044.8 1759.0,1044.8 1760.0,1044.8 1761.0,1044.8 1762.0,1044.8 1763.0,1044.8 1764.0,1044.8 1765.0,1044.8 1766.0,1044.8 1767.0,1044.8 1768.0,1044.8 1769.0,1044.8 1770.0,1044.8 1771.0,1044.8 1772.0,1044.8 1773.0,1044.8 1774.0,1044.8 1775.0,1044.8 1776.0,1044.8 1777.0,1044.8 1778.0,1044.8 1779.0,1044.8 1780.0,1044.8 1781.0,1044.8 1782.0,1044.8 1783.0,1044.8 1784.0,1044.8 1785.0,1044.8 1786.0,1044.8 1787.0,1044.8 1788.0,1044.8 1789.0,1044.8 1790.0,1044.8 1791.0,1044.8 1792.0,1044.8 1793.0,1044.8 1794.0,1044.8 1795.0,1044.8 1796.0,1044.8 1797.0,1044.8 1798.0,1044.8 1799.0,1044.8 1800.0,1044.8 1801.0,1044.8 1802.0,1044.8 1803.0,1044.8 1804.0,1044.8 1805.0,1044.8 1806.0,1044.8 1807.0,1044.8 1808.0,1044.8 1809.0,1044.8 1810.0,1044.8 1811.0,1044.8 1812.0,1044.8 1813.0,1044.8 1814.0,1044.8 1815.0,1044.8 1816.0,1044.8 1817.0,1044.8 1818.0,1044.8 1819.0,1044.8 1820.0,1044.8 1821.0,1044.8 1822.0,1044.8 1823.0,1044.8 1824.0,1044.8 1825.0,1044.8 1826.0,1044.8 1827.0,1044.8 1828.0,1044.8 1829.0,1044.8 1830.0,1044.8 1831.0,1044.8 1832.0,1044.8 1833.0,1044.8 1834.0,1044.8 1835.0,1044.8 1836.0,1044.8 1837.0,1044.8 1838.0,1044.8 1839.0,1044.8 1840.0,1044.8 1841.0,1044.8 1842.0,1044.8 1843.0,1044.8 1844.0,1044.8 1845.0,1044.8 1846.0,1044.8 1847.0,1044.8 1848.0,1044.8 1849.0,1044.8 1850.0,1044.8" fill="none" stroke="#e6b61c" stroke-width="3.4" stroke-linejoin="round" stroke-dasharray="9 8" stroke-dashoffset="0" opacity="1"/>
<polyline points="1221.0,1049.6 1222.0,1049.6 1223.0,1049.6 1224.0,1049.6 1225.0,1049.6 1226.0,1049.6 1227.0,1049.6 1228.0,1049.6 1229.0,1049.6 1230.0,1049.6 1231.0,1049.6 1232.0,1049.6 1233.0,1049.6 1234.0,1049.6 1235.0,1049.6 1236.0,1049.6 1237.0,1049.6 1238.0,1049.6 1239.0,1049.6 1240.0,1049.6 1241.0,1049.6 1242.0,1049.6 1243.0,1049.6 1244.0,1049.6 1245.0,1049.6 1246.0,1049.6 1247.0,1049.6 1248.0,1049.6 1249.0,1049.6 1250.0,1049.6 1251.0,1049.6 1252.0,1049.6 1253.0,1049.6 1254.0,1049.6 1255.0,1049.6 1256.0,1049.6 1257.0,1049.6 1258.0,1049.6 1259.0,1049.6 1260.0,1049.6 1261.0,1049.6 1262.0,1049.6 1263.0,1049.6 1264.0,1049.6 1265.0,1049.6 1266.0,1049.6 1267.0,1049.6 1268.0,1049.6 1269.0,1049.6 1270.0,1049.5 1271.0,1049.5 1272.0,1049.5 1273.0,1049.5 1274.0,1049.5 1275.0,1049.5 1276.0,1049.5 1277.0,1049.5 1278.0,1049.5 1279.0,1049.5 1280.0,1049.5 1281.0,1049.5 1282.0,1049.5 1283.0,1049.5 1284.0,1049.5 1285.0,1049.5 1286.0,1049.5 1287.0,1049.5 1288.0,1049.5 1289.0,1049.5 1290.0,1049.5 1291.0,1049.5 1292.0,1049.5 1293.0,1049.5 1294.0,1049.5 1295.0,1049.5 1296.0,1049.5 1297.0,1049.5 1298.0,1049.5 1299.0,1049.5 1300.0,1049.5 1301.0,1049.5 1302.0,1049.5 1303.0,1049.5 1304.0,1049.5 1305.0,1049.5 1306.0,1049.5 1307.0,1049.5 1308.0,1049.4 1309.0,1049.4 1310.0,1049.4 1311.0,1049.4 1312.0,1049.4 1313.0,1049.4 1314.0,1049.4 1315.0,1049.4 1316.0,1049.4 1317.0,1049.4 1318.0,1049.4 1319.0,1049.4 1320.0,1049.4 1321.0,1049.4 1322.0,1049.4 1323.0,1049.4 1324.0,1049.4 1325.0,1049.4 1326.0,1049.4 1327.0,1049.4 1328.0,1049.4 1329.0,1049.4 1330.0,1049.4 1331.0,1049.3 1332.0,1049.3 1333.0,1049.3 1334.0,1049.3 1335.0,1049.3 1336.0,1049.3 1337.0,1049.3 1338.0,1049.3 1339.0,1049.3 1340.0,1049.3 1341.0,1049.3 1342.0,1049.3 1343.0,1049.3 1344.0,1049.3 1345.0,1049.3 1346.0,1049.3 1347.0,1049.3 1348.0,1049.2 1349.0,1049.2 1350.0,1049.2 1351.0,1049.2 1352.0,1049.2 1353.0,1049.2 1354.0,1049.2 1355.0,1049.2 1356.0,1049.2 1357.0,1049.2 1358.0,1049.2 1359.0,1049.2 1360.0,1049.2 1361.0,1049.1 1362.0,1049.1 1363.0,1049.1 1364.0,1049.1 1365.0,1049.1 1366.0,1049.1 1367.0,1049.1 1368.0,1049.1 1369.0,1049.1 1370.0,1049.1 1371.0,1049.0 1372.0,1049.0 1373.0,1049.0 1374.0,1049.0 1375.0,1049.0 1376.0,1049.0 1377.0,1049.0 1378.0,1049.0 1379.0,1048.9 1380.0,1048.9 1381.0,1048.9 1382.0,1048.9 1383.0,1048.9 1384.0,1048.9 1385.0,1048.9 1386.0,1048.8 1387.0,1048.8 1388.0,1048.8 1389.0,1048.8 1390.0,1048.8 1391.0,1048.8 1392.0,1048.7 1393.0,1048.7 1394.0,1048.7 1395.0,1048.7 1396.0,1048.7 1397.0,1048.6 1398.0,1048.6 1399.0,1048.6 1400.0,1048.5 1401.0,1048.5 1402.0,1048.5 1403.0,1048.5 1404.0,1048.4 1405.0,1048.4 1406.0,1048.4 1407.0,1048.3 1408.0,1048.3 1409.0,1048.2 1410.0,1048.2 1411.0,1048.1 1412.0,1048.1 1413.0,1048.0 1414.0,1048.0 1415.0,1047.9 1416.0,1047.8 1417.0,1047.8 1418.0,1047.7 1419.0,1047.6 1420.0,1047.5 1421.0,1047.4 1422.0,1047.3 1423.0,1047.2 1424.0,1047.0 1425.0,1046.9 1426.0,1046.7 1427.0,1046.6 1428.0,1046.4 1429.0,1046.2 1430.0,1046.0 1431.0,1045.8 1432.0,1045.6 1433.0,1045.3 1434.0,1045.0 1435.0,1044.7 1436.0,1044.4 1437.0,1044.1 1438.0,1043.7 1439.0,1043.3 1440.0,1042.8 1441.0,1042.4 1442.0,1041.9 1443.0,1041.4 1444.0,1040.8 1445.0,1040.2 1446.0,1039.6 1447.0,1038.9 1448.0,1038.1 1449.0,1037.4 1450.0,1036.6 1451.0,1035.7 1452.0,1034.8 1453.0,1033.8 1454.0,1032.8 1455.0,1031.7 1456.0,1030.6 1457.0,1029.4 1458.0,1028.2 1459.0,1026.9 1460.0,1025.5 1461.0,1024.1 1462.0,1022.6 1463.0,1021.1 1464.0,1019.5 1465.0,1017.9 1466.0,1016.2 1467.0,1014.4 1468.0,1012.6 1469.0,1010.8 1470.0,1008.8 1471.0,1006.9 1472.0,1004.9 1473.0,1002.9 1474.0,1000.8 1475.0,998.7 1476.0,996.6 1477.0,994.5 1478.0,992.3 1479.0,990.1 1480.0,987.9 1481.0,985.7 1482.0,983.6 1483.0,981.4 1484.0,979.2 1485.0,977.1 1486.0,975.0 1487.0,972.9 1488.0,970.9 1489.0,969.0 1490.0,967.1 1491.0,965.2 1492.0,963.5 1493.0,961.8 1494.0,960.2 1495.0,958.7 1496.0,957.3 1497.0,956.0 1498.0,954.9 1499.0,953.8 1500.0,952.9 1501.0,952.1 1502.0,951.5 1503.0,951.0 1504.0,950.6 1505.0,950.4 1506.0,950.4 1507.0,950.4 1508.0,950.7 1509.0,951.0 1510.0,951.5 1511.0,952.2 1512.0,953.0 1513.0,953.9 1514.0,954.9 1515.0,956.0 1516.0,957.3 1517.0,958.7 1518.0,960.1 1519.0,961.7 1520.0,963.3 1521.0,965.1 1522.0,966.9 1523.0,968.7 1524.0,970.6 1525.0,972.6 1526.0,974.6 1527.0,976.6 1528.0,978.7 1529.0,980.8 1530.0,982.9 1531.0,985.0 1532.0,987.1 1533.0,989.2 1534.0,991.2 1535.0,993.3 1536.0,995.4 1537.0,997.4 1538.0,999.4 1539.0,1001.4 1540.0,1003.3 1541.0,1005.2 1542.0,1007.0 1543.0,1008.8 1544.0,1010.6 1545.0,1012.3 1546.0,1013.9 1547.0,1015.5 1548.0,1017.1 1549.0,1018.6 1550.0,1020.0 1551.0,1021.4 1552.0,1022.7 1553.0,1024.0 1554.0,1025.2 1555.0,1026.3 1556.0,1027.4 1557.0,1028.5 1558.0,1029.4 1559.0,1030.4 1560.0,1031.3 1561.0,1032.1 1562.0,1032.9 1563.0,1033.7 1564.0,1034.4 1565.0,1035.0 1566.0,1035.7 1567.0,1036.2 1568.0,1036.8 1569.0,1037.3 1570.0,1037.8 1571.0,1038.2 1572.0,1038.6 1573.0,1039.0 1574.0,1039.4 1575.0,1039.7 1576.0,1040.0 1577.0,1040.3 1578.0,1040.6 1579.0,1040.8 1580.0,1041.1 1581.0,1041.3 1582.0,1041.5 1583.0,1041.6 1584.0,1041.8 1585.0,1042.0 1586.0,1042.1 1587.0,1042.2 1588.0,1042.3 1589.0,1042.5 1590.0,1042.6 1591.0,1042.7 1592.0,1042.7 1593.0,1042.8 1594.0,1042.9 1595.0,1043.0 1596.0,1043.0 1597.0,1043.1 1598.0,1043.1 1599.0,1043.2 1600.0,1043.2 1601.0,1043.3 1602.0,1043.3 1603.0,1043.4 1604.0,1043.4 1605.0,1043.4 1606.0,1043.5 1607.0,1043.5 1608.0,1043.5 1609.0,1043.6 1610.0,1043.6 1611.0,1043.6 1612.0,1043.6 1613.0,1043.7 1614.0,1043.7 1615.0,1043.7 1616.0,1043.7 1617.0,1043.7 1618.0,1043.8 1619.0,1043.8 1620.0,1043.8 1621.0,1043.8 1622.0,1043.8 1623.0,1043.8 1624.0,1043.9 1625.0,1043.9 1626.0,1043.9 1627.0,1043.9 1628.0,1043.9 1629.0,1043.9 1630.0,1043.9 1631.0,1044.0 1632.0,1044.0 1633.0,1044.0 1634.0,1044.0 1635.0,1044.0 1636.0,1044.0 1637.0,1044.0 1638.0,1044.0 1639.0,1044.1 1640.0,1044.1 1641.0,1044.1 1642.0,1044.1 1643.0,1044.1 1644.0,1044.1 1645.0,1044.1 1646.0,1044.1 1647.0,1044.1 1648.0,1044.1 1649.0,1044.1 1650.0,1044.2 1651.0,1044.2 1652.0,1044.2 1653.0,1044.2 1654.0,1044.2 1655.0,1044.2 1656.0,1044.2 1657.0,1044.2 1658.0,1044.2 1659.0,1044.2 1660.0,1044.2 1661.0,1044.2 1662.0,1044.2 1663.0,1044.3 1664.0,1044.3 1665.0,1044.3 1666.0,1044.3 1667.0,1044.3 1668.0,1044.3 1669.0,1044.3 1670.0,1044.3 1671.0,1044.3 1672.0,1044.3 1673.0,1044.3 1674.0,1044.3 1675.0,1044.3 1676.0,1044.3 1677.0,1044.3 1678.0,1044.3 1679.0,1044.3 1680.0,1044.4 1681.0,1044.4 1682.0,1044.4 1683.0,1044.4 1684.0,1044.4 1685.0,1044.4 1686.0,1044.4 1687.0,1044.4 1688.0,1044.4 1689.0,1044.4 1690.0,1044.4 1691.0,1044.4 1692.0,1044.4 1693.0,1044.4 1694.0,1044.4 1695.0,1044.4 1696.0,1044.4 1697.0,1044.4 1698.0,1044.4 1699.0,1044.4 1700.0,1044.4 1701.0,1044.4 1702.0,1044.4 1703.0,1044.4 1704.0,1044.5 1705.0,1044.5 1706.0,1044.5 1707.0,1044.5 1708.0,1044.5 1709.0,1044.5 1710.0,1044.5 1711.0,1044.5 1712.0,1044.5 1713.0,1044.5 1714.0,1044.5 1715.0,1044.5 1716.0,1044.5 1717.0,1044.5 1718.0,1044.5 1719.0,1044.5 1720.0,1044.5 1721.0,1044.5 1722.0,1044.5 1723.0,1044.5 1724.0,1044.5 1725.0,1044.5 1726.0,1044.5 1727.0,1044.5 1728.0,1044.5 1729.0,1044.5 1730.0,1044.5 1731.0,1044.5 1732.0,1044.5 1733.0,1044.5 1734.0,1044.5 1735.0,1044.5 1736.0,1044.5 1737.0,1044.5 1738.0,1044.5 1739.0,1044.5 1740.0,1044.5 1741.0,1044.5 1742.0,1044.6 1743.0,1044.6 1744.0,1044.6 1745.0,1044.6 1746.0,1044.6 1747.0,1044.6 1748.0,1044.6 1749.0,1044.6 1750.0,1044.6 1751.0,1044.6 1752.0,1044.6 1753.0,1044.6 1754.0,1044.6 1755.0,1044.6 1756.0,1044.6 1757.0,1044.6 1758.0,1044.6 1759.0,1044.6 1760.0,1044.6 1761.0,1044.6 1762.0,1044.6 1763.0,1044.6 1764.0,1044.6 1765.0,1044.6 1766.0,1044.6 1767.0,1044.6 1768.0,1044.6 1769.0,1044.6 1770.0,1044.6 1771.0,1044.6 1772.0,1044.6 1773.0,1044.6 1774.0,1044.6 1775.0,1044.6 1776.0,1044.6 1777.0,1044.6 1778.0,1044.6 1779.0,1044.6 1780.0,1044.6 1781.0,1044.6 1782.0,1044.6 1783.0,1044.6 1784.0,1044.6 1785.0,1044.6 1786.0,1044.6 1787.0,1044.6 1788.0,1044.6 1789.0,1044.6 1790.0,1044.6 1791.0,1044.6 1792.0,1044.6 1793.0,1044.6 1794.0,1044.6 1795.0,1044.6 1796.0,1044.6 1797.0,1044.6 1798.0,1044.6 1799.0,1044.6 1800.0,1044.6 1801.0,1044.6 1802.0,1044.6 1803.0,1044.6 1804.0,1044.6 1805.0,1044.6 1806.0,1044.6 1807.0,1044.6 1808.0,1044.6 1809.0,1044.6 1810.0,1044.6 1811.0,1044.7 1812.0,1044.7 1813.0,1044.7 1814.0,1044.7 1815.0,1044.7 1816.0,1044.7 1817.0,1044.7 1818.0,1044.7 1819.0,1044.7 1820.0,1044.7 1821.0,1044.7 1822.0,1044.7 1823.0,1044.7 1824.0,1044.7 1825.0,1044.7 1826.0,1044.7 1827.0,1044.7 1828.0,1044.7 1829.0,1044.7 1830.0,1044.7 1831.0,1044.7 1832.0,1044.7 1833.0,1044.7 1834.0,1044.7 1835.0,1044.7 1836.0,1044.7 1837.0,1044.7 1838.0,1044.7 1839.0,1044.7 1840.0,1044.7 1841.0,1044.7 1842.0,1044.7 1843.0,1044.7 1844.0,1044.7 1845.0,1044.7 1846.0,1044.7 1847.0,1044.7 1848.0,1044.7 1849.0,1044.7 1850.0,1044.7" fill="none" stroke="#46447f" stroke-width="3.0" stroke-linejoin="round" stroke-dasharray="9 8" stroke-dashoffset="0" opacity="1"/>
<polyline points="1221.0,1049.2 1222.0,1049.2 1223.0,1049.2 1224.0,1049.2 1225.0,1049.2 1226.0,1049.2 1227.0,1049.2 1228.0,1049.2 1229.0,1049.2 1230.0,1049.2 1231.0,1049.2 1232.0,1049.2 1233.0,1049.1 1234.0,1049.1 1235.0,1049.1 1236.0,1049.1 1237.0,1049.1 1238.0,1049.1 1239.0,1049.1 1240.0,1049.1 1241.0,1049.1 1242.0,1049.1 1243.0,1049.1 1244.0,1049.1 1245.0,1049.1 1246.0,1049.1 1247.0,1049.1 1248.0,1049.0 1249.0,1049.0 1250.0,1049.0 1251.0,1049.0 1252.0,1049.0 1253.0,1049.0 1254.0,1049.0 1255.0,1049.0 1256.0,1049.0 1257.0,1049.0 1258.0,1049.0 1259.0,1049.0 1260.0,1049.0 1261.0,1048.9 1262.0,1048.9 1263.0,1048.9 1264.0,1048.9 1265.0,1048.9 1266.0,1048.9 1267.0,1048.9 1268.0,1048.9 1269.0,1048.9 1270.0,1048.9 1271.0,1048.8 1272.0,1048.8 1273.0,1048.8 1274.0,1048.8 1275.0,1048.8 1276.0,1048.8 1277.0,1048.8 1278.0,1048.8 1279.0,1048.8 1280.0,1048.7 1281.0,1048.7 1282.0,1048.7 1283.0,1048.7 1284.0,1048.7 1285.0,1048.7 1286.0,1048.7 1287.0,1048.6 1288.0,1048.6 1289.0,1048.6 1290.0,1048.6 1291.0,1048.6 1292.0,1048.6 1293.0,1048.6 1294.0,1048.5 1295.0,1048.5 1296.0,1048.5 1297.0,1048.5 1298.0,1048.5 1299.0,1048.5 1300.0,1048.4 1301.0,1048.4 1302.0,1048.4 1303.0,1048.4 1304.0,1048.4 1305.0,1048.3 1306.0,1048.3 1307.0,1048.3 1308.0,1048.3 1309.0,1048.3 1310.0,1048.2 1311.0,1048.2 1312.0,1048.2 1313.0,1048.2 1314.0,1048.1 1315.0,1048.1 1316.0,1048.1 1317.0,1048.1 1318.0,1048.0 1319.0,1048.0 1320.0,1048.0 1321.0,1048.0 1322.0,1047.9 1323.0,1047.9 1324.0,1047.9 1325.0,1047.8 1326.0,1047.8 1327.0,1047.8 1328.0,1047.7 1329.0,1047.7 1330.0,1047.6 1331.0,1047.6 1332.0,1047.6 1333.0,1047.5 1334.0,1047.5 1335.0,1047.4 1336.0,1047.4 1337.0,1047.3 1338.0,1047.3 1339.0,1047.2 1340.0,1047.1 1341.0,1047.1 1342.0,1047.0 1343.0,1046.9 1344.0,1046.8 1345.0,1046.8 1346.0,1046.7 1347.0,1046.6 1348.0,1046.5 1349.0,1046.3 1350.0,1046.2 1351.0,1046.1 1352.0,1045.9 1353.0,1045.8 1354.0,1045.6 1355.0,1045.4 1356.0,1045.2 1357.0,1045.0 1358.0,1044.8 1359.0,1044.6 1360.0,1044.3 1361.0,1044.0 1362.0,1043.7 1363.0,1043.3 1364.0,1043.0 1365.0,1042.6 1366.0,1042.1 1367.0,1041.7 1368.0,1041.2 1369.0,1040.6 1370.0,1040.0 1371.0,1039.4 1372.0,1038.7 1373.0,1038.0 1374.0,1037.2 1375.0,1036.3 1376.0,1035.4 1377.0,1034.4 1378.0,1033.4 1379.0,1032.2 1380.0,1031.0 1381.0,1029.8 1382.0,1028.4 1383.0,1026.9 1384.0,1025.4 1385.0,1023.8 1386.0,1022.0 1387.0,1020.2 1388.0,1018.2 1389.0,1016.2 1390.0,1014.0 1391.0,1011.7 1392.0,1009.4 1393.0,1006.8 1394.0,1004.2 1395.0,1001.5 1396.0,998.6 1397.0,995.6 1398.0,992.5 1399.0,989.3 1400.0,985.9 1401.0,982.4 1402.0,978.8 1403.0,975.1 1404.0,971.3 1405.0,967.4 1406.0,963.3 1407.0,959.2 1408.0,955.0 1409.0,950.6 1410.0,946.3 1411.0,941.8 1412.0,937.2 1413.0,932.7 1414.0,928.0 1415.0,923.3 1416.0,918.7 1417.0,913.9 1418.0,909.2 1419.0,904.5 1420.0,899.8 1421.0,895.2 1422.0,890.6 1423.0,886.1 1424.0,881.6 1425.0,877.3 1426.0,873.0 1427.0,868.9 1428.0,864.9 1429.0,861.1 1430.0,857.5 1431.0,854.0 1432.0,850.7 1433.0,847.7 1434.0,844.8 1435.0,842.2 1436.0,839.9 1437.0,837.8 1438.0,836.0 1439.0,834.5 1440.0,833.3 1441.0,832.4 1442.0,831.7 1443.0,831.4 1444.0,831.4 1445.0,831.7 1446.0,832.3 1447.0,833.1 1448.0,834.3 1449.0,835.8 1450.0,837.6 1451.0,839.6 1452.0,841.9 1453.0,844.4 1454.0,847.2 1455.0,850.2 1456.0,853.5 1457.0,856.9 1458.0,860.5 1459.0,864.3 1460.0,868.2 1461.0,872.3 1462.0,876.5 1463.0,880.8 1464.0,885.2 1465.0,889.7 1466.0,894.2 1467.0,898.8 1468.0,903.4 1469.0,908.1 1470.0,912.7 1471.0,917.4 1472.0,922.0 1473.0,926.6 1474.0,931.2 1475.0,935.7 1476.0,940.2 1477.0,944.6 1478.0,949.0 1479.0,953.2 1480.0,957.4 1481.0,961.5 1482.0,965.4 1483.0,969.3 1484.0,973.1 1485.0,976.7 1486.0,980.2 1487.0,983.6 1488.0,986.9 1489.0,990.1 1490.0,993.2 1491.0,996.1 1492.0,998.9 1493.0,1001.6 1494.0,1004.1 1495.0,1006.6 1496.0,1008.9 1497.0,1011.1 1498.0,1013.2 1499.0,1015.2 1500.0,1017.1 1501.0,1018.9 1502.0,1020.5 1503.0,1022.1 1504.0,1023.6 1505.0,1025.0 1506.0,1026.3 1507.0,1027.5 1508.0,1028.7 1509.0,1029.8 1510.0,1030.8 1511.0,1031.7 1512.0,1032.6 1513.0,1033.4 1514.0,1034.1 1515.0,1034.8 1516.0,1035.5 1517.0,1036.1 1518.0,1036.6 1519.0,1037.1 1520.0,1037.6 1521.0,1038.0 1522.0,1038.4 1523.0,1038.8 1524.0,1039.1 1525.0,1039.4 1526.0,1039.7 1527.0,1040.0 1528.0,1040.2 1529.0,1040.4 1530.0,1040.6 1531.0,1040.8 1532.0,1041.0 1533.0,1041.1 1534.0,1041.3 1535.0,1041.4 1536.0,1041.5 1537.0,1041.7 1538.0,1041.8 1539.0,1041.9 1540.0,1041.9 1541.0,1042.0 1542.0,1042.1 1543.0,1042.2 1544.0,1042.2 1545.0,1042.3 1546.0,1042.4 1547.0,1042.4 1548.0,1042.5 1549.0,1042.5 1550.0,1042.6 1551.0,1042.6 1552.0,1042.6 1553.0,1042.7 1554.0,1042.7 1555.0,1042.7 1556.0,1042.8 1557.0,1042.8 1558.0,1042.8 1559.0,1042.9 1560.0,1042.9 1561.0,1042.9 1562.0,1043.0 1563.0,1043.0 1564.0,1043.0 1565.0,1043.0 1566.0,1043.1 1567.0,1043.1 1568.0,1043.1 1569.0,1043.1 1570.0,1043.2 1571.0,1043.2 1572.0,1043.2 1573.0,1043.2 1574.0,1043.2 1575.0,1043.3 1576.0,1043.3 1577.0,1043.3 1578.0,1043.3 1579.0,1043.3 1580.0,1043.4 1581.0,1043.4 1582.0,1043.4 1583.0,1043.4 1584.0,1043.4 1585.0,1043.4 1586.0,1043.5 1587.0,1043.5 1588.0,1043.5 1589.0,1043.5 1590.0,1043.5 1591.0,1043.5 1592.0,1043.6 1593.0,1043.6 1594.0,1043.6 1595.0,1043.6 1596.0,1043.6 1597.0,1043.6 1598.0,1043.6 1599.0,1043.7 1600.0,1043.7 1601.0,1043.7 1602.0,1043.7 1603.0,1043.7 1604.0,1043.7 1605.0,1043.7 1606.0,1043.7 1607.0,1043.8 1608.0,1043.8 1609.0,1043.8 1610.0,1043.8 1611.0,1043.8 1612.0,1043.8 1613.0,1043.8 1614.0,1043.8 1615.0,1043.8 1616.0,1043.9 1617.0,1043.9 1618.0,1043.9 1619.0,1043.9 1620.0,1043.9 1621.0,1043.9 1622.0,1043.9 1623.0,1043.9 1624.0,1043.9 1625.0,1043.9 1626.0,1043.9 1627.0,1044.0 1628.0,1044.0 1629.0,1044.0 1630.0,1044.0 1631.0,1044.0 1632.0,1044.0 1633.0,1044.0 1634.0,1044.0 1635.0,1044.0 1636.0,1044.0 1637.0,1044.0 1638.0,1044.0 1639.0,1044.1 1640.0,1044.1 1641.0,1044.1 1642.0,1044.1 1643.0,1044.1 1644.0,1044.1 1645.0,1044.1 1646.0,1044.1 1647.0,1044.1 1648.0,1044.1 1649.0,1044.1 1650.0,1044.1 1651.0,1044.1 1652.0,1044.1 1653.0,1044.1 1654.0,1044.2 1655.0,1044.2 1656.0,1044.2 1657.0,1044.2 1658.0,1044.2 1659.0,1044.2 1660.0,1044.2 1661.0,1044.2 1662.0,1044.2 1663.0,1044.2 1664.0,1044.2 1665.0,1044.2 1666.0,1044.2 1667.0,1044.2 1668.0,1044.2 1669.0,1044.2 1670.0,1044.2 1671.0,1044.2 1672.0,1044.2 1673.0,1044.3 1674.0,1044.3 1675.0,1044.3 1676.0,1044.3 1677.0,1044.3 1678.0,1044.3 1679.0,1044.3 1680.0,1044.3 1681.0,1044.3 1682.0,1044.3 1683.0,1044.3 1684.0,1044.3 1685.0,1044.3 1686.0,1044.3 1687.0,1044.3 1688.0,1044.3 1689.0,1044.3 1690.0,1044.3 1691.0,1044.3 1692.0,1044.3 1693.0,1044.3 1694.0,1044.3 1695.0,1044.3 1696.0,1044.3 1697.0,1044.3 1698.0,1044.4 1699.0,1044.4 1700.0,1044.4 1701.0,1044.4 1702.0,1044.4 1703.0,1044.4 1704.0,1044.4 1705.0,1044.4 1706.0,1044.4 1707.0,1044.4 1708.0,1044.4 1709.0,1044.4 1710.0,1044.4 1711.0,1044.4 1712.0,1044.4 1713.0,1044.4 1714.0,1044.4 1715.0,1044.4 1716.0,1044.4 1717.0,1044.4 1718.0,1044.4 1719.0,1044.4 1720.0,1044.4 1721.0,1044.4 1722.0,1044.4 1723.0,1044.4 1724.0,1044.4 1725.0,1044.4 1726.0,1044.4 1727.0,1044.4 1728.0,1044.4 1729.0,1044.4 1730.0,1044.4 1731.0,1044.4 1732.0,1044.5 1733.0,1044.5 1734.0,1044.5 1735.0,1044.5 1736.0,1044.5 1737.0,1044.5 1738.0,1044.5 1739.0,1044.5 1740.0,1044.5 1741.0,1044.5 1742.0,1044.5 1743.0,1044.5 1744.0,1044.5 1745.0,1044.5 1746.0,1044.5 1747.0,1044.5 1748.0,1044.5 1749.0,1044.5 1750.0,1044.5 1751.0,1044.5 1752.0,1044.5 1753.0,1044.5 1754.0,1044.5 1755.0,1044.5 1756.0,1044.5 1757.0,1044.5 1758.0,1044.5 1759.0,1044.5 1760.0,1044.5 1761.0,1044.5 1762.0,1044.5 1763.0,1044.5 1764.0,1044.5 1765.0,1044.5 1766.0,1044.5 1767.0,1044.5 1768.0,1044.5 1769.0,1044.5 1770.0,1044.5 1771.0,1044.5 1772.0,1044.5 1773.0,1044.5 1774.0,1044.5 1775.0,1044.5 1776.0,1044.5 1777.0,1044.5 1778.0,1044.5 1779.0,1044.5 1780.0,1044.5 1781.0,1044.5 1782.0,1044.5 1783.0,1044.5 1784.0,1044.5 1785.0,1044.5 1786.0,1044.6 1787.0,1044.6 1788.0,1044.6 1789.0,1044.6 1790.0,1044.6 1791.0,1044.6 1792.0,1044.6 1793.0,1044.6 1794.0,1044.6 1795.0,1044.6 1796.0,1044.6 1797.0,1044.6 1798.0,1044.6 1799.0,1044.6 1800.0,1044.6 1801.0,1044.6 1802.0,1044.6 1803.0,1044.6 1804.0,1044.6 1805.0,1044.6 1806.0,1044.6 1807.0,1044.6 1808.0,1044.6 1809.0,1044.6 1810.0,1044.6 1811.0,1044.6 1812.0,1044.6 1813.0,1044.6 1814.0,1044.6 1815.0,1044.6 1816.0,1044.6 1817.0,1044.6 1818.0,1044.6 1819.0,1044.6 1820.0,1044.6 1821.0,1044.6 1822.0,1044.6 1823.0,1044.6 1824.0,1044.6 1825.0,1044.6 1826.0,1044.6 1827.0,1044.6 1828.0,1044.6 1829.0,1044.6 1830.0,1044.6 1831.0,1044.6 1832.0,1044.6 1833.0,1044.6 1834.0,1044.6 1835.0,1044.6 1836.0,1044.6 1837.0,1044.6 1838.0,1044.6 1839.0,1044.6 1840.0,1044.6 1841.0,1044.6 1842.0,1044.6 1843.0,1044.6 1844.0,1044.6 1845.0,1044.6 1846.0,1044.6 1847.0,1044.6 1848.0,1044.6 1849.0,1044.6 1850.0,1044.6" fill="none" stroke="#2aa866" stroke-width="3.0" stroke-linejoin="round" stroke-dasharray="9 8" stroke-dashoffset="5" opacity="1"/>
<polyline points="1221.0,1050.5 1222.0,1050.5 1223.0,1050.5 1224.0,1050.5 1225.0,1050.5 1226.0,1050.5 1227.0,1050.5 1228.0,1050.5 1229.0,1050.5 1230.0,1050.5 1231.0,1050.5 1232.0,1050.5 1233.0,1050.5 1234.0,1050.5 1235.0,1050.4 1236.0,1050.4 1237.0,1050.4 1238.0,1050.4 1239.0,1050.4 1240.0,1050.4 1241.0,1050.4 1242.0,1050.4 1243.0,1050.4 1244.0,1050.4 1245.0,1050.4 1246.0,1050.4 1247.0,1050.3 1248.0,1050.3 1249.0,1050.3 1250.0,1050.3 1251.0,1050.3 1252.0,1050.3 1253.0,1050.3 1254.0,1050.3 1255.0,1050.3 1256.0,1050.3 1257.0,1050.3 1258.0,1050.2 1259.0,1050.2 1260.0,1050.2 1261.0,1050.2 1262.0,1050.2 1263.0,1050.2 1264.0,1050.2 1265.0,1050.2 1266.0,1050.2 1267.0,1050.1 1268.0,1050.1 1269.0,1050.1 1270.0,1050.1 1271.0,1050.1 1272.0,1050.1 1273.0,1050.1 1274.0,1050.1 1275.0,1050.0 1276.0,1050.0 1277.0,1050.0 1278.0,1050.0 1279.0,1050.0 1280.0,1050.0 1281.0,1050.0 1282.0,1049.9 1283.0,1049.9 1284.0,1049.9 1285.0,1049.9 1286.0,1049.9 1287.0,1049.9 1288.0,1049.8 1289.0,1049.8 1290.0,1049.8 1291.0,1049.8 1292.0,1049.8 1293.0,1049.7 1294.0,1049.7 1295.0,1049.7 1296.0,1049.7 1297.0,1049.7 1298.0,1049.7 1299.0,1049.6 1300.0,1049.6 1301.0,1049.6 1302.0,1049.6 1303.0,1049.5 1304.0,1049.5 1305.0,1049.5 1306.0,1049.5 1307.0,1049.5 1308.0,1049.4 1309.0,1049.4 1310.0,1049.4 1311.0,1049.3 1312.0,1049.3 1313.0,1049.3 1314.0,1049.3 1315.0,1049.2 1316.0,1049.2 1317.0,1049.2 1318.0,1049.1 1319.0,1049.1 1320.0,1049.1 1321.0,1049.0 1322.0,1049.0 1323.0,1049.0 1324.0,1048.9 1325.0,1048.9 1326.0,1048.9 1327.0,1048.8 1328.0,1048.8 1329.0,1048.7 1330.0,1048.7 1331.0,1048.7 1332.0,1048.6 1333.0,1048.6 1334.0,1048.5 1335.0,1048.5 1336.0,1048.4 1337.0,1048.3 1338.0,1048.3 1339.0,1048.2 1340.0,1048.1 1341.0,1048.1 1342.0,1048.0 1343.0,1047.9 1344.0,1047.8 1345.0,1047.7 1346.0,1047.6 1347.0,1047.5 1348.0,1047.4 1349.0,1047.3 1350.0,1047.2 1351.0,1047.0 1352.0,1046.9 1353.0,1046.7 1354.0,1046.5 1355.0,1046.3 1356.0,1046.1 1357.0,1045.9 1358.0,1045.7 1359.0,1045.4 1360.0,1045.1 1361.0,1044.8 1362.0,1044.5 1363.0,1044.2 1364.0,1043.8 1365.0,1043.4 1366.0,1042.9 1367.0,1042.5 1368.0,1041.9 1369.0,1041.4 1370.0,1040.8 1371.0,1040.1 1372.0,1039.4 1373.0,1038.7 1374.0,1037.9 1375.0,1037.0 1376.0,1036.1 1377.0,1035.1 1378.0,1034.0 1379.0,1032.9 1380.0,1031.7 1381.0,1030.4 1382.0,1029.0 1383.0,1027.5 1384.0,1026.0 1385.0,1024.3 1386.0,1022.6 1387.0,1020.7 1388.0,1018.8 1389.0,1016.7 1390.0,1014.5 1391.0,1012.2 1392.0,1009.8 1393.0,1007.3 1394.0,1004.7 1395.0,1001.9 1396.0,999.0 1397.0,996.0 1398.0,992.8 1399.0,989.6 1400.0,986.2 1401.0,982.7 1402.0,979.1 1403.0,975.3 1404.0,971.5 1405.0,967.5 1406.0,963.5 1407.0,959.3 1408.0,955.0 1409.0,950.7 1410.0,946.2 1411.0,941.7 1412.0,937.1 1413.0,932.5 1414.0,927.8 1415.0,923.1 1416.0,918.3 1417.0,913.5 1418.0,908.7 1419.0,904.0 1420.0,899.2 1421.0,894.4 1422.0,889.8 1423.0,885.1 1424.0,880.5 1425.0,876.1 1426.0,871.7 1427.0,867.4 1428.0,863.3 1429.0,859.3 1430.0,855.4 1431.0,851.7 1432.0,848.2 1433.0,844.9 1434.0,841.8 1435.0,839.0 1436.0,836.3 1437.0,833.9 1438.0,831.8 1439.0,829.9 1440.0,828.2 1441.0,826.8 1442.0,825.7 1443.0,824.9 1444.0,824.3 1445.0,824.0 1446.0,824.0 1447.0,824.2 1448.0,824.7 1449.0,825.5 1450.0,826.4 1451.0,827.6 1452.0,829.0 1453.0,830.6 1454.0,832.4 1455.0,834.4 1456.0,836.5 1457.0,838.8 1458.0,841.2 1459.0,843.7 1460.0,846.3 1461.0,849.0 1462.0,851.8 1463.0,854.6 1464.0,857.5 1465.0,860.3 1466.0,863.2 1467.0,866.1 1468.0,869.0 1469.0,871.8 1470.0,874.6 1471.0,877.4 1472.0,880.1 1473.0,882.7 1474.0,885.3 1475.0,887.8 1476.0,890.2 1477.0,892.5 1478.0,894.7 1479.0,896.9 1480.0,898.9 1481.0,900.8 1482.0,902.7 1483.0,904.5 1484.0,906.1 1485.0,907.7 1486.0,909.2 1487.0,910.6 1488.0,911.9 1489.0,913.2 1490.0,914.4 1491.0,915.6 1492.0,916.7 1493.0,917.7 1494.0,918.8 1495.0,919.8 1496.0,920.8 1497.0,921.8 1498.0,922.8 1499.0,923.8 1500.0,924.8 1501.0,925.9 1502.0,927.0 1503.0,928.1 1504.0,929.3 1505.0,930.5 1506.0,931.8 1507.0,933.2 1508.0,934.6 1509.0,936.1 1510.0,937.7 1511.0,939.3 1512.0,941.0 1513.0,942.7 1514.0,944.6 1515.0,946.4 1516.0,948.4 1517.0,950.4 1518.0,952.5 1519.0,954.6 1520.0,956.7 1521.0,958.9 1522.0,961.1 1523.0,963.4 1524.0,965.7 1525.0,968.0 1526.0,970.3 1527.0,972.6 1528.0,974.9 1529.0,977.3 1530.0,979.6 1531.0,981.9 1532.0,984.2 1533.0,986.5 1534.0,988.7 1535.0,991.0 1536.0,993.2 1537.0,995.3 1538.0,997.4 1539.0,999.5 1540.0,1001.6 1541.0,1003.5 1542.0,1005.5 1543.0,1007.4 1544.0,1009.2 1545.0,1011.0 1546.0,1012.7 1547.0,1014.4 1548.0,1016.0 1549.0,1017.5 1550.0,1019.0 1551.0,1020.4 1552.0,1021.8 1553.0,1023.1 1554.0,1024.4 1555.0,1025.6 1556.0,1026.7 1557.0,1027.8 1558.0,1028.8 1559.0,1029.8 1560.0,1030.7 1561.0,1031.6 1562.0,1032.4 1563.0,1033.2 1564.0,1034.0 1565.0,1034.7 1566.0,1035.3 1567.0,1035.9 1568.0,1036.5 1569.0,1037.0 1570.0,1037.5 1571.0,1038.0 1572.0,1038.5 1573.0,1038.9 1574.0,1039.3 1575.0,1039.6 1576.0,1039.9 1577.0,1040.3 1578.0,1040.5 1579.0,1040.8 1580.0,1041.1 1581.0,1041.3 1582.0,1041.5 1583.0,1041.7 1584.0,1041.9 1585.0,1042.1 1586.0,1042.2 1587.0,1042.4 1588.0,1042.5 1589.0,1042.6 1590.0,1042.7 1591.0,1042.9 1592.0,1043.0 1593.0,1043.1 1594.0,1043.2 1595.0,1043.2 1596.0,1043.3 1597.0,1043.4 1598.0,1043.5 1599.0,1043.5 1600.0,1043.6 1601.0,1043.6 1602.0,1043.7 1603.0,1043.8 1604.0,1043.8 1605.0,1043.9 1606.0,1043.9 1607.0,1043.9 1608.0,1044.0 1609.0,1044.0 1610.0,1044.1 1611.0,1044.1 1612.0,1044.1 1613.0,1044.2 1614.0,1044.2 1615.0,1044.2 1616.0,1044.3 1617.0,1044.3 1618.0,1044.3 1619.0,1044.4 1620.0,1044.4 1621.0,1044.4 1622.0,1044.4 1623.0,1044.5 1624.0,1044.5 1625.0,1044.5 1626.0,1044.5 1627.0,1044.6 1628.0,1044.6 1629.0,1044.6 1630.0,1044.6 1631.0,1044.6 1632.0,1044.7 1633.0,1044.7 1634.0,1044.7 1635.0,1044.7 1636.0,1044.7 1637.0,1044.8 1638.0,1044.8 1639.0,1044.8 1640.0,1044.8 1641.0,1044.8 1642.0,1044.9 1643.0,1044.9 1644.0,1044.9 1645.0,1044.9 1646.0,1044.9 1647.0,1044.9 1648.0,1044.9 1649.0,1045.0 1650.0,1045.0 1651.0,1045.0 1652.0,1045.0 1653.0,1045.0 1654.0,1045.0 1655.0,1045.1 1656.0,1045.1 1657.0,1045.1 1658.0,1045.1 1659.0,1045.1 1660.0,1045.1 1661.0,1045.1 1662.0,1045.1 1663.0,1045.2 1664.0,1045.2 1665.0,1045.2 1666.0,1045.2 1667.0,1045.2 1668.0,1045.2 1669.0,1045.2 1670.0,1045.2 1671.0,1045.2 1672.0,1045.3 1673.0,1045.3 1674.0,1045.3 1675.0,1045.3 1676.0,1045.3 1677.0,1045.3 1678.0,1045.3 1679.0,1045.3 1680.0,1045.3 1681.0,1045.3 1682.0,1045.4 1683.0,1045.4 1684.0,1045.4 1685.0,1045.4 1686.0,1045.4 1687.0,1045.4 1688.0,1045.4 1689.0,1045.4 1690.0,1045.4 1691.0,1045.4 1692.0,1045.4 1693.0,1045.4 1694.0,1045.5 1695.0,1045.5 1696.0,1045.5 1697.0,1045.5 1698.0,1045.5 1699.0,1045.5 1700.0,1045.5 1701.0,1045.5 1702.0,1045.5 1703.0,1045.5 1704.0,1045.5 1705.0,1045.5 1706.0,1045.5 1707.0,1045.5 1708.0,1045.5 1709.0,1045.6 1710.0,1045.6 1711.0,1045.6 1712.0,1045.6 1713.0,1045.6 1714.0,1045.6 1715.0,1045.6 1716.0,1045.6 1717.0,1045.6 1718.0,1045.6 1719.0,1045.6 1720.0,1045.6 1721.0,1045.6 1722.0,1045.6 1723.0,1045.6 1724.0,1045.6 1725.0,1045.6 1726.0,1045.7 1727.0,1045.7 1728.0,1045.7 1729.0,1045.7 1730.0,1045.7 1731.0,1045.7 1732.0,1045.7 1733.0,1045.7 1734.0,1045.7 1735.0,1045.7 1736.0,1045.7 1737.0,1045.7 1738.0,1045.7 1739.0,1045.7 1740.0,1045.7 1741.0,1045.7 1742.0,1045.7 1743.0,1045.7 1744.0,1045.7 1745.0,1045.7 1746.0,1045.7 1747.0,1045.7 1748.0,1045.7 1749.0,1045.8 1750.0,1045.8 1751.0,1045.8 1752.0,1045.8 1753.0,1045.8 1754.0,1045.8 1755.0,1045.8 1756.0,1045.8 1757.0,1045.8 1758.0,1045.8 1759.0,1045.8 1760.0,1045.8 1761.0,1045.8 1762.0,1045.8 1763.0,1045.8 1764.0,1045.8 1765.0,1045.8 1766.0,1045.8 1767.0,1045.8 1768.0,1045.8 1769.0,1045.8 1770.0,1045.8 1771.0,1045.8 1772.0,1045.8 1773.0,1045.8 1774.0,1045.8 1775.0,1045.8 1776.0,1045.8 1777.0,1045.8 1778.0,1045.9 1779.0,1045.9 1780.0,1045.9 1781.0,1045.9 1782.0,1045.9 1783.0,1045.9 1784.0,1045.9 1785.0,1045.9 1786.0,1045.9 1787.0,1045.9 1788.0,1045.9 1789.0,1045.9 1790.0,1045.9 1791.0,1045.9 1792.0,1045.9 1793.0,1045.9 1794.0,1045.9 1795.0,1045.9 1796.0,1045.9 1797.0,1045.9 1798.0,1045.9 1799.0,1045.9 1800.0,1045.9 1801.0,1045.9 1802.0,1045.9 1803.0,1045.9 1804.0,1045.9 1805.0,1045.9 1806.0,1045.9 1807.0,1045.9 1808.0,1045.9 1809.0,1045.9 1810.0,1045.9 1811.0,1045.9 1812.0,1045.9 1813.0,1045.9 1814.0,1045.9 1815.0,1045.9 1816.0,1045.9 1817.0,1045.9 1818.0,1045.9 1819.0,1045.9 1820.0,1046.0 1821.0,1046.0 1822.0,1046.0 1823.0,1046.0 1824.0,1046.0 1825.0,1046.0 1826.0,1046.0 1827.0,1046.0 1828.0,1046.0 1829.0,1046.0 1830.0,1046.0 1831.0,1046.0 1832.0,1046.0 1833.0,1046.0 1834.0,1046.0 1835.0,1046.0 1836.0,1046.0 1837.0,1046.0 1838.0,1046.0 1839.0,1046.0 1840.0,1046.0 1841.0,1046.0 1842.0,1046.0 1843.0,1046.0 1844.0,1046.0 1845.0,1046.0 1846.0,1046.0 1847.0,1046.0 1848.0,1046.0 1849.0,1046.0 1850.0,1046.0" fill="none" stroke="#2d5f9e" stroke-width="3.8" stroke-linejoin="round" stroke-dasharray="9 8" stroke-dashoffset="10" opacity="1"/>
<polyline points="1217.0,1329.5 1219.0,1329.8 1221.0,1329.2 1223.0,1329.9 1225.0,1330.0 1227.0,1329.6 1229.0,1329.8 1231.0,1329.8 1233.0,1329.6 1235.0,1329.4 1237.0,1329.1 1239.0,1330.1 1241.0,1329.7 1243.0,1330.4 1245.0,1329.9 1247.0,1329.8 1249.0,1329.5 1251.0,1330.1 1253.0,1329.5 1255.0,1330.1 1257.0,1329.5 1259.0,1329.7 1261.0,1329.2 1263.0,1330.3 1265.0,1329.6 1267.0,1329.5 1269.0,1329.9 1271.0,1329.3 1273.0,1329.8 1275.0,1329.2 1277.0,1329.8 1279.0,1329.3 1281.0,1329.0 1283.0,1329.4 1285.0,1329.1 1287.0,1329.7 1289.0,1329.6 1291.0,1329.7 1293.0,1329.6 1295.0,1329.4 1297.0,1329.5 1299.0,1329.8 1301.0,1329.4 1303.0,1329.3 1305.0,1329.2 1307.0,1329.4 1309.0,1329.2 1311.0,1330.0 1313.0,1329.1 1315.0,1329.1 1317.0,1329.3 1319.0,1329.6 1321.0,1329.3 1323.0,1329.0 1325.0,1329.0 1327.0,1329.1 1329.0,1329.5 1331.0,1328.9 1333.0,1329.1 1335.0,1328.9 1337.0,1329.2 1339.0,1329.2 1341.0,1328.6 1343.0,1329.7 1345.0,1329.0 1347.0,1328.7 1349.0,1328.5 1351.0,1328.7 1353.0,1328.7 1355.0,1328.8 1357.0,1328.6 1359.0,1328.7 1361.0,1328.0 1363.0,1328.2 1365.0,1328.0 1367.0,1328.3 1369.0,1328.3 1371.0,1327.7 1373.0,1328.0 1375.0,1328.1 1377.0,1328.1 1379.0,1327.4 1381.0,1327.8 1383.0,1327.6 1385.0,1327.1 1387.0,1327.6 1389.0,1326.3 1391.0,1326.2 1393.0,1326.0 1395.0,1325.4 1397.0,1324.8 1399.0,1324.7 1401.0,1324.2 1403.0,1323.4 1405.0,1322.9 1407.0,1321.9 1409.0,1321.0 1411.0,1321.3 1413.0,1319.6 1415.0,1319.8 1417.0,1318.1 1419.0,1317.3 1421.0,1316.1 1423.0,1315.3 1425.0,1313.8 1427.0,1313.3 1429.0,1311.7 1431.0,1310.5 1433.0,1309.1 1435.0,1308.2 1437.0,1306.9 1439.0,1306.2 1441.0,1304.6 1443.0,1302.4 1445.0,1301.8 1447.0,1299.0 1449.0,1298.4 1451.0,1295.4 1453.0,1293.6 1455.0,1291.2 1457.0,1288.0 1459.0,1284.6 1461.0,1282.0 1463.0,1277.8 1465.0,1274.3 1467.0,1271.4 1469.0,1266.8 1471.0,1263.0 1473.0,1258.8 1475.0,1254.0 1477.0,1249.3 1479.0,1244.1 1481.0,1238.8 1483.0,1233.4 1485.0,1227.4 1487.0,1221.1 1489.0,1214.7 1491.0,1207.1 1493.0,1199.5 1495.0,1192.0 1497.0,1185.2 1499.0,1178.3 1501.0,1170.5 1503.0,1162.6 1505.0,1156.2 1507.0,1150.1 1509.0,1144.3 1511.0,1138.7 1513.0,1133.8 1515.0,1128.9 1517.0,1123.6 1519.0,1119.6 1521.0,1115.0 1523.0,1111.4 1525.0,1108.4 1527.0,1105.7 1529.0,1102.9 1531.0,1100.6 1533.0,1099.3 1535.0,1098.4 1537.0,1097.0 1539.0,1097.0 1541.0,1097.5 1543.0,1098.3 1545.0,1098.9 1547.0,1100.6 1549.0,1103.1 1551.0,1105.5 1553.0,1108.1 1555.0,1112.6 1557.0,1116.9 1559.0,1121.4 1561.0,1126.6 1563.0,1132.1 1565.0,1139.5 1567.0,1146.1 1569.0,1152.6 1571.0,1159.3 1573.0,1165.8 1575.0,1172.0 1577.0,1177.9 1579.0,1184.1 1581.0,1191.6 1583.0,1196.5 1585.0,1202.4 1587.0,1208.2 1589.0,1213.3 1591.0,1218.9 1593.0,1223.2 1595.0,1228.3 1597.0,1232.2 1599.0,1237.8 1601.0,1242.7 1603.0,1247.7 1605.0,1252.9 1607.0,1258.0 1609.0,1263.0 1611.0,1267.5 1613.0,1271.4 1615.0,1276.2 1617.0,1279.6 1619.0,1283.5 1621.0,1286.4 1623.0,1289.5 1625.0,1292.0 1627.0,1294.9 1629.0,1297.1 1631.0,1299.3 1633.0,1302.1 1635.0,1303.9 1637.0,1305.8 1639.0,1307.5 1641.0,1308.4 1643.0,1310.4 1645.0,1311.2 1647.0,1312.9 1649.0,1313.9 1651.0,1315.2 1653.0,1316.3 1655.0,1317.0 1657.0,1317.5 1659.0,1318.6 1661.0,1319.2 1663.0,1319.4 1665.0,1319.9 1667.0,1319.4 1669.0,1320.3 1671.0,1320.6 1673.0,1320.4 1675.0,1321.3 1677.0,1321.5 1679.0,1321.3 1681.0,1321.7 1683.0,1322.2 1685.0,1322.6 1687.0,1322.8 1689.0,1322.4 1691.0,1322.6 1693.0,1322.9 1695.0,1323.2 1697.0,1323.2 1699.0,1323.5 1701.0,1323.9 1703.0,1324.0 1705.0,1324.0 1707.0,1323.7 1709.0,1324.0 1711.0,1324.5 1713.0,1324.7 1715.0,1324.9 1717.0,1324.4 1719.0,1324.7 1721.0,1324.6 1723.0,1324.2 1725.0,1324.9 1727.0,1324.8 1729.0,1325.8 1731.0,1325.7 1733.0,1325.4 1735.0,1325.7 1737.0,1326.0 1739.0,1326.4 1741.0,1326.3 1743.0,1326.6 1745.0,1326.3 1747.0,1326.7 1749.0,1326.8 1751.0,1326.7 1753.0,1326.5 1755.0,1326.9 1757.0,1326.5 1759.0,1327.1 1761.0,1326.7 1763.0,1326.6 1765.0,1327.4 1767.0,1326.8 1769.0,1327.0 1771.0,1326.6 1773.0,1326.8 1775.0,1326.9 1777.0,1326.7 1779.0,1327.4 1781.0,1326.8 1783.0,1326.6 1785.0,1327.3 1787.0,1327.2 1789.0,1326.3 1791.0,1326.8 1793.0,1327.3 1795.0,1326.8 1797.0,1326.9 1799.0,1326.9 1801.0,1326.3 1803.0,1326.7 1805.0,1327.2 1807.0,1327.4 1809.0,1326.9 1811.0,1326.9 1813.0,1327.1 1815.0,1327.0 1817.0,1327.0 1819.0,1326.6 1821.0,1326.9 1823.0,1327.0 1825.0,1327.0 1827.0,1326.3 1829.0,1327.0 1831.0,1326.7 1833.0,1326.7 1835.0,1326.1 1837.0,1326.6 1839.0,1326.1 1841.0,1325.7 1843.0,1326.5 1845.0,1326.4 1847.0,1326.3 1849.0,1326.3" fill="none" stroke="#e8000c" stroke-width="3.3" stroke-linejoin="round" opacity="1"/>
<polyline points="1217.0,1329.8 1218.0,1329.8 1219.0,1329.8 1220.0,1329.8 1221.0,1329.8 1222.0,1329.8 1223.0,1329.8 1224.0,1329.8 1225.0,1329.8 1226.0,1329.8 1227.0,1329.8 1228.0,1329.8 1229.0,1329.8 1230.0,1329.8 1231.0,1329.8 1232.0,1329.8 1233.0,1329.8 1234.0,1329.8 1235.0,1329.8 1236.0,1329.8 1237.0,1329.8 1238.0,1329.8 1239.0,1329.8 1240.0,1329.8 1241.0,1329.8 1242.0,1329.8 1243.0,1329.8 1244.0,1329.8 1245.0,1329.8 1246.0,1329.8 1247.0,1329.8 1248.0,1329.8 1249.0,1329.8 1250.0,1329.8 1251.0,1329.8 1252.0,1329.8 1253.0,1329.8 1254.0,1329.8 1255.0,1329.8 1256.0,1329.8 1257.0,1329.8 1258.0,1329.8 1259.0,1329.8 1260.0,1329.8 1261.0,1329.8 1262.0,1329.8 1263.0,1329.8 1264.0,1329.8 1265.0,1329.8 1266.0,1329.8 1267.0,1329.8 1268.0,1329.8 1269.0,1329.8 1270.0,1329.8 1271.0,1329.8 1272.0,1329.8 1273.0,1329.8 1274.0,1329.8 1275.0,1329.8 1276.0,1329.8 1277.0,1329.8 1278.0,1329.8 1279.0,1329.8 1280.0,1329.8 1281.0,1329.8 1282.0,1329.8 1283.0,1329.8 1284.0,1329.8 1285.0,1329.8 1286.0,1329.8 1287.0,1329.8 1288.0,1329.8 1289.0,1329.8 1290.0,1329.8 1291.0,1329.8 1292.0,1329.8 1293.0,1329.8 1294.0,1329.8 1295.0,1329.8 1296.0,1329.8 1297.0,1329.8 1298.0,1329.8 1299.0,1329.8 1300.0,1329.8 1301.0,1329.8 1302.0,1329.8 1303.0,1329.8 1304.0,1329.8 1305.0,1329.8 1306.0,1329.8 1307.0,1329.8 1308.0,1329.8 1309.0,1329.8 1310.0,1329.8 1311.0,1329.8 1312.0,1329.8 1313.0,1329.8 1314.0,1329.8 1315.0,1329.8 1316.0,1329.8 1317.0,1329.8 1318.0,1329.8 1319.0,1329.8 1320.0,1329.8 1321.0,1329.8 1322.0,1329.8 1323.0,1329.8 1324.0,1329.8 1325.0,1329.8 1326.0,1329.8 1327.0,1329.8 1328.0,1329.8 1329.0,1329.8 1330.0,1329.8 1331.0,1329.8 1332.0,1329.8 1333.0,1329.8 1334.0,1329.8 1335.0,1329.8 1336.0,1329.8 1337.0,1329.8 1338.0,1329.8 1339.0,1329.8 1340.0,1329.8 1341.0,1329.8 1342.0,1329.8 1343.0,1329.8 1344.0,1329.8 1345.0,1329.8 1346.0,1329.8 1347.0,1329.8 1348.0,1329.8 1349.0,1329.8 1350.0,1329.8 1351.0,1329.8 1352.0,1329.8 1353.0,1329.8 1354.0,1329.8 1355.0,1329.8 1356.0,1329.8 1357.0,1329.8 1358.0,1329.8 1359.0,1329.8 1360.0,1329.8 1361.0,1329.8 1362.0,1329.8 1363.0,1329.8 1364.0,1329.8 1365.0,1329.8 1366.0,1329.8 1367.0,1329.8 1368.0,1329.8 1369.0,1329.8 1370.0,1329.8 1371.0,1329.8 1372.0,1329.8 1373.0,1329.8 1374.0,1329.8 1375.0,1329.8 1376.0,1329.8 1377.0,1329.8 1378.0,1329.8 1379.0,1329.8 1380.0,1329.8 1381.0,1329.8 1382.0,1329.8 1383.0,1329.8 1384.0,1329.8 1385.0,1329.8 1386.0,1329.8 1387.0,1329.8 1388.0,1329.8 1389.0,1329.8 1390.0,1329.8 1391.0,1329.8 1392.0,1329.8 1393.0,1329.8 1394.0,1329.8 1395.0,1329.8 1396.0,1329.8 1397.0,1329.8 1398.0,1329.8 1399.0,1329.8 1400.0,1329.8 1401.0,1329.8 1402.0,1329.8 1403.0,1329.8 1404.0,1329.8 1405.0,1329.8 1406.0,1329.8 1407.0,1329.8 1408.0,1329.8 1409.0,1329.8 1410.0,1329.8 1411.0,1329.8 1412.0,1329.8 1413.0,1329.8 1414.0,1329.8 1415.0,1329.8 1416.0,1329.8 1417.0,1329.8 1418.0,1329.8 1419.0,1329.8 1420.0,1329.8 1421.0,1329.8 1422.0,1329.8 1423.0,1329.8 1424.0,1329.8 1425.0,1329.8 1426.0,1329.8 1427.0,1329.8 1428.0,1329.8 1429.0,1329.8 1430.0,1329.8 1431.0,1329.8 1432.0,1329.8 1433.0,1329.8 1434.0,1329.8 1435.0,1329.8 1436.0,1329.8 1437.0,1329.8 1438.0,1329.8 1439.0,1329.8 1440.0,1329.8 1441.0,1329.8 1442.0,1329.8 1443.0,1329.8 1444.0,1329.8 1445.0,1329.8 1446.0,1329.8 1447.0,1329.8 1448.0,1329.8 1449.0,1329.8 1450.0,1329.8 1451.0,1329.8 1452.0,1329.8 1453.0,1329.7 1454.0,1329.7 1455.0,1329.7 1456.0,1329.7 1457.0,1329.7 1458.0,1329.7 1459.0,1329.7 1460.0,1329.7 1461.0,1329.7 1462.0,1329.7 1463.0,1329.7 1464.0,1329.7 1465.0,1329.7 1466.0,1329.7 1467.0,1329.7 1468.0,1329.7 1469.0,1329.7 1470.0,1329.7 1471.0,1329.7 1472.0,1329.7 1473.0,1329.7 1474.0,1329.7 1475.0,1329.7 1476.0,1329.6 1477.0,1329.6 1478.0,1329.6 1479.0,1329.6 1480.0,1329.6 1481.0,1329.6 1482.0,1329.6 1483.0,1329.6 1484.0,1329.6 1485.0,1329.6 1486.0,1329.5 1487.0,1329.5 1488.0,1329.5 1489.0,1329.5 1490.0,1329.5 1491.0,1329.5 1492.0,1329.5 1493.0,1329.5 1494.0,1329.4 1495.0,1329.4 1496.0,1329.4 1497.0,1329.4 1498.0,1329.4 1499.0,1329.3 1500.0,1329.3 1501.0,1329.3 1502.0,1329.3 1503.0,1329.3 1504.0,1329.2 1505.0,1329.2 1506.0,1329.2 1507.0,1329.2 1508.0,1329.1 1509.0,1329.1 1510.0,1329.1 1511.0,1329.0 1512.0,1329.0 1513.0,1329.0 1514.0,1328.9 1515.0,1328.9 1516.0,1328.9 1517.0,1328.8 1518.0,1328.8 1519.0,1328.8 1520.0,1328.7 1521.0,1328.7 1522.0,1328.6 1523.0,1328.6 1524.0,1328.6 1525.0,1328.5 1526.0,1328.5 1527.0,1328.4 1528.0,1328.4 1529.0,1328.3 1530.0,1328.3 1531.0,1328.2 1532.0,1328.2 1533.0,1328.1 1534.0,1328.1 1535.0,1328.0 1536.0,1328.0 1537.0,1327.9 1538.0,1327.9 1539.0,1327.8 1540.0,1327.8 1541.0,1327.8 1542.0,1327.7 1543.0,1327.7 1544.0,1327.6 1545.0,1327.6 1546.0,1327.5 1547.0,1327.5 1548.0,1327.4 1549.0,1327.4 1550.0,1327.3 1551.0,1327.3 1552.0,1327.2 1553.0,1327.2 1554.0,1327.1 1555.0,1327.1 1556.0,1327.0 1557.0,1327.0 1558.0,1327.0 1559.0,1326.9 1560.0,1326.9 1561.0,1326.8 1562.0,1326.8 1563.0,1326.8 1564.0,1326.7 1565.0,1326.7 1566.0,1326.7 1567.0,1326.6 1568.0,1326.6 1569.0,1326.6 1570.0,1326.5 1571.0,1326.5 1572.0,1326.5 1573.0,1326.4 1574.0,1326.4 1575.0,1326.4 1576.0,1326.4 1577.0,1326.3 1578.0,1326.3 1579.0,1326.3 1580.0,1326.3 1581.0,1326.3 1582.0,1326.2 1583.0,1326.2 1584.0,1326.2 1585.0,1326.2 1586.0,1326.2 1587.0,1326.1 1588.0,1326.1 1589.0,1326.1 1590.0,1326.1 1591.0,1326.1 1592.0,1326.1 1593.0,1326.1 1594.0,1326.1 1595.0,1326.0 1596.0,1326.0 1597.0,1326.0 1598.0,1326.0 1599.0,1326.0 1600.0,1326.0 1601.0,1326.0 1602.0,1326.0 1603.0,1326.0 1604.0,1326.0 1605.0,1325.9 1606.0,1325.9 1607.0,1325.9 1608.0,1325.9 1609.0,1325.9 1610.0,1325.9 1611.0,1325.9 1612.0,1325.9 1613.0,1325.9 1614.0,1325.9 1615.0,1325.9 1616.0,1325.9 1617.0,1325.9 1618.0,1325.9 1619.0,1325.9 1620.0,1325.9 1621.0,1325.9 1622.0,1325.9 1623.0,1325.9 1624.0,1325.9 1625.0,1325.9 1626.0,1325.9 1627.0,1325.9 1628.0,1325.8 1629.0,1325.8 1630.0,1325.8 1631.0,1325.8 1632.0,1325.8 1633.0,1325.8 1634.0,1325.8 1635.0,1325.8 1636.0,1325.8 1637.0,1325.8 1638.0,1325.8 1639.0,1325.8 1640.0,1325.8 1641.0,1325.8 1642.0,1325.8 1643.0,1325.8 1644.0,1325.8 1645.0,1325.8 1646.0,1325.8 1647.0,1325.8 1648.0,1325.8 1649.0,1325.8 1650.0,1325.8 1651.0,1325.8 1652.0,1325.8 1653.0,1325.8 1654.0,1325.8 1655.0,1325.8 1656.0,1325.8 1657.0,1325.8 1658.0,1325.8 1659.0,1325.8 1660.0,1325.8 1661.0,1325.8 1662.0,1325.8 1663.0,1325.8 1664.0,1325.8 1665.0,1325.8 1666.0,1325.8 1667.0,1325.8 1668.0,1325.8 1669.0,1325.8 1670.0,1325.8 1671.0,1325.8 1672.0,1325.8 1673.0,1325.8 1674.0,1325.8 1675.0,1325.8 1676.0,1325.8 1677.0,1325.8 1678.0,1325.8 1679.0,1325.8 1680.0,1325.8 1681.0,1325.8 1682.0,1325.8 1683.0,1325.8 1684.0,1325.8 1685.0,1325.8 1686.0,1325.8 1687.0,1325.8 1688.0,1325.8 1689.0,1325.8 1690.0,1325.8 1691.0,1325.8 1692.0,1325.8 1693.0,1325.8 1694.0,1325.8 1695.0,1325.8 1696.0,1325.8 1697.0,1325.8 1698.0,1325.8 1699.0,1325.8 1700.0,1325.8 1701.0,1325.8 1702.0,1325.8 1703.0,1325.8 1704.0,1325.8 1705.0,1325.8 1706.0,1325.8 1707.0,1325.8 1708.0,1325.8 1709.0,1325.8 1710.0,1325.8 1711.0,1325.8 1712.0,1325.8 1713.0,1325.8 1714.0,1325.8 1715.0,1325.8 1716.0,1325.8 1717.0,1325.8 1718.0,1325.8 1719.0,1325.8 1720.0,1325.8 1721.0,1325.8 1722.0,1325.8 1723.0,1325.8 1724.0,1325.8 1725.0,1325.8 1726.0,1325.8 1727.0,1325.8 1728.0,1325.8 1729.0,1325.8 1730.0,1325.8 1731.0,1325.8 1732.0,1325.8 1733.0,1325.8 1734.0,1325.8 1735.0,1325.8 1736.0,1325.8 1737.0,1325.8 1738.0,1325.8 1739.0,1325.8 1740.0,1325.8 1741.0,1325.8 1742.0,1325.8 1743.0,1325.8 1744.0,1325.8 1745.0,1325.8 1746.0,1325.8 1747.0,1325.8 1748.0,1325.8 1749.0,1325.8 1750.0,1325.8 1751.0,1325.8 1752.0,1325.8 1753.0,1325.8 1754.0,1325.8 1755.0,1325.8 1756.0,1325.8 1757.0,1325.8 1758.0,1325.8 1759.0,1325.8 1760.0,1325.8 1761.0,1325.8 1762.0,1325.8 1763.0,1325.8 1764.0,1325.8 1765.0,1325.8 1766.0,1325.8 1767.0,1325.8 1768.0,1325.8 1769.0,1325.8 1770.0,1325.8 1771.0,1325.8 1772.0,1325.8 1773.0,1325.8 1774.0,1325.8 1775.0,1325.8 1776.0,1325.8 1777.0,1325.8 1778.0,1325.8 1779.0,1325.8 1780.0,1325.8 1781.0,1325.8 1782.0,1325.8 1783.0,1325.8 1784.0,1325.8 1785.0,1325.8 1786.0,1325.8 1787.0,1325.8 1788.0,1325.8 1789.0,1325.8 1790.0,1325.8 1791.0,1325.8 1792.0,1325.8 1793.0,1325.8 1794.0,1325.8 1795.0,1325.8 1796.0,1325.8 1797.0,1325.8 1798.0,1325.8 1799.0,1325.8 1800.0,1325.8 1801.0,1325.8 1802.0,1325.8 1803.0,1325.8 1804.0,1325.8 1805.0,1325.8 1806.0,1325.8 1807.0,1325.8 1808.0,1325.8 1809.0,1325.8 1810.0,1325.8 1811.0,1325.8 1812.0,1325.8 1813.0,1325.8 1814.0,1325.8 1815.0,1325.8 1816.0,1325.8 1817.0,1325.8 1818.0,1325.8 1819.0,1325.8 1820.0,1325.8 1821.0,1325.8 1822.0,1325.8 1823.0,1325.8 1824.0,1325.8 1825.0,1325.8 1826.0,1325.8 1827.0,1325.8 1828.0,1325.8 1829.0,1325.8 1830.0,1325.8 1831.0,1325.8 1832.0,1325.8 1833.0,1325.8 1834.0,1325.8 1835.0,1325.8 1836.0,1325.8 1837.0,1325.8 1838.0,1325.8 1839.0,1325.8 1840.0,1325.8 1841.0,1325.8 1842.0,1325.8 1843.0,1325.8 1844.0,1325.8 1845.0,1325.8 1846.0,1325.8 1847.0,1325.8 1848.0,1325.8 1849.0,1325.8 1850.0,1325.8" fill="none" stroke="#e6b61c" stroke-width="3.4" stroke-linejoin="round" stroke-dasharray="9 8" stroke-dashoffset="0" opacity="1"/>
<polyline points="1217.0,1329.4 1218.0,1329.3 1219.0,1329.3 1220.0,1329.3 1221.0,1329.3 1222.0,1329.3 1223.0,1329.3 1224.0,1329.3 1225.0,1329.3 1226.0,1329.3 1227.0,1329.3 1228.0,1329.3 1229.0,1329.3 1230.0,1329.3 1231.0,1329.3 1232.0,1329.3 1233.0,1329.3 1234.0,1329.3 1235.0,1329.3 1236.0,1329.3 1237.0,1329.3 1238.0,1329.3 1239.0,1329.3 1240.0,1329.3 1241.0,1329.3 1242.0,1329.3 1243.0,1329.3 1244.0,1329.3 1245.0,1329.3 1246.0,1329.3 1247.0,1329.3 1248.0,1329.3 1249.0,1329.3 1250.0,1329.3 1251.0,1329.2 1252.0,1329.2 1253.0,1329.2 1254.0,1329.2 1255.0,1329.2 1256.0,1329.2 1257.0,1329.2 1258.0,1329.2 1259.0,1329.2 1260.0,1329.2 1261.0,1329.2 1262.0,1329.2 1263.0,1329.2 1264.0,1329.2 1265.0,1329.2 1266.0,1329.2 1267.0,1329.2 1268.0,1329.2 1269.0,1329.2 1270.0,1329.2 1271.0,1329.2 1272.0,1329.2 1273.0,1329.2 1274.0,1329.2 1275.0,1329.1 1276.0,1329.1 1277.0,1329.1 1278.0,1329.1 1279.0,1329.1 1280.0,1329.1 1281.0,1329.1 1282.0,1329.1 1283.0,1329.1 1284.0,1329.1 1285.0,1329.1 1286.0,1329.1 1287.0,1329.1 1288.0,1329.1 1289.0,1329.1 1290.0,1329.1 1291.0,1329.1 1292.0,1329.1 1293.0,1329.1 1294.0,1329.1 1295.0,1329.0 1296.0,1329.0 1297.0,1329.0 1298.0,1329.0 1299.0,1329.0 1300.0,1329.0 1301.0,1329.0 1302.0,1329.0 1303.0,1329.0 1304.0,1329.0 1305.0,1329.0 1306.0,1329.0 1307.0,1329.0 1308.0,1329.0 1309.0,1329.0 1310.0,1329.0 1311.0,1328.9 1312.0,1328.9 1313.0,1328.9 1314.0,1328.9 1315.0,1328.9 1316.0,1328.9 1317.0,1328.9 1318.0,1328.9 1319.0,1328.9 1320.0,1328.9 1321.0,1328.9 1322.0,1328.9 1323.0,1328.9 1324.0,1328.8 1325.0,1328.8 1326.0,1328.8 1327.0,1328.8 1328.0,1328.8 1329.0,1328.8 1330.0,1328.8 1331.0,1328.8 1332.0,1328.8 1333.0,1328.8 1334.0,1328.8 1335.0,1328.8 1336.0,1328.7 1337.0,1328.7 1338.0,1328.7 1339.0,1328.7 1340.0,1328.7 1341.0,1328.7 1342.0,1328.7 1343.0,1328.7 1344.0,1328.7 1345.0,1328.7 1346.0,1328.6 1347.0,1328.6 1348.0,1328.6 1349.0,1328.6 1350.0,1328.6 1351.0,1328.6 1352.0,1328.6 1353.0,1328.6 1354.0,1328.6 1355.0,1328.5 1356.0,1328.5 1357.0,1328.5 1358.0,1328.5 1359.0,1328.5 1360.0,1328.5 1361.0,1328.5 1362.0,1328.4 1363.0,1328.4 1364.0,1328.4 1365.0,1328.4 1366.0,1328.4 1367.0,1328.4 1368.0,1328.4 1369.0,1328.3 1370.0,1328.3 1371.0,1328.3 1372.0,1328.3 1373.0,1328.3 1374.0,1328.3 1375.0,1328.3 1376.0,1328.2 1377.0,1328.2 1378.0,1328.2 1379.0,1328.2 1380.0,1328.2 1381.0,1328.1 1382.0,1328.1 1383.0,1328.1 1384.0,1328.1 1385.0,1328.1 1386.0,1328.0 1387.0,1328.0 1388.0,1328.0 1389.0,1328.0 1390.0,1328.0 1391.0,1327.9 1392.0,1327.9 1393.0,1327.9 1394.0,1327.9 1395.0,1327.8 1396.0,1327.8 1397.0,1327.8 1398.0,1327.8 1399.0,1327.7 1400.0,1327.7 1401.0,1327.7 1402.0,1327.7 1403.0,1327.6 1404.0,1327.6 1405.0,1327.6 1406.0,1327.5 1407.0,1327.5 1408.0,1327.5 1409.0,1327.4 1410.0,1327.4 1411.0,1327.3 1412.0,1327.3 1413.0,1327.3 1414.0,1327.2 1415.0,1327.2 1416.0,1327.1 1417.0,1327.1 1418.0,1327.0 1419.0,1326.9 1420.0,1326.9 1421.0,1326.8 1422.0,1326.8 1423.0,1326.7 1424.0,1326.6 1425.0,1326.5 1426.0,1326.5 1427.0,1326.4 1428.0,1326.3 1429.0,1326.2 1430.0,1326.1 1431.0,1326.0 1432.0,1325.9 1433.0,1325.8 1434.0,1325.7 1435.0,1325.5 1436.0,1325.4 1437.0,1325.2 1438.0,1325.1 1439.0,1324.9 1440.0,1324.7 1441.0,1324.6 1442.0,1324.4 1443.0,1324.2 1444.0,1323.9 1445.0,1323.7 1446.0,1323.5 1447.0,1323.2 1448.0,1322.9 1449.0,1322.6 1450.0,1322.3 1451.0,1322.0 1452.0,1321.6 1453.0,1321.3 1454.0,1320.9 1455.0,1320.4 1456.0,1320.0 1457.0,1319.5 1458.0,1319.1 1459.0,1318.5 1460.0,1318.0 1461.0,1317.4 1462.0,1316.8 1463.0,1316.2 1464.0,1315.5 1465.0,1314.8 1466.0,1314.1 1467.0,1313.3 1468.0,1312.5 1469.0,1311.7 1470.0,1310.8 1471.0,1309.8 1472.0,1308.8 1473.0,1307.8 1474.0,1306.7 1475.0,1305.6 1476.0,1304.5 1477.0,1303.3 1478.0,1302.0 1479.0,1300.7 1480.0,1299.3 1481.0,1297.9 1482.0,1296.4 1483.0,1294.9 1484.0,1293.3 1485.0,1291.6 1486.0,1289.9 1487.0,1288.1 1488.0,1286.3 1489.0,1284.4 1490.0,1282.5 1491.0,1280.5 1492.0,1278.4 1493.0,1276.3 1494.0,1274.1 1495.0,1271.9 1496.0,1269.6 1497.0,1267.3 1498.0,1264.9 1499.0,1262.4 1500.0,1259.9 1501.0,1257.4 1502.0,1254.8 1503.0,1252.1 1504.0,1249.4 1505.0,1246.7 1506.0,1243.9 1507.0,1241.0 1508.0,1238.2 1509.0,1235.3 1510.0,1232.4 1511.0,1229.4 1512.0,1226.4 1513.0,1223.4 1514.0,1220.4 1515.0,1217.4 1516.0,1214.4 1517.0,1211.3 1518.0,1208.3 1519.0,1205.3 1520.0,1202.3 1521.0,1199.3 1522.0,1196.3 1523.0,1193.3 1524.0,1190.4 1525.0,1187.5 1526.0,1184.7 1527.0,1181.9 1528.0,1179.1 1529.0,1176.4 1530.0,1173.8 1531.0,1171.2 1532.0,1168.7 1533.0,1166.3 1534.0,1164.0 1535.0,1161.8 1536.0,1159.6 1537.0,1157.6 1538.0,1155.7 1539.0,1153.9 1540.0,1152.2 1541.0,1150.6 1542.0,1149.1 1543.0,1147.8 1544.0,1146.6 1545.0,1145.6 1546.0,1144.7 1547.0,1143.9 1548.0,1143.3 1549.0,1142.8 1550.0,1142.5 1551.0,1142.3 1552.0,1142.2 1553.0,1142.4 1554.0,1142.6 1555.0,1143.0 1556.0,1143.6 1557.0,1144.3 1558.0,1145.2 1559.0,1146.2 1560.0,1147.3 1561.0,1148.5 1562.0,1149.9 1563.0,1151.4 1564.0,1153.1 1565.0,1154.8 1566.0,1156.7 1567.0,1158.7 1568.0,1160.7 1569.0,1162.9 1570.0,1165.2 1571.0,1167.5 1572.0,1169.9 1573.0,1172.5 1574.0,1175.0 1575.0,1177.7 1576.0,1180.4 1577.0,1183.1 1578.0,1185.9 1579.0,1188.7 1580.0,1191.6 1581.0,1194.5 1582.0,1197.4 1583.0,1200.4 1584.0,1203.3 1585.0,1206.3 1586.0,1209.3 1587.0,1212.3 1588.0,1215.2 1589.0,1218.2 1590.0,1221.2 1591.0,1224.1 1592.0,1227.0 1593.0,1229.9 1594.0,1232.8 1595.0,1235.7 1596.0,1238.5 1597.0,1241.3 1598.0,1244.0 1599.0,1246.7 1600.0,1249.4 1601.0,1252.0 1602.0,1254.5 1603.0,1257.1 1604.0,1259.5 1605.0,1261.9 1606.0,1264.3 1607.0,1266.6 1608.0,1268.9 1609.0,1271.1 1610.0,1273.2 1611.0,1275.3 1612.0,1277.3 1613.0,1279.3 1614.0,1281.2 1615.0,1283.1 1616.0,1284.8 1617.0,1286.6 1618.0,1288.3 1619.0,1289.9 1620.0,1291.5 1621.0,1293.0 1622.0,1294.4 1623.0,1295.8 1624.0,1297.2 1625.0,1298.5 1626.0,1299.7 1627.0,1300.9 1628.0,1302.1 1629.0,1303.2 1630.0,1304.2 1631.0,1305.2 1632.0,1306.2 1633.0,1307.1 1634.0,1308.0 1635.0,1308.8 1636.0,1309.6 1637.0,1310.4 1638.0,1311.1 1639.0,1311.8 1640.0,1312.4 1641.0,1313.1 1642.0,1313.6 1643.0,1314.2 1644.0,1314.7 1645.0,1315.2 1646.0,1315.7 1647.0,1316.2 1648.0,1316.6 1649.0,1317.0 1650.0,1317.4 1651.0,1317.8 1652.0,1318.1 1653.0,1318.4 1654.0,1318.7 1655.0,1319.0 1656.0,1319.3 1657.0,1319.5 1658.0,1319.8 1659.0,1320.0 1660.0,1320.2 1661.0,1320.4 1662.0,1320.6 1663.0,1320.8 1664.0,1321.0 1665.0,1321.1 1666.0,1321.3 1667.0,1321.4 1668.0,1321.6 1669.0,1321.7 1670.0,1321.8 1671.0,1321.9 1672.0,1322.0 1673.0,1322.1 1674.0,1322.2 1675.0,1322.3 1676.0,1322.4 1677.0,1322.5 1678.0,1322.6 1679.0,1322.7 1680.0,1322.7 1681.0,1322.8 1682.0,1322.9 1683.0,1322.9 1684.0,1323.0 1685.0,1323.0 1686.0,1323.1 1687.0,1323.1 1688.0,1323.2 1689.0,1323.2 1690.0,1323.3 1691.0,1323.3 1692.0,1323.4 1693.0,1323.4 1694.0,1323.4 1695.0,1323.5 1696.0,1323.5 1697.0,1323.5 1698.0,1323.6 1699.0,1323.6 1700.0,1323.6 1701.0,1323.7 1702.0,1323.7 1703.0,1323.7 1704.0,1323.7 1705.0,1323.8 1706.0,1323.8 1707.0,1323.8 1708.0,1323.9 1709.0,1323.9 1710.0,1323.9 1711.0,1323.9 1712.0,1323.9 1713.0,1324.0 1714.0,1324.0 1715.0,1324.0 1716.0,1324.0 1717.0,1324.1 1718.0,1324.1 1719.0,1324.1 1720.0,1324.1 1721.0,1324.1 1722.0,1324.2 1723.0,1324.2 1724.0,1324.2 1725.0,1324.2 1726.0,1324.2 1727.0,1324.2 1728.0,1324.3 1729.0,1324.3 1730.0,1324.3 1731.0,1324.3 1732.0,1324.3 1733.0,1324.3 1734.0,1324.4 1735.0,1324.4 1736.0,1324.4 1737.0,1324.4 1738.0,1324.4 1739.0,1324.4 1740.0,1324.4 1741.0,1324.5 1742.0,1324.5 1743.0,1324.5 1744.0,1324.5 1745.0,1324.5 1746.0,1324.5 1747.0,1324.5 1748.0,1324.5 1749.0,1324.6 1750.0,1324.6 1751.0,1324.6 1752.0,1324.6 1753.0,1324.6 1754.0,1324.6 1755.0,1324.6 1756.0,1324.6 1757.0,1324.6 1758.0,1324.7 1759.0,1324.7 1760.0,1324.7 1761.0,1324.7 1762.0,1324.7 1763.0,1324.7 1764.0,1324.7 1765.0,1324.7 1766.0,1324.7 1767.0,1324.7 1768.0,1324.8 1769.0,1324.8 1770.0,1324.8 1771.0,1324.8 1772.0,1324.8 1773.0,1324.8 1774.0,1324.8 1775.0,1324.8 1776.0,1324.8 1777.0,1324.8 1778.0,1324.8 1779.0,1324.8 1780.0,1324.9 1781.0,1324.9 1782.0,1324.9 1783.0,1324.9 1784.0,1324.9 1785.0,1324.9 1786.0,1324.9 1787.0,1324.9 1788.0,1324.9 1789.0,1324.9 1790.0,1324.9 1791.0,1324.9 1792.0,1324.9 1793.0,1325.0 1794.0,1325.0 1795.0,1325.0 1796.0,1325.0 1797.0,1325.0 1798.0,1325.0 1799.0,1325.0 1800.0,1325.0 1801.0,1325.0 1802.0,1325.0 1803.0,1325.0 1804.0,1325.0 1805.0,1325.0 1806.0,1325.0 1807.0,1325.0 1808.0,1325.0 1809.0,1325.1 1810.0,1325.1 1811.0,1325.1 1812.0,1325.1 1813.0,1325.1 1814.0,1325.1 1815.0,1325.1 1816.0,1325.1 1817.0,1325.1 1818.0,1325.1 1819.0,1325.1 1820.0,1325.1 1821.0,1325.1 1822.0,1325.1 1823.0,1325.1 1824.0,1325.1 1825.0,1325.1 1826.0,1325.1 1827.0,1325.1 1828.0,1325.1 1829.0,1325.2 1830.0,1325.2 1831.0,1325.2 1832.0,1325.2 1833.0,1325.2 1834.0,1325.2 1835.0,1325.2 1836.0,1325.2 1837.0,1325.2 1838.0,1325.2 1839.0,1325.2 1840.0,1325.2 1841.0,1325.2 1842.0,1325.2 1843.0,1325.2 1844.0,1325.2 1845.0,1325.2 1846.0,1325.2 1847.0,1325.2 1848.0,1325.2 1849.0,1325.2 1850.0,1325.2" fill="none" stroke="#46447f" stroke-width="3.0" stroke-linejoin="round" stroke-dasharray="9 8" stroke-dashoffset="0" opacity="1"/>
<polyline points="1217.0,1329.3 1218.0,1329.3 1219.0,1329.3 1220.0,1329.3 1221.0,1329.3 1222.0,1329.3 1223.0,1329.3 1224.0,1329.3 1225.0,1329.3 1226.0,1329.3 1227.0,1329.3 1228.0,1329.3 1229.0,1329.3 1230.0,1329.3 1231.0,1329.3 1232.0,1329.3 1233.0,1329.3 1234.0,1329.3 1235.0,1329.2 1236.0,1329.2 1237.0,1329.2 1238.0,1329.2 1239.0,1329.2 1240.0,1329.2 1241.0,1329.2 1242.0,1329.2 1243.0,1329.2 1244.0,1329.2 1245.0,1329.2 1246.0,1329.2 1247.0,1329.2 1248.0,1329.2 1249.0,1329.2 1250.0,1329.2 1251.0,1329.2 1252.0,1329.2 1253.0,1329.2 1254.0,1329.2 1255.0,1329.2 1256.0,1329.2 1257.0,1329.2 1258.0,1329.1 1259.0,1329.1 1260.0,1329.1 1261.0,1329.1 1262.0,1329.1 1263.0,1329.1 1264.0,1329.1 1265.0,1329.1 1266.0,1329.1 1267.0,1329.1 1268.0,1329.1 1269.0,1329.1 1270.0,1329.1 1271.0,1329.1 1272.0,1329.1 1273.0,1329.1 1274.0,1329.1 1275.0,1329.0 1276.0,1329.0 1277.0,1329.0 1278.0,1329.0 1279.0,1329.0 1280.0,1329.0 1281.0,1329.0 1282.0,1329.0 1283.0,1329.0 1284.0,1329.0 1285.0,1329.0 1286.0,1329.0 1287.0,1329.0 1288.0,1329.0 1289.0,1329.0 1290.0,1328.9 1291.0,1328.9 1292.0,1328.9 1293.0,1328.9 1294.0,1328.9 1295.0,1328.9 1296.0,1328.9 1297.0,1328.9 1298.0,1328.9 1299.0,1328.9 1300.0,1328.9 1301.0,1328.9 1302.0,1328.8 1303.0,1328.8 1304.0,1328.8 1305.0,1328.8 1306.0,1328.8 1307.0,1328.8 1308.0,1328.8 1309.0,1328.8 1310.0,1328.8 1311.0,1328.8 1312.0,1328.8 1313.0,1328.7 1314.0,1328.7 1315.0,1328.7 1316.0,1328.7 1317.0,1328.7 1318.0,1328.7 1319.0,1328.7 1320.0,1328.7 1321.0,1328.7 1322.0,1328.6 1323.0,1328.6 1324.0,1328.6 1325.0,1328.6 1326.0,1328.6 1327.0,1328.6 1328.0,1328.6 1329.0,1328.6 1330.0,1328.5 1331.0,1328.5 1332.0,1328.5 1333.0,1328.5 1334.0,1328.5 1335.0,1328.5 1336.0,1328.5 1337.0,1328.4 1338.0,1328.4 1339.0,1328.4 1340.0,1328.4 1341.0,1328.4 1342.0,1328.4 1343.0,1328.3 1344.0,1328.3 1345.0,1328.3 1346.0,1328.3 1347.0,1328.3 1348.0,1328.3 1349.0,1328.2 1350.0,1328.2 1351.0,1328.2 1352.0,1328.2 1353.0,1328.2 1354.0,1328.1 1355.0,1328.1 1356.0,1328.1 1357.0,1328.1 1358.0,1328.1 1359.0,1328.0 1360.0,1328.0 1361.0,1328.0 1362.0,1328.0 1363.0,1327.9 1364.0,1327.9 1365.0,1327.9 1366.0,1327.9 1367.0,1327.8 1368.0,1327.8 1369.0,1327.8 1370.0,1327.8 1371.0,1327.7 1372.0,1327.7 1373.0,1327.7 1374.0,1327.6 1375.0,1327.6 1376.0,1327.6 1377.0,1327.5 1378.0,1327.5 1379.0,1327.5 1380.0,1327.4 1381.0,1327.4 1382.0,1327.3 1383.0,1327.3 1384.0,1327.3 1385.0,1327.2 1386.0,1327.2 1387.0,1327.1 1388.0,1327.1 1389.0,1327.0 1390.0,1327.0 1391.0,1326.9 1392.0,1326.8 1393.0,1326.8 1394.0,1326.7 1395.0,1326.7 1396.0,1326.6 1397.0,1326.5 1398.0,1326.4 1399.0,1326.4 1400.0,1326.3 1401.0,1326.2 1402.0,1326.1 1403.0,1326.0 1404.0,1325.9 1405.0,1325.8 1406.0,1325.7 1407.0,1325.6 1408.0,1325.4 1409.0,1325.3 1410.0,1325.2 1411.0,1325.0 1412.0,1324.9 1413.0,1324.7 1414.0,1324.5 1415.0,1324.4 1416.0,1324.2 1417.0,1324.0 1418.0,1323.7 1419.0,1323.5 1420.0,1323.3 1421.0,1323.0 1422.0,1322.8 1423.0,1322.5 1424.0,1322.2 1425.0,1321.9 1426.0,1321.6 1427.0,1321.2 1428.0,1320.9 1429.0,1320.5 1430.0,1320.1 1431.0,1319.7 1432.0,1319.3 1433.0,1318.8 1434.0,1318.3 1435.0,1317.8 1436.0,1317.3 1437.0,1316.8 1438.0,1316.2 1439.0,1315.6 1440.0,1315.0 1441.0,1314.3 1442.0,1313.7 1443.0,1312.9 1444.0,1312.2 1445.0,1311.5 1446.0,1310.7 1447.0,1309.8 1448.0,1309.0 1449.0,1308.1 1450.0,1307.2 1451.0,1306.2 1452.0,1305.3 1453.0,1304.3 1454.0,1303.2 1455.0,1302.2 1456.0,1301.1 1457.0,1299.9 1458.0,1298.8 1459.0,1297.6 1460.0,1296.3 1461.0,1295.1 1462.0,1293.8 1463.0,1292.5 1464.0,1291.2 1465.0,1289.8 1466.0,1288.4 1467.0,1287.0 1468.0,1285.6 1469.0,1284.1 1470.0,1282.7 1471.0,1281.2 1472.0,1279.7 1473.0,1278.2 1474.0,1276.6 1475.0,1275.1 1476.0,1273.6 1477.0,1272.0 1478.0,1270.5 1479.0,1268.9 1480.0,1267.4 1481.0,1265.8 1482.0,1264.3 1483.0,1262.8 1484.0,1261.3 1485.0,1259.8 1486.0,1258.3 1487.0,1256.9 1488.0,1255.5 1489.0,1254.1 1490.0,1252.8 1491.0,1251.5 1492.0,1250.2 1493.0,1249.1 1494.0,1247.9 1495.0,1246.8 1496.0,1245.8 1497.0,1244.8 1498.0,1243.9 1499.0,1243.1 1500.0,1242.4 1501.0,1241.7 1502.0,1241.1 1503.0,1240.6 1504.0,1240.2 1505.0,1239.8 1506.0,1239.6 1507.0,1239.4 1508.0,1239.3 1509.0,1239.3 1510.0,1239.5 1511.0,1239.6 1512.0,1239.9 1513.0,1240.3 1514.0,1240.8 1515.0,1241.3 1516.0,1241.9 1517.0,1242.6 1518.0,1243.4 1519.0,1244.2 1520.0,1245.1 1521.0,1246.1 1522.0,1247.1 1523.0,1248.2 1524.0,1249.3 1525.0,1250.5 1526.0,1251.8 1527.0,1253.0 1528.0,1254.4 1529.0,1255.7 1530.0,1257.1 1531.0,1258.5 1532.0,1259.9 1533.0,1261.3 1534.0,1262.8 1535.0,1264.3 1536.0,1265.8 1537.0,1267.2 1538.0,1268.7 1539.0,1270.2 1540.0,1271.7 1541.0,1273.2 1542.0,1274.7 1543.0,1276.2 1544.0,1277.6 1545.0,1279.1 1546.0,1280.5 1547.0,1281.9 1548.0,1283.3 1549.0,1284.7 1550.0,1286.0 1551.0,1287.4 1552.0,1288.7 1553.0,1290.0 1554.0,1291.2 1555.0,1292.5 1556.0,1293.7 1557.0,1294.8 1558.0,1296.0 1559.0,1297.1 1560.0,1298.2 1561.0,1299.3 1562.0,1300.3 1563.0,1301.3 1564.0,1302.2 1565.0,1303.2 1566.0,1304.1 1567.0,1305.0 1568.0,1305.8 1569.0,1306.6 1570.0,1307.4 1571.0,1308.2 1572.0,1308.9 1573.0,1309.6 1574.0,1310.3 1575.0,1311.0 1576.0,1311.6 1577.0,1312.2 1578.0,1312.7 1579.0,1313.3 1580.0,1313.8 1581.0,1314.3 1582.0,1314.8 1583.0,1315.3 1584.0,1315.7 1585.0,1316.1 1586.0,1316.5 1587.0,1316.9 1588.0,1317.2 1589.0,1317.6 1590.0,1317.9 1591.0,1318.2 1592.0,1318.5 1593.0,1318.8 1594.0,1319.0 1595.0,1319.3 1596.0,1319.5 1597.0,1319.8 1598.0,1320.0 1599.0,1320.2 1600.0,1320.4 1601.0,1320.5 1602.0,1320.7 1603.0,1320.9 1604.0,1321.0 1605.0,1321.2 1606.0,1321.3 1607.0,1321.4 1608.0,1321.6 1609.0,1321.7 1610.0,1321.8 1611.0,1321.9 1612.0,1322.0 1613.0,1322.1 1614.0,1322.2 1615.0,1322.3 1616.0,1322.4 1617.0,1322.4 1618.0,1322.5 1619.0,1322.6 1620.0,1322.7 1621.0,1322.7 1622.0,1322.8 1623.0,1322.9 1624.0,1322.9 1625.0,1323.0 1626.0,1323.0 1627.0,1323.1 1628.0,1323.1 1629.0,1323.2 1630.0,1323.2 1631.0,1323.3 1632.0,1323.3 1633.0,1323.3 1634.0,1323.4 1635.0,1323.4 1636.0,1323.5 1637.0,1323.5 1638.0,1323.5 1639.0,1323.6 1640.0,1323.6 1641.0,1323.6 1642.0,1323.7 1643.0,1323.7 1644.0,1323.7 1645.0,1323.7 1646.0,1323.8 1647.0,1323.8 1648.0,1323.8 1649.0,1323.9 1650.0,1323.9 1651.0,1323.9 1652.0,1323.9 1653.0,1324.0 1654.0,1324.0 1655.0,1324.0 1656.0,1324.0 1657.0,1324.0 1658.0,1324.1 1659.0,1324.1 1660.0,1324.1 1661.0,1324.1 1662.0,1324.1 1663.0,1324.2 1664.0,1324.2 1665.0,1324.2 1666.0,1324.2 1667.0,1324.2 1668.0,1324.3 1669.0,1324.3 1670.0,1324.3 1671.0,1324.3 1672.0,1324.3 1673.0,1324.3 1674.0,1324.4 1675.0,1324.4 1676.0,1324.4 1677.0,1324.4 1678.0,1324.4 1679.0,1324.4 1680.0,1324.5 1681.0,1324.5 1682.0,1324.5 1683.0,1324.5 1684.0,1324.5 1685.0,1324.5 1686.0,1324.5 1687.0,1324.6 1688.0,1324.6 1689.0,1324.6 1690.0,1324.6 1691.0,1324.6 1692.0,1324.6 1693.0,1324.6 1694.0,1324.6 1695.0,1324.7 1696.0,1324.7 1697.0,1324.7 1698.0,1324.7 1699.0,1324.7 1700.0,1324.7 1701.0,1324.7 1702.0,1324.7 1703.0,1324.7 1704.0,1324.8 1705.0,1324.8 1706.0,1324.8 1707.0,1324.8 1708.0,1324.8 1709.0,1324.8 1710.0,1324.8 1711.0,1324.8 1712.0,1324.8 1713.0,1324.8 1714.0,1324.8 1715.0,1324.9 1716.0,1324.9 1717.0,1324.9 1718.0,1324.9 1719.0,1324.9 1720.0,1324.9 1721.0,1324.9 1722.0,1324.9 1723.0,1324.9 1724.0,1324.9 1725.0,1324.9 1726.0,1324.9 1727.0,1325.0 1728.0,1325.0 1729.0,1325.0 1730.0,1325.0 1731.0,1325.0 1732.0,1325.0 1733.0,1325.0 1734.0,1325.0 1735.0,1325.0 1736.0,1325.0 1737.0,1325.0 1738.0,1325.0 1739.0,1325.0 1740.0,1325.0 1741.0,1325.0 1742.0,1325.1 1743.0,1325.1 1744.0,1325.1 1745.0,1325.1 1746.0,1325.1 1747.0,1325.1 1748.0,1325.1 1749.0,1325.1 1750.0,1325.1 1751.0,1325.1 1752.0,1325.1 1753.0,1325.1 1754.0,1325.1 1755.0,1325.1 1756.0,1325.1 1757.0,1325.1 1758.0,1325.1 1759.0,1325.2 1760.0,1325.2 1761.0,1325.2 1762.0,1325.2 1763.0,1325.2 1764.0,1325.2 1765.0,1325.2 1766.0,1325.2 1767.0,1325.2 1768.0,1325.2 1769.0,1325.2 1770.0,1325.2 1771.0,1325.2 1772.0,1325.2 1773.0,1325.2 1774.0,1325.2 1775.0,1325.2 1776.0,1325.2 1777.0,1325.2 1778.0,1325.2 1779.0,1325.2 1780.0,1325.2 1781.0,1325.2 1782.0,1325.3 1783.0,1325.3 1784.0,1325.3 1785.0,1325.3 1786.0,1325.3 1787.0,1325.3 1788.0,1325.3 1789.0,1325.3 1790.0,1325.3 1791.0,1325.3 1792.0,1325.3 1793.0,1325.3 1794.0,1325.3 1795.0,1325.3 1796.0,1325.3 1797.0,1325.3 1798.0,1325.3 1799.0,1325.3 1800.0,1325.3 1801.0,1325.3 1802.0,1325.3 1803.0,1325.3 1804.0,1325.3 1805.0,1325.3 1806.0,1325.3 1807.0,1325.3 1808.0,1325.3 1809.0,1325.3 1810.0,1325.3 1811.0,1325.4 1812.0,1325.4 1813.0,1325.4 1814.0,1325.4 1815.0,1325.4 1816.0,1325.4 1817.0,1325.4 1818.0,1325.4 1819.0,1325.4 1820.0,1325.4 1821.0,1325.4 1822.0,1325.4 1823.0,1325.4 1824.0,1325.4 1825.0,1325.4 1826.0,1325.4 1827.0,1325.4 1828.0,1325.4 1829.0,1325.4 1830.0,1325.4 1831.0,1325.4 1832.0,1325.4 1833.0,1325.4 1834.0,1325.4 1835.0,1325.4 1836.0,1325.4 1837.0,1325.4 1838.0,1325.4 1839.0,1325.4 1840.0,1325.4 1841.0,1325.4 1842.0,1325.4 1843.0,1325.4 1844.0,1325.4 1845.0,1325.4 1846.0,1325.4 1847.0,1325.4 1848.0,1325.4 1849.0,1325.4 1850.0,1325.4" fill="none" stroke="#2aa866" stroke-width="3.0" stroke-linejoin="round" stroke-dasharray="9 8" stroke-dashoffset="5" opacity="1"/>
<polyline points="1217.0,1330.4 1218.0,1330.4 1219.0,1330.4 1220.0,1330.3 1221.0,1330.3 1222.0,1330.3 1223.0,1330.3 1224.0,1330.3 1225.0,1330.3 1226.0,1330.3 1227.0,1330.3 1228.0,1330.3 1229.0,1330.3 1230.0,1330.3 1231.0,1330.3 1232.0,1330.3 1233.0,1330.3 1234.0,1330.3 1235.0,1330.2 1236.0,1330.2 1237.0,1330.2 1238.0,1330.2 1239.0,1330.2 1240.0,1330.2 1241.0,1330.2 1242.0,1330.2 1243.0,1330.2 1244.0,1330.2 1245.0,1330.2 1246.0,1330.2 1247.0,1330.2 1248.0,1330.2 1249.0,1330.1 1250.0,1330.1 1251.0,1330.1 1252.0,1330.1 1253.0,1330.1 1254.0,1330.1 1255.0,1330.1 1256.0,1330.1 1257.0,1330.1 1258.0,1330.1 1259.0,1330.1 1260.0,1330.0 1261.0,1330.0 1262.0,1330.0 1263.0,1330.0 1264.0,1330.0 1265.0,1330.0 1266.0,1330.0 1267.0,1330.0 1268.0,1330.0 1269.0,1330.0 1270.0,1330.0 1271.0,1329.9 1272.0,1329.9 1273.0,1329.9 1274.0,1329.9 1275.0,1329.9 1276.0,1329.9 1277.0,1329.9 1278.0,1329.9 1279.0,1329.9 1280.0,1329.8 1281.0,1329.8 1282.0,1329.8 1283.0,1329.8 1284.0,1329.8 1285.0,1329.8 1286.0,1329.8 1287.0,1329.8 1288.0,1329.7 1289.0,1329.7 1290.0,1329.7 1291.0,1329.7 1292.0,1329.7 1293.0,1329.7 1294.0,1329.7 1295.0,1329.7 1296.0,1329.6 1297.0,1329.6 1298.0,1329.6 1299.0,1329.6 1300.0,1329.6 1301.0,1329.6 1302.0,1329.6 1303.0,1329.5 1304.0,1329.5 1305.0,1329.5 1306.0,1329.5 1307.0,1329.5 1308.0,1329.5 1309.0,1329.4 1310.0,1329.4 1311.0,1329.4 1312.0,1329.4 1313.0,1329.4 1314.0,1329.4 1315.0,1329.3 1316.0,1329.3 1317.0,1329.3 1318.0,1329.3 1319.0,1329.3 1320.0,1329.2 1321.0,1329.2 1322.0,1329.2 1323.0,1329.2 1324.0,1329.2 1325.0,1329.1 1326.0,1329.1 1327.0,1329.1 1328.0,1329.1 1329.0,1329.1 1330.0,1329.0 1331.0,1329.0 1332.0,1329.0 1333.0,1329.0 1334.0,1328.9 1335.0,1328.9 1336.0,1328.9 1337.0,1328.9 1338.0,1328.8 1339.0,1328.8 1340.0,1328.8 1341.0,1328.8 1342.0,1328.7 1343.0,1328.7 1344.0,1328.7 1345.0,1328.7 1346.0,1328.6 1347.0,1328.6 1348.0,1328.6 1349.0,1328.5 1350.0,1328.5 1351.0,1328.5 1352.0,1328.5 1353.0,1328.4 1354.0,1328.4 1355.0,1328.4 1356.0,1328.3 1357.0,1328.3 1358.0,1328.3 1359.0,1328.2 1360.0,1328.2 1361.0,1328.1 1362.0,1328.1 1363.0,1328.1 1364.0,1328.0 1365.0,1328.0 1366.0,1328.0 1367.0,1327.9 1368.0,1327.9 1369.0,1327.8 1370.0,1327.8 1371.0,1327.7 1372.0,1327.7 1373.0,1327.6 1374.0,1327.6 1375.0,1327.5 1376.0,1327.5 1377.0,1327.4 1378.0,1327.4 1379.0,1327.3 1380.0,1327.3 1381.0,1327.2 1382.0,1327.2 1383.0,1327.1 1384.0,1327.0 1385.0,1327.0 1386.0,1326.9 1387.0,1326.8 1388.0,1326.8 1389.0,1326.7 1390.0,1326.6 1391.0,1326.5 1392.0,1326.5 1393.0,1326.4 1394.0,1326.3 1395.0,1326.2 1396.0,1326.1 1397.0,1326.0 1398.0,1325.9 1399.0,1325.8 1400.0,1325.7 1401.0,1325.6 1402.0,1325.5 1403.0,1325.3 1404.0,1325.2 1405.0,1325.1 1406.0,1324.9 1407.0,1324.8 1408.0,1324.6 1409.0,1324.4 1410.0,1324.2 1411.0,1324.1 1412.0,1323.9 1413.0,1323.7 1414.0,1323.4 1415.0,1323.2 1416.0,1323.0 1417.0,1322.7 1418.0,1322.5 1419.0,1322.2 1420.0,1321.9 1421.0,1321.6 1422.0,1321.3 1423.0,1320.9 1424.0,1320.5 1425.0,1320.2 1426.0,1319.8 1427.0,1319.3 1428.0,1318.9 1429.0,1318.4 1430.0,1317.9 1431.0,1317.4 1432.0,1316.9 1433.0,1316.3 1434.0,1315.7 1435.0,1315.1 1436.0,1314.4 1437.0,1313.7 1438.0,1313.0 1439.0,1312.2 1440.0,1311.4 1441.0,1310.6 1442.0,1309.7 1443.0,1308.8 1444.0,1307.9 1445.0,1306.9 1446.0,1305.8 1447.0,1304.8 1448.0,1303.6 1449.0,1302.5 1450.0,1301.2 1451.0,1300.0 1452.0,1298.6 1453.0,1297.3 1454.0,1295.8 1455.0,1294.4 1456.0,1292.8 1457.0,1291.2 1458.0,1289.6 1459.0,1287.9 1460.0,1286.1 1461.0,1284.3 1462.0,1282.4 1463.0,1280.5 1464.0,1278.5 1465.0,1276.4 1466.0,1274.3 1467.0,1272.1 1468.0,1269.9 1469.0,1267.6 1470.0,1265.3 1471.0,1262.8 1472.0,1260.4 1473.0,1257.8 1474.0,1255.2 1475.0,1252.6 1476.0,1249.9 1477.0,1247.1 1478.0,1244.3 1479.0,1241.5 1480.0,1238.6 1481.0,1235.6 1482.0,1232.6 1483.0,1229.6 1484.0,1226.5 1485.0,1223.3 1486.0,1220.2 1487.0,1217.0 1488.0,1213.8 1489.0,1210.6 1490.0,1207.3 1491.0,1204.0 1492.0,1200.7 1493.0,1197.4 1494.0,1194.1 1495.0,1190.8 1496.0,1187.5 1497.0,1184.2 1498.0,1180.9 1499.0,1177.7 1500.0,1174.5 1501.0,1171.2 1502.0,1168.1 1503.0,1164.9 1504.0,1161.8 1505.0,1158.8 1506.0,1155.7 1507.0,1152.8 1508.0,1149.9 1509.0,1147.0 1510.0,1144.2 1511.0,1141.5 1512.0,1138.9 1513.0,1136.3 1514.0,1133.7 1515.0,1131.3 1516.0,1128.9 1517.0,1126.6 1518.0,1124.4 1519.0,1122.2 1520.0,1120.2 1521.0,1118.2 1522.0,1116.3 1523.0,1114.4 1524.0,1112.7 1525.0,1111.0 1526.0,1109.5 1527.0,1108.0 1528.0,1106.6 1529.0,1105.3 1530.0,1104.1 1531.0,1103.0 1532.0,1101.9 1533.0,1101.0 1534.0,1100.2 1535.0,1099.5 1536.0,1098.9 1537.0,1098.4 1538.0,1098.0 1539.0,1097.7 1540.0,1097.6 1541.0,1097.5 1542.0,1097.6 1543.0,1097.8 1544.0,1098.1 1545.0,1098.6 1546.0,1099.2 1547.0,1099.8 1548.0,1100.7 1549.0,1101.6 1550.0,1102.7 1551.0,1103.9 1552.0,1105.2 1553.0,1106.7 1554.0,1108.2 1555.0,1109.9 1556.0,1111.7 1557.0,1113.7 1558.0,1115.7 1559.0,1117.8 1560.0,1120.1 1561.0,1122.5 1562.0,1124.9 1563.0,1127.5 1564.0,1130.1 1565.0,1132.8 1566.0,1135.6 1567.0,1138.5 1568.0,1141.5 1569.0,1144.5 1570.0,1147.6 1571.0,1150.7 1572.0,1153.9 1573.0,1157.1 1574.0,1160.4 1575.0,1163.7 1576.0,1167.1 1577.0,1170.4 1578.0,1173.8 1579.0,1177.2 1580.0,1180.6 1581.0,1184.1 1582.0,1187.5 1583.0,1190.9 1584.0,1194.3 1585.0,1197.7 1586.0,1201.1 1587.0,1204.5 1588.0,1207.8 1589.0,1211.2 1590.0,1214.5 1591.0,1217.7 1592.0,1221.0 1593.0,1224.1 1594.0,1227.3 1595.0,1230.4 1596.0,1233.5 1597.0,1236.5 1598.0,1239.5 1599.0,1242.4 1600.0,1245.2 1601.0,1248.0 1602.0,1250.8 1603.0,1253.5 1604.0,1256.1 1605.0,1258.7 1606.0,1261.2 1607.0,1263.6 1608.0,1266.0 1609.0,1268.3 1610.0,1270.6 1611.0,1272.8 1612.0,1274.9 1613.0,1277.0 1614.0,1279.0 1615.0,1280.9 1616.0,1282.8 1617.0,1284.7 1618.0,1286.4 1619.0,1288.1 1620.0,1289.7 1621.0,1291.3 1622.0,1292.8 1623.0,1294.3 1624.0,1295.7 1625.0,1297.1 1626.0,1298.4 1627.0,1299.6 1628.0,1300.8 1629.0,1302.0 1630.0,1303.1 1631.0,1304.1 1632.0,1305.1 1633.0,1306.1 1634.0,1307.0 1635.0,1307.9 1636.0,1308.7 1637.0,1309.5 1638.0,1310.3 1639.0,1311.0 1640.0,1311.7 1641.0,1312.4 1642.0,1313.0 1643.0,1313.6 1644.0,1314.1 1645.0,1314.7 1646.0,1315.2 1647.0,1315.7 1648.0,1316.1 1649.0,1316.5 1650.0,1317.0 1651.0,1317.3 1652.0,1317.7 1653.0,1318.1 1654.0,1318.4 1655.0,1318.7 1656.0,1319.0 1657.0,1319.3 1658.0,1319.5 1659.0,1319.8 1660.0,1320.0 1661.0,1320.3 1662.0,1320.5 1663.0,1320.7 1664.0,1320.9 1665.0,1321.0 1666.0,1321.2 1667.0,1321.4 1668.0,1321.5 1669.0,1321.7 1670.0,1321.8 1671.0,1321.9 1672.0,1322.1 1673.0,1322.2 1674.0,1322.3 1675.0,1322.4 1676.0,1322.5 1677.0,1322.6 1678.0,1322.7 1679.0,1322.8 1680.0,1322.9 1681.0,1323.0 1682.0,1323.0 1683.0,1323.1 1684.0,1323.2 1685.0,1323.3 1686.0,1323.3 1687.0,1323.4 1688.0,1323.4 1689.0,1323.5 1690.0,1323.6 1691.0,1323.6 1692.0,1323.7 1693.0,1323.7 1694.0,1323.8 1695.0,1323.8 1696.0,1323.9 1697.0,1323.9 1698.0,1324.0 1699.0,1324.0 1700.0,1324.0 1701.0,1324.1 1702.0,1324.1 1703.0,1324.2 1704.0,1324.2 1705.0,1324.2 1706.0,1324.3 1707.0,1324.3 1708.0,1324.3 1709.0,1324.4 1710.0,1324.4 1711.0,1324.4 1712.0,1324.5 1713.0,1324.5 1714.0,1324.5 1715.0,1324.6 1716.0,1324.6 1717.0,1324.6 1718.0,1324.7 1719.0,1324.7 1720.0,1324.7 1721.0,1324.7 1722.0,1324.8 1723.0,1324.8 1724.0,1324.8 1725.0,1324.8 1726.0,1324.9 1727.0,1324.9 1728.0,1324.9 1729.0,1324.9 1730.0,1325.0 1731.0,1325.0 1732.0,1325.0 1733.0,1325.0 1734.0,1325.1 1735.0,1325.1 1736.0,1325.1 1737.0,1325.1 1738.0,1325.1 1739.0,1325.2 1740.0,1325.2 1741.0,1325.2 1742.0,1325.2 1743.0,1325.2 1744.0,1325.3 1745.0,1325.3 1746.0,1325.3 1747.0,1325.3 1748.0,1325.3 1749.0,1325.4 1750.0,1325.4 1751.0,1325.4 1752.0,1325.4 1753.0,1325.4 1754.0,1325.4 1755.0,1325.5 1756.0,1325.5 1757.0,1325.5 1758.0,1325.5 1759.0,1325.5 1760.0,1325.5 1761.0,1325.5 1762.0,1325.6 1763.0,1325.6 1764.0,1325.6 1765.0,1325.6 1766.0,1325.6 1767.0,1325.6 1768.0,1325.6 1769.0,1325.7 1770.0,1325.7 1771.0,1325.7 1772.0,1325.7 1773.0,1325.7 1774.0,1325.7 1775.0,1325.7 1776.0,1325.8 1777.0,1325.8 1778.0,1325.8 1779.0,1325.8 1780.0,1325.8 1781.0,1325.8 1782.0,1325.8 1783.0,1325.8 1784.0,1325.8 1785.0,1325.9 1786.0,1325.9 1787.0,1325.9 1788.0,1325.9 1789.0,1325.9 1790.0,1325.9 1791.0,1325.9 1792.0,1325.9 1793.0,1325.9 1794.0,1326.0 1795.0,1326.0 1796.0,1326.0 1797.0,1326.0 1798.0,1326.0 1799.0,1326.0 1800.0,1326.0 1801.0,1326.0 1802.0,1326.0 1803.0,1326.0 1804.0,1326.1 1805.0,1326.1 1806.0,1326.1 1807.0,1326.1 1808.0,1326.1 1809.0,1326.1 1810.0,1326.1 1811.0,1326.1 1812.0,1326.1 1813.0,1326.1 1814.0,1326.1 1815.0,1326.1 1816.0,1326.2 1817.0,1326.2 1818.0,1326.2 1819.0,1326.2 1820.0,1326.2 1821.0,1326.2 1822.0,1326.2 1823.0,1326.2 1824.0,1326.2 1825.0,1326.2 1826.0,1326.2 1827.0,1326.2 1828.0,1326.2 1829.0,1326.3 1830.0,1326.3 1831.0,1326.3 1832.0,1326.3 1833.0,1326.3 1834.0,1326.3 1835.0,1326.3 1836.0,1326.3 1837.0,1326.3 1838.0,1326.3 1839.0,1326.3 1840.0,1326.3 1841.0,1326.3 1842.0,1326.3 1843.0,1326.3 1844.0,1326.4 1845.0,1326.4 1846.0,1326.4 1847.0,1326.4 1848.0,1326.4 1849.0,1326.4 1850.0,1326.4" fill="none" stroke="#2d5f9e" stroke-width="3.8" stroke-linejoin="round" stroke-dasharray="9 8" stroke-dashoffset="10" opacity="1"/>
<line x1="1505" y1="939" x2="1505" y2="1268" stroke="#ee1a78" stroke-width="3.8" stroke-dasharray="10.5 16"/>
</svg></body></html>
